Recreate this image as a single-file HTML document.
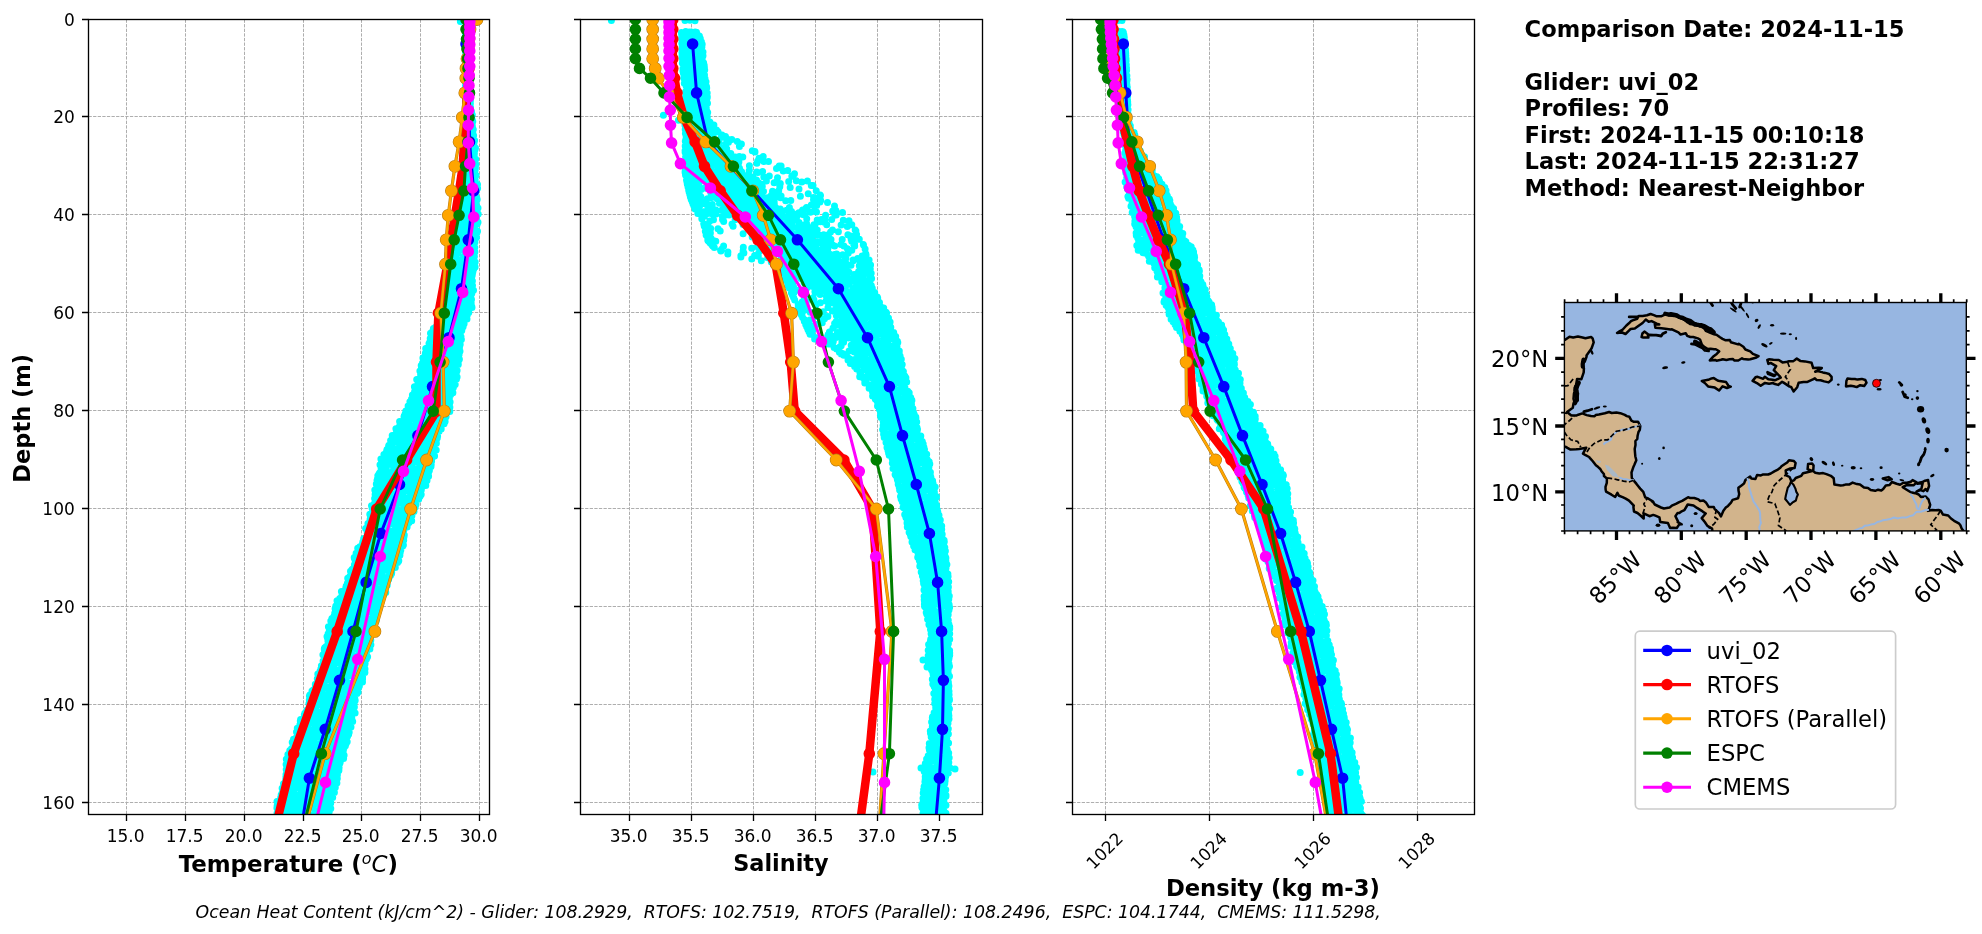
<!DOCTYPE html><html><head><meta charset="utf-8"><title>Glider vs model comparison</title><style>html,body{margin:0;padding:0;background:#fff}svg{display:block}</style></head><body><svg width="1982" height="934" viewBox="0 0 1982 934" font-family="'DejaVu Sans','Liberation Sans',sans-serif" style="will-change:transform">
<rect width="1982" height="934" fill="#fff"/>
<defs>
<clipPath id="cp0"><rect x="88.5" y="19.5" width="401" height="795"/></clipPath>
<clipPath id="cp1"><rect x="580.5" y="19.5" width="402" height="795"/></clipPath>
<clipPath id="cp2"><rect x="1072.5" y="19.5" width="402" height="795"/></clipPath>
<clipPath id="cpm"><rect x="1564.4" y="302.5" width="401.9" height="228.4"/></clipPath>
</defs>
<path d="M126.5 19.5V814.5M185.5 19.5V814.5M244.5 19.5V814.5M303.5 19.5V814.5M361.5 19.5V814.5M420.5 19.5V814.5M479.5 19.5V814.5M88.5 19.5H489.5M88.5 116.5H489.5M88.5 214.5H489.5M88.5 312.5H489.5M88.5 410.5H489.5M88.5 508.5H489.5M88.5 606.5H489.5M88.5 704.5H489.5M88.5 802.5H489.5" stroke="#aeaeae" stroke-width="1" stroke-dasharray="3.3 1.3" fill="none"/>
<g clip-path="url(#cp0)">
<path d="M460.4 21.5h0M467.3 31.7h0M469.6 32.1h0M465.6 32.7h0M470 33.1h0M466 33.2h0M467.9 33.2h0M467.1 33.5h0M468.3 33.5h0M465.5 33.8h0M470 35.2h0M468.2 35.2h0M469.9 36.3h0M466.7 36.4h0M465.5 37.4h0M469.8 38.1h0M465.5 38.3h0M465.5 39.3h0M467.7 39.5h0M468.5 39.5h0M469.6 39.7h0M468.1 39.7h0M466.8 41h0M469.6 41.1h0M465.5 41.2h0M470 41.7h0M466.6 41.8h0M465.5 42.8h0M469.7 43h0M466.3 43.4h0M467.1 43.4h0M470 43.7h0M470 45.1h0M469.4 45.5h0M470 46h0M466 46.1h0M469.9 46.8h0M469.2 47.1h0M465.5 48.6h0M469.1 50.1h0M467.4 50.2h0M469.3 50.3h0M470 50.8h0M466 52.2h0M465.5 52.4h0M470 52.7h0M468.9 53h0M466.3 53.9h0M470 55h0M469.1 55.2h0M469.4 55.2h0M465.5 57h0M466.3 57.2h0M467.5 57.6h0M466.9 58h0M470 58.2h0M466.8 58.9h0M465.5 59.6h0M469.3 60.2h0M465.7 60.3h0M467.7 61.1h0M468.3 61.2h0M469.8 61.4h0M465.5 61.7h0M468.5 61.8h0M469 62.4h0M465.5 63h0M465.5 63.4h0M470 64h0M468.4 65.8h0M470 66.3h0M467.6 66.3h0M465.5 66.7h0M469.5 66.8h0M466.7 66.9h0M468.2 67.3h0M468.9 67.4h0M470 67.6h0M465.5 68.7h0M465.7 68.8h0M467.3 70h0M468.5 71h0M465.5 71.1h0M470 71.3h0M469.7 72.1h0M465.8 72.5h0M467.1 72.8h0M469.8 73.6h0M465.5 74.8h0M470.1 75.9h0M468.2 76h0M470.1 78.6h0M465.5 79.1h0M467.4 79.1h0M466.6 79.2h0M466.7 80.7h0M465.5 81.9h0M469.9 82.7h0M469.3 83.5h0M470 83.8h0M468.2 84.5h0M465.5 85.7h0M469 86.4h0M469.3 87h0M470.3 88.4h0M469.6 88.5h0M465.5 89.1h0M468.3 89.5h0M469.3 89.5h0M465.5 89.7h0M470.3 90.2h0M466.4 91h0M470.2 91.3h0M469.1 92.1h0M468.6 92.9h0M465.5 93.6h0M470.3 94.6h0M470 95.4h0M470.3 96h0M465.5 96h0M466.2 96.7h0M469.6 97h0M465.5 98.6h0M468.8 98.6h0M467.2 98.7h0M470.4 99.1h0M469.8 99.2h0M466.2 100.7h0M470.4 100.9h0M469.6 101.6h0M466.6 101.7h0M465.5 102.6h0M469.4 102.8h0M470.4 103.5h0M466.7 104.6h0M466.2 104.9h0M465.5 105.1h0M470.5 107.2h0M470.5 108.2h0M466 108.3h0M465.7 109h0M468.5 109.5h0M469.7 110.7h0M470.1 111.3h0M471.4 111.4h0M469.1 111.8h0M465.5 111.9h0M465.9 111.9h0M466.8 112.3h0M471.7 112.9h0M469.1 113.5h0M472.3 115h0M465.7 115.6h0M468.7 116.3h0M471.4 116.4h0M466.1 116.4h0M465.5 117.8h0M466.8 119.4h0M470.6 119.4h0M472.2 120h0M466.4 120.2h0M466.5 121.5h0M472.8 121.6h0M472.3 121.8h0M470.5 122.9h0M471.1 123h0M467.5 123.4h0M471.1 125.5h0M472.3 125.6h0M472 125.6h0M466.2 125.7h0M472.4 126.5h0M469.7 126.5h0M469.1 127.2h0M466.7 127.3h0M467.6 127.7h0M467.1 127.7h0M471.6 128.4h0M469.2 128.7h0M473.3 129.6h0M467.2 129.9h0M467.4 130.2h0M470.9 130.7h0M471.8 131h0M468.9 131.9h0M466.9 132.3h0M472.7 133.2h0M472.9 133.5h0M468.7 133.7h0M471.8 134.1h0M467.6 134.4h0M471.3 135.1h0M468.2 135.6h0M473.6 135.6h0M469.2 136.4h0M472.6 136.4h0M469.7 136.5h0M467 136.5h0M467.4 138.2h0M472 138.4h0M468.1 139h0M472.9 139.2h0M473.5 139.4h0M472.2 139.7h0M474.6 140.4h0M472.4 140.5h0M470.2 140.8h0M466.5 141.2h0M474.2 142h0M472.6 143.1h0M468.7 143.2h0M466.5 144.2h0M470.9 144.4h0M470.5 144.7h0M473.6 144.9h0M467 145h0M474 145.7h0M469.6 145.8h0M468.1 147.2h0M475.5 148h0M473.7 148.2h0M468.2 148.8h0M475.1 149.5h0M468.1 150.2h0M472.4 150.5h0M467.5 150.8h0M473.5 151h0M471.1 152.4h0M474.4 153.2h0M468.4 154.4h0M474.3 154.5h0M469.3 155.2h0M466.5 155.4h0M466.2 155.5h0M469.9 157h0M470.3 157.7h0M473.5 157.8h0M473.8 158.3h0M472.8 159.1h0M475.7 159.2h0M467.2 159.6h0M473.9 159.7h0M466.6 160.5h0M470.6 161.4h0M466.7 162.4h0M473.9 162.5h0M474 163.9h0M475.9 164.5h0M470.2 164.8h0M469.2 165.1h0M467.5 165.6h0M467.8 165.9h0M472.8 166h0M474.4 167.1h0M475.4 168.1h0M465.8 168.6h0M468 168.7h0M464.6 169.7h0M465.6 169.8h0M475.2 170.1h0M472.3 172h0M468.7 172.1h0M473.6 172.1h0M471.1 173h0M465.6 173.2h0M467 174.3h0M467.5 174.7h0M468.1 175h0M476.1 175.2h0M466.8 176.3h0M474.7 178h0M464.8 178h0M472.3 178.6h0M468 179.7h0M469 180h0M475.2 180h0M473.3 180.5h0M465.2 180.9h0M472.1 181.8h0M465.8 183h0M465 183.1h0M477.5 184.6h0M469.4 184.8h0M472.4 185.2h0M464.9 185.3h0M473.2 187h0M466.5 188.3h0M477.6 188.3h0M470.1 188.5h0M468.7 188.6h0M464.7 188.6h0M463.2 188.9h0M475.5 189.5h0M465.1 190h0M474.4 190.1h0M465.7 190.7h0M463.4 190.8h0M470.5 191h0M471 191.6h0M476 192.4h0M469 193.4h0M466.3 193.6h0M475.3 194.6h0M464.4 195h0M466.7 195.1h0M465.9 195.7h0M468.9 196.9h0M472.7 197h0M467.9 197h0M464.6 197.7h0M476.8 198h0M472.5 198.1h0M470.5 198.2h0M467.5 198.5h0M475.5 199.1h0M477.2 199.5h0M462.2 200h0M472 201.9h0M470 202.2h0M475.6 202.3h0M476.3 202.8h0M462.7 203.3h0M474.4 203.5h0M474.2 203.8h0M465.7 204.1h0M461.8 204.2h0M466.8 204.3h0M466.3 204.7h0M475.2 204.7h0M473.9 204.8h0M463.5 204.9h0M464 205.9h0M475.4 206.5h0M466.1 207.7h0M468 207.7h0M463.5 208.1h0M478 208.1h0M464.9 208.9h0M460.3 209h0M475.2 209.3h0M459.8 209.9h0M474.6 210h0M467 211.1h0M471 211.4h0M462.8 212.3h0M475.7 212.4h0M477.1 212.5h0M461.8 212.6h0M460.1 213.7h0M478.2 214.1h0M473.3 214.5h0M465.7 215h0M471.8 215.7h0M476.4 217.1h0M459.9 217.1h0M459.9 217.3h0M468.5 217.4h0M459.9 218.7h0M467 218.9h0M475.8 219h0M460.9 219.7h0M459 220h0M473.9 220.3h0M472.2 221h0M469.2 221.1h0M458.1 222.2h0M478 222.3h0M470 223.1h0M460.1 223.3h0M461.2 223.3h0M457.8 223.4h0M473.5 224.1h0M465 224.2h0M477.2 224.3h0M474.5 224.3h0M474.7 226.7h0M459.4 227h0M458.2 227.8h0M459.5 228.5h0M461.9 228.7h0M468.3 228.7h0M472.6 229.1h0M459.1 229.6h0M457 229.7h0M470.9 229.8h0M471.9 230.5h0M468.4 231.1h0M477.5 231.2h0M459.8 231.6h0M470.4 232.1h0M458.6 232.1h0M464.5 232.3h0M473.9 232.6h0M476.9 232.7h0M457.6 233h0M457 233.3h0M456.4 233.4h0M458.5 234.1h0M458.3 234.6h0M469.7 234.8h0M457.8 234.8h0M473.9 236h0M475.6 237.1h0M473.6 237.3h0M476.5 237.4h0M458.7 237.5h0M460.3 237.9h0M465.7 238.4h0M457.2 238.5h0M456.3 239.2h0M469 239.8h0M457.7 240h0M474.9 242.2h0M472.9 242.7h0M455.9 242.7h0M456 243.4h0M462.1 243.6h0M471.6 244.3h0M471.8 244.8h0M470.7 245.1h0M468.1 245.2h0M462.7 245.4h0M462.1 246.2h0M474.2 247h0M474.8 247.4h0M459.3 247.5h0M458.3 247.6h0M456.2 248.1h0M471 248.4h0M467.1 249.2h0M456.5 249.3h0M460 249.6h0M473.4 250.6h0M467.6 252h0M474.9 252h0M472 252h0M456.7 252.2h0M465.4 252.5h0M456.2 252.6h0M458.4 253h0M455.5 253.4h0M465.6 255.1h0M472.4 255.6h0M456.5 255.6h0M474.4 256.6h0M454.2 256.8h0M463.5 257h0M455 257.9h0M454.4 258.1h0M472 258.7h0M469.2 259.2h0M457.5 259.4h0M452.8 259.4h0M465 259.8h0M472.1 260h0M470.9 260.2h0M461 260.7h0M472.7 261.2h0M459.6 262.1h0M475.2 262.1h0M453.3 262.6h0M456.2 264h0M469 264.3h0M471.4 265h0M462.3 265.1h0M452.3 265.2h0M475.1 266.9h0M453.6 267.1h0M473.7 267.1h0M457.1 267.5h0M461.8 267.6h0M453.8 268h0M467.7 268.7h0M473.8 269h0M460.3 269.6h0M454 270.3h0M470.9 270.3h0M469.6 270.7h0M455.9 271.3h0M471.9 271.7h0M472.9 271.8h0M459.4 271.9h0M451.5 272.4h0M464.6 273.5h0M471.3 273.7h0M472.4 274.3h0M469.7 274.4h0M472.2 275.6h0M470.8 276.3h0M453.2 276.5h0M462.2 276.7h0M450.6 277h0M471.7 277.2h0M457 277.2h0M452.4 277.6h0M458.9 278h0M456.8 278.1h0M471.2 278.5h0M466.3 278.6h0M468.4 279.4h0M456.1 279.6h0M472.4 280.9h0M461.6 281.5h0M453.1 281.8h0M458.6 282h0M471.6 282.3h0M451 282.8h0M453.4 283.2h0M465.7 283.5h0M471.6 283.8h0M451.5 284.2h0M449 284.4h0M469.6 284.8h0M472.5 285.4h0M462.6 285.8h0M462.2 285.9h0M470.6 286.3h0M449.5 286.5h0M458.9 286.7h0M456.9 287.2h0M452.5 287.5h0M453.6 287.8h0M467.3 288.1h0M472.1 289.4h0M467.1 289.4h0M473.5 290.2h0M459.2 290.7h0M470.8 290.9h0M449.4 291.1h0M462.9 291.5h0M465 292h0M452.1 292.5h0M467.4 292.9h0M449.4 293.4h0M471.8 293.4h0M470.6 294h0M454.9 294.3h0M450.5 294.4h0M470.9 294.5h0M460.4 294.5h0M469.9 295.6h0M462.5 295.7h0M446.2 297.3h0M461.6 297.5h0M467 297.6h0M469.4 298.1h0M471.1 298.6h0M450.9 298.7h0M456.5 299.1h0M446.2 299.2h0M471.5 299.6h0M452.2 299.6h0M471.1 299.9h0M460.6 300.7h0M445.4 300.9h0M464.6 301h0M449.9 301.2h0M470.4 301.6h0M459.8 302.5h0M449.2 302.5h0M453.3 302.6h0M471.2 303.1h0M466.2 303.6h0M445.7 303.9h0M461.2 304.3h0M468 304.3h0M454.4 304.4h0M462.2 304.5h0M466.8 305.1h0M469.8 305.2h0M454.8 305.5h0M447.3 306.1h0M471.8 306.6h0M456.1 306.9h0M459.1 307h0M464.9 307.4h0M472 307.6h0M452.1 307.7h0M466.5 307.8h0M457 308.5h0M446.7 308.8h0M462.6 309.1h0M467.8 309.9h0M446.4 310.4h0M446.6 311.6h0M454.3 312.2h0M462.5 312.3h0M468.8 312.4h0M451.3 313h0M444 313.6h0M449.8 313.8h0M445 314.7h0M467.4 314.8h0M457.3 315h0M448.6 315.1h0M463.2 315.2h0M449.3 315.3h0M456.9 316.1h0M443.1 316.1h0M446.8 316.9h0M441.9 317h0M466.4 317h0M457 317.5h0M463.2 317.7h0M453.3 318.5h0M445 318.9h0M441.9 319.1h0M462.3 319.1h0M467 319.1h0M455.6 319.8h0M443.8 319.8h0M464.7 319.9h0M442.1 320h0M448.9 321.1h0M437.7 321.7h0M446.3 321.8h0M442.7 321.8h0M462.2 321.9h0M441.4 321.9h0M463.8 322.7h0M450.8 323.5h0M464.1 323.8h0M461.1 324.1h0M441 324.3h0M446.3 324.7h0M447.5 325.1h0M437.9 325.1h0M457.5 325.2h0M447.6 325.8h0M453.1 325.9h0M463.1 326.7h0M444.1 327h0M435.1 327.5h0M444.6 328.1h0M433.4 328.6h0M437.6 328.7h0M459.7 329.4h0M460.2 329.8h0M438.4 330.3h0M461.8 330.6h0M453.6 330.6h0M444 330.8h0M457.7 332h0M432.1 332.1h0M449.9 332.2h0M449.6 332.3h0M443.8 332.6h0M453.1 332.8h0M441 333.2h0M430.5 333.3h0M451.6 334.3h0M440 334.4h0M460.3 334.6h0M450 334.7h0M457 335h0M437.7 335.2h0M448.3 335.3h0M459.3 335.3h0M455.4 336.2h0M461 336.8h0M451 337.3h0M435.7 337.3h0M431.1 337.3h0M447.1 337.6h0M451.6 338.1h0M459.6 338.3h0M430.2 338.5h0M434.3 338.9h0M449.2 339h0M442.5 339.3h0M459.9 339.5h0M438.4 339.5h0M461.4 339.5h0M441.6 340.2h0M433.3 341h0M445.7 341.1h0M438.4 341.4h0M446.1 341.5h0M443.1 341.6h0M439.6 341.6h0M457.5 341.8h0M451.3 341.9h0M432.6 341.9h0M448.7 342h0M447.9 342.1h0M429.7 342.2h0M436.7 342.5h0M429 343.6h0M430.1 343.8h0M455.9 344.4h0M460.2 344.5h0M459.8 345.3h0M448.6 346.3h0M443.4 346.5h0M454.2 346.6h0M433.8 347h0M437.7 347h0M450.8 347.5h0M431.4 347.7h0M459.5 347.7h0M429.8 347.9h0M431.3 347.9h0M457.2 348h0M425.7 348.6h0M449.7 348.7h0M456.6 349h0M455.5 349.1h0M458.1 349.1h0M429.7 349.3h0M440.4 349.4h0M437 349.4h0M457.5 349.9h0M444.4 349.9h0M433.6 350.8h0M460 351.2h0M445 351.7h0M443.9 351.7h0M433.9 351.8h0M429.1 351.8h0M438.8 352.2h0M449.8 352.3h0M431.4 352.4h0M447.3 352.6h0M447.2 352.7h0M427 352.8h0M447.3 353.2h0M425.3 353.3h0M426 353.5h0M451.4 353.8h0M429.1 354h0M456.7 354h0M459.1 354.4h0M436.3 354.7h0M429.3 355.4h0M443.1 356.5h0M443.8 356.5h0M449.3 356.7h0M426.9 356.8h0M426.1 356.9h0M438.2 357h0M423.9 357.3h0M440.4 357.7h0M452.5 357.8h0M433.7 357.8h0M458 357.9h0M422.9 358h0M443.4 358.4h0M451.8 358.5h0M451.5 358.6h0M457.5 358.7h0M459.4 359.3h0M431.3 360.3h0M435.8 360.5h0M457.4 360.7h0M424.7 360.9h0M441.1 361.3h0M446.3 361.5h0M437.2 362.2h0M431 362.2h0M427.1 362.5h0M458.2 362.9h0M422.5 362.9h0M452.8 363.7h0M422.5 364.3h0M458.3 364.5h0M458.2 364.6h0M428.9 364.9h0M430.9 364.9h0M444.3 365h0M445.2 365.5h0M421.2 365.6h0M442.7 365.8h0M426.7 366.1h0M435.9 366.2h0M449.9 366.6h0M421.9 366.7h0M421.4 366.8h0M453.6 366.9h0M442.8 367.1h0M452.2 367.2h0M426.3 367.3h0M451.9 367.4h0M432.1 367.5h0M437.3 367.6h0M456.1 368h0M428.1 369.2h0M431.2 369.8h0M453.2 369.9h0M444.4 370.4h0M457.1 370.4h0M431.4 370.8h0M419.9 370.9h0M436.8 370.9h0M440.3 371h0M438.2 372h0M451.1 372h0M454.6 372.3h0M422.2 372.3h0M445.9 372.4h0M437.3 372.7h0M456.3 373.3h0M422.8 373.7h0M455.1 374.1h0M421.6 374.6h0M452.4 374.7h0M449.3 374.7h0M420.6 374.8h0M427.7 375.4h0M444.5 375.6h0M453.5 375.6h0M436.2 375.8h0M432 376h0M438.3 376h0M437.2 376.8h0M438.1 376.8h0M457.1 377.1h0M421.2 377.2h0M427.5 377.5h0M422.4 377.5h0M456.1 378.1h0M451.4 378.1h0M449.8 378.4h0M423.9 378.7h0M456.5 378.9h0M416.7 379.4h0M429.9 379.6h0M452.7 379.7h0M433.2 380h0M423.7 380.1h0M444.5 380.3h0M440.8 380.5h0M436 381.7h0M419.4 381.9h0M421.4 382h0M418.1 382.2h0M423.4 382.2h0M450.4 382.9h0M455.2 384.4h0M428 384.5h0M435 384.6h0M450.9 384.6h0M439.3 385.2h0M432.4 385.4h0M417.9 385.5h0M445.2 385.5h0M436.2 385.6h0M435.3 386h0M434.8 386.2h0M414.4 386.7h0M420.7 386.8h0M415 387.2h0M426.7 387.5h0M453.4 387.5h0M452.5 387.9h0M438.4 388h0M427 388.2h0M422.1 388.8h0M425.1 389.2h0M432.2 389.2h0M451.5 389.4h0M415.8 389.5h0M447.8 389.6h0M441.5 389.8h0M439.2 390.1h0M446.2 390.2h0M426.1 390.3h0M435.5 390.7h0M429.3 390.9h0M431.5 390.9h0M418 391.4h0M414.6 391.4h0M446.5 391.7h0M414.8 391.7h0M416.8 391.9h0M445 392.2h0M452.9 392.7h0M424.3 393.4h0M450.9 394.5h0M440.7 394.7h0M434.7 395.1h0M412.4 395.1h0M431.8 395.5h0M445.9 395.8h0M439 395.9h0M428.9 396.1h0M449.4 396.3h0M415.3 396.3h0M419.4 396.5h0M443.1 396.6h0M415.1 396.7h0M438.4 397.1h0M449 397.3h0M442.7 397.3h0M447.3 397.4h0M449.4 397.9h0M416.5 398.7h0M424.7 398.8h0M412.6 398.9h0M411.5 398.9h0M449.2 399.2h0M412.5 399.7h0M441.1 400h0M413.3 400.6h0M429.6 400.6h0M446.9 400.8h0M432.7 401.1h0M419.6 401.1h0M435.2 401.1h0M448.5 401.4h0M437 401.7h0M409.9 401.8h0M450.1 402.1h0M417.1 402.8h0M424.3 402.9h0M410.6 403.6h0M413.8 403.7h0M449.5 404.3h0M417.1 404.3h0M410.8 404.4h0M435.6 404.5h0M425.2 404.5h0M442.7 405h0M432.8 405.3h0M424.3 405.7h0M408.1 406.1h0M429.4 406.2h0M448 406.9h0M449.9 407.2h0M419.6 407.3h0M444.5 407.4h0M422.2 407.6h0M437.6 408h0M408.4 408.4h0M410.9 408.9h0M414.5 409.1h0M413.9 409.2h0M423.9 409.4h0M432.6 409.5h0M431.2 409.6h0M435.6 409.8h0M448.7 410h0M411.3 410.5h0M405.8 411.1h0M449.8 411.5h0M441 411.5h0M443.5 411.7h0M420 412.5h0M415.5 412.7h0M443.1 412.8h0M425.4 412.9h0M428.9 413h0M421 413.5h0M438.6 413.6h0M405.2 413.8h0M407.8 414h0M406.4 414.1h0M429.5 415.6h0M404.3 415.7h0M407.3 416h0M438.8 416.2h0M433.8 416.5h0M405.4 416.6h0M446.1 416.6h0M404 416.8h0M446.1 416.8h0M412.6 417h0M435.3 417h0M417.2 417.2h0M417.8 417.3h0M438.8 418.3h0M429.6 418.6h0M445 418.6h0M433.4 418.6h0M407.7 418.6h0M404.2 418.7h0M423.4 418.9h0M413.3 418.9h0M428 418.9h0M434.7 419h0M441 419.5h0M428.5 420.6h0M419.6 420.7h0M402.9 421.1h0M441.4 421.5h0M399.6 421.5h0M445.1 421.5h0M415.7 422h0M408.7 422.8h0M441.9 423h0M431.8 423.2h0M426.9 423.3h0M424 423.7h0M444.1 423.8h0M401.2 424h0M438.6 424h0M421.7 425h0M399.8 425.4h0M402.6 425.4h0M409.9 425.6h0M435 425.6h0M427 425.7h0M434.3 425.8h0M405.2 425.9h0M436.5 426h0M422.9 426h0M440 426.3h0M435.3 426.3h0M416.5 426.4h0M441 427.5h0M432.9 428.6h0M433.7 428.6h0M395.9 428.8h0M441.2 428.9h0M424.8 429h0M427.6 429.2h0M397.3 429.4h0M416.3 429.7h0M422.5 430.1h0M406.2 430.2h0M397.5 430.4h0M412.4 430.5h0M438 430.6h0M399.5 430.7h0M402.9 430.7h0M429.5 431.1h0M439.2 431.2h0M400.5 431.3h0M417.3 431.4h0M405.6 432h0M426 432.8h0M397 433.4h0M437.2 433.5h0M431.4 433.7h0M395.7 433.9h0M412.2 434.3h0M405.5 435h0M421.7 435.3h0M406.7 435.3h0M419.4 435.4h0M392.2 435.6h0M433.8 435.6h0M410.8 435.6h0M397.9 436.2h0M437.6 436.3h0M436.5 436.5h0M401.8 436.5h0M392.4 437.7h0M395.6 437.8h0M437.3 438.1h0M432.6 438.2h0M425.4 438.4h0M430.4 438.5h0M414.3 438.5h0M419.4 438.9h0M406.4 439h0M401.1 439.2h0M392 439.4h0M419.8 440.1h0M431.7 440.1h0M400.2 440.3h0M409.7 440.4h0M390.6 440.6h0M436.2 440.9h0M435.4 441.5h0M422.6 441.9h0M392.1 442.3h0M398 442.5h0M403.4 443.1h0M436.4 443.2h0M426.8 443.3h0M415.6 443.4h0M421.5 443.5h0M429.7 443.5h0M401.1 443.5h0M408.2 443.6h0M391 444.2h0M418.2 444.9h0M392.3 445h0M410.5 445h0M408.9 445.1h0M388.9 445.3h0M389.5 445.4h0M404.7 445.5h0M414 445.6h0M426.7 445.8h0M388.6 446h0M434 446.9h0M389.7 447.3h0M430.8 447.9h0M405 448.2h0M413.4 448.5h0M407.4 448.6h0M398.3 448.6h0M388.3 448.8h0M423.7 448.8h0M418.1 449h0M398 449.3h0M387 449.4h0M431.7 449.5h0M407.5 449.8h0M436.2 450h0M393.3 450h0M416.6 450.2h0M432.5 450.4h0M419.1 450.5h0M431.8 450.8h0M426.1 451h0M386.6 451h0M409.6 451.8h0M398.9 451.9h0M427.5 451.9h0M432 452.4h0M393.1 452.5h0M415.7 452.8h0M406.2 453.3h0M386.4 453.3h0M402.5 453.6h0M401 454.1h0M392.3 454.2h0M393.2 454.4h0M383.9 454.5h0M384.4 454.7h0M411.9 454.7h0M387 455h0M421.9 455.3h0M419.6 455.7h0M426.7 455.7h0M434.6 456h0M423.5 456.1h0M432.8 457h0M409.9 457.8h0M415.5 457.9h0M401.5 457.9h0M423.1 458h0M384.2 458.1h0M395.4 458.2h0M386.1 458.4h0M404.6 458.4h0M383.2 458.5h0M398.2 458.5h0M380.9 459.1h0M389.2 460h0M382.2 460.2h0M408.6 460.2h0M428.8 460.3h0M416.2 460.6h0M430.8 460.8h0M385.5 460.8h0M411.4 460.9h0M415 461h0M422 461.1h0M431.6 461.2h0M407.4 461.2h0M430.2 461.6h0M396.9 461.9h0M389 462h0M425.5 462.1h0M417.1 462.4h0M408.7 462.9h0M382.8 463h0M396.7 463.1h0M393.1 463.7h0M381.9 463.8h0M398.9 463.9h0M383.6 463.9h0M390.3 464.3h0M412 464.4h0M403.8 464.4h0M401.3 464.5h0M380 464.8h0M386.1 464.8h0M431.2 464.8h0M422.9 464.9h0M382.1 465.5h0M382.7 465.8h0M428.3 465.9h0M426.1 466.4h0M431 466.4h0M408.6 467.3h0M381.6 467.5h0M406.2 467.8h0M393.7 468h0M418.9 468.1h0M422.7 468.6h0M405 468.7h0M381.1 468.9h0M381.9 469.1h0M386.4 469.2h0M399.1 469.3h0M382.4 469.3h0M401.1 469.4h0M393.5 469.4h0M415.8 469.5h0M410.3 469.5h0M427.4 469.9h0M429.4 470.4h0M412.2 470.7h0M418.5 470.8h0M428.4 470.9h0M382.6 471.1h0M423.9 471.4h0M394.9 471.7h0M408.7 472.2h0M392 472.3h0M407.1 472.3h0M428.6 472.5h0M379.7 472.7h0M380.6 473.5h0M379 473.7h0M399.2 473.9h0M379.3 474h0M391.7 474.1h0M387.5 474.3h0M387 474.5h0M425 474.6h0M417.7 474.7h0M400.4 475.1h0M402.3 475.2h0M410.3 475.4h0M382.1 475.5h0M412.7 475.5h0M424.9 475.6h0M377.8 475.7h0M425.5 475.9h0M411.6 475.9h0M404.8 476.2h0M428.6 476.3h0M398.9 476.5h0M422.3 476.6h0M419.6 476.7h0M408.3 477.5h0M380.6 477.8h0M395.8 478.1h0M394.4 478.1h0M377.5 478.7h0M381.6 478.8h0M416.4 478.8h0M378.9 479h0M388.8 479h0M420.6 479.3h0M387.5 479.3h0M427 480.4h0M377 480.5h0M406 480.6h0M425.3 481.1h0M393.5 481.3h0M414.2 481.4h0M419.3 481.8h0M410.1 482h0M401.8 482.2h0M399.4 482.5h0M380.6 482.7h0M379.4 482.7h0M383.4 483.3h0M377 483.3h0M396.4 483.3h0M416.9 483.7h0M376.3 483.9h0M407.7 483.9h0M423.2 484.1h0M387.5 484.2h0M420.3 484.3h0M390.1 484.4h0M400.9 484.7h0M407.7 484.8h0M376.7 485h0M378.8 485.3h0M413.5 485.4h0M425.8 485.5h0M406 486h0M399.1 486.4h0M409.4 486.4h0M416.4 486.4h0M379.7 486.8h0M386 486.9h0M395.2 487.3h0M400.7 487.4h0M417.6 487.6h0M396.7 488.4h0M400.2 488.7h0M389 488.9h0M421.4 489h0M389.9 489.3h0M401.2 489.6h0M383 489.8h0M374.8 489.9h0M421.3 489.9h0M381.7 490h0M407.3 490.2h0M389.6 490.8h0M407.7 491.1h0M413.6 491.2h0M378.2 491.5h0M403 492.1h0M397 492.2h0M413.5 492.3h0M402.9 492.5h0M375.7 492.7h0M397.5 492.9h0M377.5 493.6h0M382 493.8h0M415.6 493.9h0M394.1 493.9h0M386.9 494h0M398.6 494.5h0M375.1 494.5h0M421.2 494.6h0M384.6 494.6h0M382.3 494.7h0M376.7 495h0M395.4 495.2h0M418.6 495.2h0M388.9 495.5h0M391.2 495.8h0M416.7 496.1h0M420.1 496.3h0M413.2 496.3h0M384.5 496.6h0M398.4 497.1h0M391.9 497.2h0M388.7 497.3h0M389.3 497.3h0M410 497.5h0M377.9 497.5h0M407.5 497.7h0M377 498.2h0M374.6 498.4h0M403.6 498.5h0M411.7 498.8h0M390.4 499.2h0M418.7 499.3h0M375.9 499.4h0M384.4 499.6h0M418 499.6h0M375.5 499.8h0M416.7 499.9h0M386.3 500.2h0M398.6 500.3h0M378.2 501h0M376.6 501.3h0M396.9 501.8h0M386.5 502h0M402 502.2h0M408 502.3h0M375.7 502.5h0M394.4 502.9h0M380 503h0M377.2 503.3h0M416 503.5h0M398.8 503.6h0M389.6 503.6h0M374.2 503.8h0M375.1 504.1h0M412.7 504.4h0M416 504.6h0M381.7 504.8h0M403.5 505h0M383.7 505.3h0M403.7 505.7h0M371.5 505.8h0M394.2 506.2h0M388.4 507.1h0M408.7 507.2h0M415.2 507.3h0M392.5 508h0M372.1 508.4h0M378.3 508.6h0M381.2 508.7h0M382.8 508.7h0M373.4 508.8h0M413.5 509h0M398.2 509.9h0M413.4 510.5h0M384.5 510.6h0M378.1 510.8h0M399.9 510.9h0M409.2 511h0M414 511.6h0M403.6 512h0M402.3 512.1h0M394.7 512.2h0M374.1 512.4h0M389 512.6h0M392 513.3h0M380.4 513.3h0M373.6 513.3h0M410.8 514.1h0M385.2 514.1h0M377.8 514.2h0M369.8 514.2h0M404.7 514.3h0M370.1 515h0M411.9 515.8h0M395.3 516.1h0M411.3 516.2h0M400.8 516.9h0M385.5 517.1h0M380.7 517.2h0M383 517.4h0M377.3 517.9h0M390 518.3h0M409.6 518.8h0M372 518.8h0M370.1 519.3h0M404.4 519.3h0M398.6 519.6h0M378.8 520h0M406.5 520h0M373.9 520.2h0M411.7 520.8h0M392.4 520.8h0M390.2 521h0M386.2 522.1h0M409.1 522.4h0M377.2 522.5h0M383.3 522.7h0M371.1 523.1h0M393.3 523.5h0M367.9 523.6h0M392.3 523.8h0M396.2 524.2h0M401.5 524.6h0M379.8 524.9h0M398.4 525.2h0M375.8 525.3h0M407.3 525.3h0M406.5 525.5h0M367.8 525.8h0M395.4 525.8h0M407.1 527.1h0M387.3 527.2h0M402.7 527.4h0M376.6 528.3h0M365.6 528.6h0M384.9 528.6h0M402.4 529h0M371.2 529.4h0M383.7 529.6h0M380.6 530.1h0M401.9 530.2h0M403.8 530.3h0M368.4 530.5h0M392.6 530.7h0M394.3 531.3h0M375.9 531.8h0M397.9 531.9h0M383.1 531.9h0M393.4 532.1h0M390.1 532.2h0M369.9 532.5h0M387.1 532.9h0M383.9 533.2h0M367.4 533.2h0M367.2 533.3h0M399.5 534.1h0M368.5 534.5h0M369.2 534.8h0M398.2 534.8h0M400 535h0M404.3 535.1h0M400.8 535.2h0M388.8 535.3h0M368.2 535.6h0M392.3 536.5h0M404 536.8h0M377.8 536.8h0M367.3 536.9h0M373.9 537h0M390.1 537.1h0M371.2 537.2h0M381 537.4h0M385.4 537.5h0M391 537.7h0M374.9 538.2h0M378.5 538.4h0M401.8 538.5h0M363.7 538.6h0M379 538.8h0M374.3 539.1h0M396.2 539.4h0M398.7 539.7h0M389.7 540h0M403.7 540.2h0M369.6 540.7h0M390.9 541.5h0M363.5 541.5h0M373.6 541.6h0M362.9 541.8h0M365.2 541.8h0M392.2 542h0M388.6 542.6h0M384.6 542.7h0M362.6 543.1h0M401.2 543.6h0M375.8 543.6h0M364.9 544.4h0M395.4 544.8h0M385.1 544.8h0M403.4 545h0M378.9 545h0M367.5 545.3h0M389.7 545.4h0M382 545.8h0M397.4 545.9h0M402.8 546.1h0M359.8 546.7h0M388 546.7h0M384.8 546.8h0M372.1 546.9h0M360.4 547.2h0M357.7 548.2h0M399.8 548.3h0M360.8 548.3h0M373 548.6h0M361.8 549h0M368.5 549.4h0M378.8 549.8h0M397.9 549.8h0M363.9 550h0M392.1 550h0M393.2 550.1h0M400.8 550.2h0M366.1 550.2h0M376.5 550.3h0M381.5 550.4h0M391.7 550.7h0M368.6 551.2h0M373 551.7h0M357.8 551.7h0M372.5 552.1h0M400.2 552.6h0M385.3 552.7h0M392.3 552.9h0M356.1 553.2h0M388.2 553.9h0M365.7 554h0M378.5 554h0M361.5 554.1h0M395.8 554.7h0M389.3 554.7h0M394.1 554.9h0M376.2 555.2h0M399.9 555.3h0M372.6 556.3h0M365.9 556.6h0M359.5 556.6h0M383.1 556.7h0M383.2 556.8h0M356.8 556.9h0M397.3 557.2h0M354.2 557.5h0M382.1 558.1h0M370 558.1h0M395.8 558.1h0M354.3 558.2h0M361.4 558.5h0M395.1 558.7h0M364.5 558.9h0M386.8 559.1h0M373.5 559.7h0M377.7 559.9h0M397.1 560h0M389.7 560.3h0M379.4 560.6h0M398.8 560.7h0M398.7 560.9h0M360.1 561.2h0M369.2 561.2h0M382.6 561.3h0M357.8 561.4h0M363.1 561.6h0M387.1 561.7h0M397.6 562.4h0M355.2 562.5h0M368.9 562.7h0M356.4 562.7h0M356.4 563.7h0M388.7 564.4h0M394.9 564.6h0M354.4 564.8h0M379.5 564.8h0M375.5 565h0M391.8 565.1h0M393.9 565.3h0M362.2 566h0M359 566.3h0M382 566.3h0M366.7 566.6h0M374.1 566.7h0M370.6 567.3h0M383.8 567.4h0M395.3 567.5h0M391.4 568.2h0M382.4 568.2h0M352.5 569h0M352 569.4h0M378.2 569.4h0M374.7 569.7h0M387.8 569.8h0M390.8 569.9h0M355.1 570h0M369.5 570.2h0M363 571.3h0M350.5 571.3h0M380 571.5h0M364.2 571.6h0M352.5 572h0M391.7 572.3h0M382.5 572.5h0M361.9 573.1h0M359.3 573.2h0M354.5 573.5h0M368.4 573.6h0M353.2 573.6h0M391.6 573.6h0M363.9 573.8h0M351.8 573.9h0M353.5 574.2h0M365.7 574.3h0M356.3 574.5h0M374.5 574.6h0M389.4 574.6h0M370.8 574.7h0M381.6 575h0M390.5 575.6h0M359.9 576h0M349.9 576.2h0M364.9 576.5h0M376.1 576.6h0M381.1 576.7h0M373.6 576.9h0M388.2 577.5h0M386.1 577.5h0M347.7 578.3h0M381.5 578.6h0M349 578.8h0M388.7 579.2h0M372.3 579.3h0M356.1 579.3h0M352.1 579.7h0M370.6 580.2h0M386.8 580.3h0M354.8 580.6h0M368.9 581h0M379 581.4h0M362.8 581.5h0M350.8 581.7h0M357.8 582.7h0M373.2 582.7h0M386.4 582.8h0M347.4 583.2h0M354.7 583.3h0M366.5 583.7h0M384 584h0M375.5 584.2h0M385.2 584.4h0M382.6 585.2h0M387.2 585.3h0M350.9 585.4h0M366.2 585.5h0M371 585.7h0M346.2 586h0M362.9 586.4h0M355.4 586.4h0M347.4 586.5h0M361.1 586.7h0M374.3 586.7h0M348.7 587.1h0M345.8 587.8h0M347.7 587.9h0M371.3 588h0M349.4 588.2h0M384.7 588.5h0M377.9 588.8h0M356.6 588.8h0M384.9 589.3h0M348.9 589.8h0M381.4 590.3h0M379.1 590.4h0M364 590.6h0M349 590.7h0M365.1 590.7h0M354.2 591.1h0M376.2 591.3h0M366.4 591.4h0M350.7 591.6h0M341.4 591.6h0M384.3 591.9h0M344.1 592.3h0M385.8 592.4h0M345.9 592.7h0M343.6 592.7h0M358.1 592.8h0M355.6 592.9h0M371.6 593.1h0M357.4 593.5h0M366.6 594.6h0M383.7 594.7h0M381.9 594.8h0M379.5 595h0M360.7 595h0M341.9 595.7h0M364.3 596.4h0M343.2 596.6h0M373.5 597h0M382.3 597.1h0M344.8 597.4h0M351.7 597.4h0M353 597.8h0M359.1 598.1h0M348.2 598.2h0M368.2 598.2h0M339.7 598.6h0M371.9 599.3h0M343.2 599.3h0M374.5 599.5h0M378.7 599.8h0M380.7 600h0M379.9 600.1h0M340.5 600.1h0M363.4 600.2h0M337 600.7h0M348.3 601.8h0M379.9 602h0M357.3 602.1h0M344.4 602.5h0M379 602.6h0M354.9 602.6h0M374.7 602.9h0M366.2 603h0M377.6 603.3h0M361.8 603.5h0M374.6 603.9h0M372.9 604.1h0M377.5 604.6h0M343.2 604.6h0M371 604.6h0M378.7 604.7h0M344.4 604.9h0M346 605.4h0M351.8 605.5h0M335.8 606h0M339.4 606.2h0M354.6 606.2h0M362.7 606.2h0M378.7 606.6h0M337.4 606.7h0M371.4 607.2h0M358.8 607.4h0M369.1 607.6h0M353.7 607.7h0M351.3 608h0M372.7 608.1h0M358.5 608.6h0M335.1 608.7h0M374.5 608.9h0M374.9 609h0M349.4 609.1h0M339.7 609.2h0M378.8 609.5h0M372 609.6h0M359.6 609.9h0M341.8 610h0M355 610.6h0M365.9 610.7h0M335.5 610.8h0M367.4 610.9h0M376.9 611.1h0M349.5 612.2h0M346.9 612.3h0M346 613.1h0M334.7 613.3h0M341 613.4h0M361.1 613.5h0M359.1 613.9h0M374.1 614h0M365.9 614.1h0M376.5 614.3h0M372.8 614.4h0M351.6 614.7h0M341 615.5h0M351 615.5h0M365.2 615.7h0M334.1 616h0M375 616.3h0M355 616.4h0M337.8 616.8h0M373.9 616.9h0M349 616.9h0M355.5 617.2h0M333.3 617.9h0M348.6 617.9h0M373.4 618.4h0M331.9 618.6h0M366.3 619.1h0M359.2 619.1h0M370.4 619.1h0M376.5 619.4h0M369.6 619.5h0M344.9 619.9h0M347.9 620.1h0M364.4 620.5h0M353.3 620.6h0M365.2 620.7h0M358 620.8h0M364.9 620.8h0M376.1 620.9h0M330.8 620.9h0M340.5 621.8h0M336.4 622h0M331.5 622.5h0M368.2 622.7h0M372.5 623h0M364.9 623.2h0M338.5 623.2h0M347.6 623.5h0M362 624.1h0M366.6 624.2h0M342.7 624.3h0M374.4 624.4h0M371.2 624.6h0M336.8 624.6h0M362.1 624.9h0M355.8 625h0M340.6 625.1h0M351.1 625.2h0M349.7 625.2h0M332.7 625.7h0M373.6 625.9h0M331.8 626.2h0M328.4 626.7h0M345.5 626.7h0M337.3 627.5h0M343 627.6h0M361.6 628.3h0M330.9 628.4h0M333.6 629h0M348.9 629h0M362.8 629.1h0M352.1 629.3h0M370.5 629.3h0M368.3 629.5h0M356.1 629.8h0M371.1 630.6h0M360 630.8h0M348.3 631.1h0M368.9 631.3h0M329.2 631.4h0M356.5 631.5h0M370.5 631.6h0M337.7 631.7h0M349.6 631.7h0M343.9 632h0M360 632h0M351.5 632.3h0M368.5 632.5h0M333.1 633.3h0M364.1 633.4h0M328.1 633.7h0M366.4 633.7h0M330.8 634h0M366.3 634.6h0M344.1 635.2h0M353.5 635.4h0M357.6 635.4h0M338.9 635.4h0M359 635.8h0M370 636.1h0M347 636.4h0M327 636.5h0M358.7 636.8h0M369.6 636.8h0M338.2 636.8h0M336.1 636.8h0M349.5 636.9h0M360 636.9h0M339.5 637.6h0M327.4 637.8h0M368.9 637.8h0M363.8 638.2h0M330.5 638.3h0M330.7 639.1h0M346.9 639.3h0M358.6 640h0M370.8 640.2h0M355.7 640.3h0M332.4 640.3h0M340.5 640.4h0M351.9 640.5h0M343.7 640.9h0M327.9 641.1h0M365.6 641.7h0M330.8 641.7h0M339.4 641.8h0M367.6 642.1h0M367.3 642.5h0M328.4 643h0M335.6 643.3h0M357.8 643.6h0M360.6 644.1h0M366.2 644.2h0M340.7 644.2h0M347.7 644.6h0M370.9 644.7h0M350.7 645h0M340.1 645h0M332.1 645.6h0M333.4 645.6h0M351.6 645.8h0M342.1 646h0M353 646.3h0M326.1 646.4h0M349.6 646.6h0M368.3 647h0M352.2 647.4h0M362.1 647.4h0M324.7 647.7h0M330.1 647.7h0M333.3 648h0M324.3 648.8h0M369.9 648.9h0M366.3 649h0M356.6 649.3h0M341.6 649.3h0M324.3 649.7h0M367.5 649.7h0M345.4 650.1h0M336.4 650.2h0M334.7 650.5h0M343.3 650.5h0M350 650.5h0M329.1 650.7h0M333.7 651.2h0M326.4 651.3h0M340.5 651.4h0M327.6 651.4h0M334.6 651.5h0M343.5 651.7h0M360.9 652h0M366.6 652.1h0M344.8 652.3h0M331.2 652.9h0M334.5 653.2h0M340.9 653.7h0M358.4 653.7h0M351.8 654.4h0M322.9 654.7h0M333.3 655.2h0M364.4 655.2h0M346.8 655.7h0M326.6 656h0M327 656.4h0M349.5 656.6h0M360.4 656.7h0M367.6 656.8h0M355.5 657.2h0M327.4 657.3h0M361 657.5h0M324.4 657.9h0M337.3 658.4h0M366 658.5h0M325.1 658.7h0M366.5 659.1h0M342.8 659.2h0M341.8 659.6h0M326.3 659.7h0M338.8 660h0M350.3 660h0M332.2 660h0M323.1 661h0M349.3 661.3h0M343.6 661.5h0M361.1 661.7h0M356.4 661.9h0M337.1 662.5h0M327.8 663.1h0M365.1 663.2h0M352.9 663.7h0M347 663.8h0M340.7 663.9h0M365 664.1h0M334.4 664.9h0M356.5 665.1h0M343.8 665.2h0M321.4 665.8h0M348.5 666.2h0M359.3 666.3h0M327 666.3h0M363.4 666.9h0M364.4 667h0M332.7 667.5h0M324 668h0M326.1 668h0M361.2 668.6h0M320.9 668.8h0M365 668.9h0M342.2 669.2h0M335 669.5h0M341 669.8h0M347.1 669.9h0M331 670.1h0M353.4 670.2h0M339.6 670.2h0M338.8 670.3h0M321.9 670.7h0M320.1 671h0M361.2 671.3h0M354.2 671.6h0M343.1 671.9h0M328.9 672.4h0M364.9 672.5h0M327.6 672.7h0M357.5 672.8h0M358.3 672.9h0M343.7 672.9h0M353.9 673.4h0M317.8 673.9h0M338.2 674h0M320.7 674.1h0M332.3 674.2h0M362.4 674.2h0M349 674.8h0M324.1 675.1h0M319.4 675.5h0M319.2 675.5h0M340.9 675.9h0M352.2 675.9h0M348.5 676.3h0M320.2 676.3h0M361.1 676.5h0M362.6 676.8h0M327.7 677.4h0M346.7 677.6h0M323.3 677.7h0M358.1 677.8h0M317.3 678.8h0M362.6 679h0M336.6 679.1h0M334.6 679.2h0M341.2 679.6h0M327.4 679.8h0M331.9 679.9h0M318.6 680.1h0M337.3 680.9h0M359.3 681.3h0M361.1 681.3h0M354.1 681.6h0M362.5 682h0M346 682.1h0M351.1 683.2h0M332.3 683.3h0M359.4 683.5h0M324.2 683.9h0M315.3 684.2h0M344.9 684.5h0M337.3 684.6h0M340.3 684.7h0M342.3 684.8h0M316.9 684.9h0M343.3 685.5h0M321.1 685.5h0M315.4 686h0M340.5 686.1h0M359.4 686.1h0M349.5 686.3h0M324.6 686.8h0M347.4 686.8h0M358.9 687h0M315.3 687h0M328.7 687h0M355.3 687.3h0M315.9 687.4h0M355.4 688h0M332 688.8h0M322.4 688.9h0M335.3 689.1h0M340.2 689.6h0M344.7 689.8h0M348.9 689.9h0M329.9 690.1h0M312.9 690.2h0M328.8 690.4h0M336.5 690.6h0M314 690.6h0M312 691.1h0M350.4 691.1h0M321.7 691.8h0M358.1 691.9h0M315.1 692h0M318.2 692.2h0M357.5 692.2h0M356.4 692.5h0M330.2 692.5h0M345.4 693h0M333.1 693.5h0M357 693.6h0M336.7 693.6h0M342.5 693.7h0M336.1 693.8h0M324.3 694.7h0M347.7 694.7h0M340.1 695h0M309.8 695h0M326 695.5h0M345.3 695.6h0M354.3 695.7h0M336.9 695.9h0M314.1 696h0M309.4 696h0M312.4 696.2h0M324.1 697h0M318.8 697.3h0M350 697.4h0M311.1 698.1h0M354.8 698.4h0M331.5 698.6h0M348.3 699.4h0M322.2 699.4h0M322.3 699.6h0M309.3 699.9h0M339.3 700.1h0M355.2 700.6h0M340.9 700.7h0M313.9 700.8h0M334.9 700.8h0M312.3 700.9h0M344.9 701h0M351.8 701.1h0M340.3 701.5h0M354 701.5h0M353.9 702h0M331 702h0M327.5 702h0M354.2 702.9h0M324.6 702.9h0M350.4 703.6h0M342.7 703.7h0M308.9 703.7h0M330.7 703.7h0M318.5 704.2h0M319.6 704.4h0M317.5 704.6h0M329.2 705.1h0M309.9 705.5h0M338.6 705.7h0M349.5 705.7h0M341.3 705.8h0M334.2 706h0M315.7 706.4h0M346.9 706.4h0M354.4 707.1h0M341.6 707.4h0M351.1 707.4h0M345 707.7h0M322.9 708h0M352.8 708h0M308.8 708.2h0M309.3 708.5h0M313.9 708.8h0M338.4 709h0M315.8 709.3h0M351 709.3h0M308.6 709.5h0M350.1 709.6h0M311.1 709.7h0M307 710h0M326.8 710.2h0M342.8 710.3h0M331.7 710.9h0M327.7 711h0M323.5 711.6h0M335.3 711.7h0M317.3 711.7h0M309.7 712h0M345.6 712.5h0M341.5 712.6h0M355.1 713h0M304.8 713.2h0M307 713.5h0M326.4 713.8h0M325.3 713.9h0M307.5 713.9h0M311.9 714.1h0M328.7 714.2h0M305.7 714.4h0M308.2 714.5h0M319 714.7h0M304.3 714.8h0M339.8 714.9h0M320.1 715.1h0M335.9 715.3h0M330.7 715.4h0M349.8 715.5h0M305.3 715.9h0M340.7 716.1h0M350.8 716.6h0M347.5 717.1h0M351.4 717.2h0M309.7 717.2h0M336.5 717.3h0M337.1 717.6h0M335 717.8h0M315.1 718h0M304 718.1h0M351.8 718.3h0M329.1 718.3h0M340.6 718.4h0M323.7 718.9h0M306.1 719.2h0M317.4 719.3h0M346.1 719.4h0M320.1 719.5h0M328.5 719.5h0M300.6 719.6h0M340.4 719.9h0M326.8 720.5h0M304.6 720.8h0M325 720.8h0M300.3 721h0M314.4 721.1h0M352.7 721.4h0M324.2 721.7h0M320 721.7h0M311.6 721.8h0M306.7 722.3h0M334.9 722.3h0M349.9 722.4h0M313.9 722.8h0M316.3 723h0M330.6 723.1h0M303.3 723.3h0M302.8 723.5h0M341.9 723.7h0M308.9 723.8h0M307.7 724h0M350.5 724h0M334.7 724h0M302.1 724.1h0M327.4 724.5h0M299.9 724.8h0M345.2 725h0M317.3 725.2h0M345 725.3h0M319.6 725.4h0M336.6 725.6h0M325.2 725.7h0M304.4 725.7h0M348.4 725.9h0M329.1 726.4h0M346 726.6h0M351 726.9h0M349.8 726.9h0M319.3 728.2h0M297.3 728.3h0M316.2 728.5h0M304.1 728.7h0M326.5 728.7h0M347.7 728.7h0M308.6 728.9h0M314.1 728.9h0M334.2 728.9h0M297.6 729.1h0M321.9 729.2h0M340.7 729.5h0M330.3 729.8h0M317.1 729.9h0M347.6 730.1h0M312.5 730.1h0M347.4 730.6h0M316.9 732h0M297.4 732.1h0M296.5 732.1h0M349.2 732.2h0M337.6 732.4h0M331.6 732.4h0M302.8 732.5h0M342.8 732.9h0M333.2 733.3h0M305.3 733.5h0M327.4 733.8h0M322.5 734.1h0M319.8 734.1h0M348.7 734.2h0M298.8 734.3h0M319.2 734.6h0M313.7 734.8h0M299.5 735h0M346.6 735h0M333.9 735.1h0M328.8 735.2h0M310 735.4h0M306.9 735.9h0M347.6 736.3h0M346.6 736.8h0M334 737.2h0M339.6 737.3h0M305.8 737.5h0M316.9 737.6h0M327.6 737.8h0M295.9 738h0M303.3 738.1h0M313.2 738.1h0M324.1 738.2h0M297.6 738.2h0M310.2 738.3h0M340.9 738.5h0M345.6 738.6h0M324.3 738.7h0M315.2 738.8h0M293.5 739.2h0M306.2 739.2h0M327.7 739.6h0M345.8 739.7h0M329.7 739.7h0M342.6 740h0M311.4 740h0M305.1 740.2h0M345.4 740.3h0M325.5 740.4h0M322 741.3h0M347.2 741.7h0M335.9 741.7h0M297.2 741.9h0M292.2 742.2h0M330.9 742.7h0M335 743h0M299.6 743h0M310.8 743.3h0M327.4 743.8h0M320.8 744h0M303.7 744h0M294.7 744.1h0M345.9 744.1h0M316.6 744.3h0M339.3 744.3h0M305.8 744.4h0M293.9 744.5h0M324.8 744.7h0M343.8 744.7h0M337.2 744.9h0M297.1 745h0M345.4 745.8h0M340.6 746.4h0M334.3 746.5h0M344.5 746.7h0M295.5 747.3h0M298.2 747.3h0M303.5 747.4h0M313.1 747.8h0M336.1 747.8h0M306.5 748h0M332.5 748.1h0M318.9 748.2h0M319.5 748.5h0M322.8 748.5h0M291.6 748.6h0M314.7 748.7h0M343.5 749.4h0M323 749.6h0M299.6 749.6h0M290.9 749.8h0M326.9 749.9h0M289.8 750.4h0M316.1 750.8h0M295.1 751.2h0M337.3 751.5h0M343.2 751.8h0M290.2 752h0M314 752.2h0M327.7 752.3h0M330.9 752.5h0M311.6 752.6h0M303.4 752.7h0M334.9 752.9h0M327 753.2h0M312.8 753.4h0M291 753.5h0M306.5 754.1h0M296.1 754.2h0M339.4 754.3h0M287.9 754.5h0M319.9 754.5h0M332 754.7h0M302.5 754.8h0M291.8 754.8h0M341.5 754.9h0M344.1 755.3h0M332.2 755.8h0M300.6 755.8h0M299.5 756.5h0M316.2 756.7h0M302.8 756.9h0M342.7 757.1h0M294 757.1h0M307.8 757.1h0M337 757.8h0M341.4 758.1h0M324.1 758.1h0M287.2 758.2h0M326.9 758.2h0M343.6 758.6h0M321 759.2h0M286.3 759.2h0M313.3 759.3h0M292.2 759.4h0M318.2 759.6h0M288.5 759.8h0M305.8 760h0M333.3 761h0M290.3 761.5h0M304.1 761.6h0M303.2 761.9h0M298.9 762.2h0M340.2 762.3h0M297.5 762.3h0M311 762.3h0M327.2 762.4h0M320.7 762.5h0M334.5 762.7h0M338.7 762.7h0M304.8 763.1h0M339.9 763.2h0M290.7 763.4h0M306.8 763.4h0M297.3 763.6h0M315.5 763.7h0M310.8 764.1h0M286.1 764.4h0M314 764.5h0M288.2 764.6h0M291.7 764.7h0M335.8 764.7h0M328 764.7h0M292.4 764.7h0M334.4 765.3h0M331.3 765.6h0M319.7 765.9h0M295.7 765.9h0M309.9 766.2h0M306.8 766.4h0M289.4 766.7h0M300.8 766.9h0M316.5 767.1h0M326 767.2h0M303.2 767.5h0M339.1 767.5h0M331.6 767.9h0M333.4 768h0M311.4 768.1h0M300 768.2h0M319.9 768.7h0M333.6 768.7h0M298.8 768.7h0M325.5 769h0M318.5 769.2h0M290.3 769.2h0M338.9 769.4h0M286.2 769.5h0M295.8 769.6h0M338 769.7h0M288.5 769.7h0M324.6 769.7h0M289 769.7h0M299.4 770.4h0M338.9 770.5h0M304.7 771.4h0M310.8 771.7h0M323 771.7h0M288.4 771.8h0M293.5 771.8h0M307.9 772.3h0M335.5 772.5h0M303.9 772.5h0M330.1 772.8h0M330.7 772.9h0M312.4 773.2h0M303.5 773.3h0M337.5 773.3h0M317.3 773.4h0M295.2 773.9h0M287.2 774.1h0M309.1 774.1h0M328.9 774.1h0M321.9 774.2h0M286 774.4h0M315.8 774.5h0M337.4 774.9h0M294.5 775.1h0M333.2 775.3h0M327.2 775.4h0M307.5 776h0M301.1 776.4h0M299.6 776.6h0M288.7 776.7h0M313.8 776.7h0M285.9 776.8h0M328.2 777h0M287.1 777.2h0M304.2 777.3h0M317.7 777.4h0M330.7 777.6h0M312.2 777.8h0M296.3 778.2h0M297.8 778.4h0M337.3 778.4h0M316.9 778.5h0M332.1 778.9h0M325 779h0M311.5 779h0M285.7 779.2h0M333.4 779.9h0M290.3 780.4h0M321.8 780.6h0M330.2 780.7h0M304 780.8h0M288.7 781.3h0M310.7 781.4h0M298.3 781.4h0M287.5 781.6h0M307.6 781.8h0M317.6 782.2h0M335.6 782.5h0M314.1 782.7h0M332.8 782.9h0M336.9 782.9h0M306.6 783.1h0M294.1 783.2h0M297.5 783.2h0M325.5 783.3h0M313 783.3h0M284.2 783.3h0M283.5 783.7h0M324.7 783.9h0M290 784.1h0M320.3 784.1h0M284.4 784.4h0M332.2 784.9h0M320.2 786.2h0M300.1 786.3h0M292.8 786.6h0M289.1 787h0M303.1 787.2h0M327 787.3h0M335.3 787.5h0M318 787.6h0M300.1 787.9h0M297.8 788h0M294.1 788h0M308 788.1h0M282.1 788.2h0M290.3 788.3h0M327.1 788.6h0M287.2 788.7h0M331.5 788.8h0M313.1 789.6h0M283.4 789.6h0M301.2 789.9h0M304.8 790h0M323.8 790.6h0M313.9 790.6h0M285.8 791h0M284.9 791.2h0M321.3 791.2h0M307.7 791.2h0M333.3 792.2h0M293.9 792.4h0M334.4 792.4h0M304.6 792.7h0M293 792.8h0M323 792.8h0M302.2 792.8h0M286.4 793h0M282.1 793h0M323.9 793.1h0M316.5 793.1h0M305.5 793.3h0M305.9 793.3h0M284.6 793.5h0M292.8 793.8h0M327.4 793.8h0M331.8 793.9h0M281.2 794.7h0M299.1 795.1h0M324.3 795.1h0M311.9 795.9h0M296.9 796h0M285.7 796.1h0M290.1 796.5h0M299.7 796.9h0M313.4 796.9h0M299.3 797.3h0M280.7 797.4h0M332.7 797.5h0M311.6 797.6h0M318.6 797.7h0M314.6 797.9h0M307 797.9h0M292.2 797.9h0M323.2 798h0M329.6 798.1h0M302.8 798.4h0M330.3 798.6h0M307.3 798.7h0M311.1 798.7h0M287.3 798.8h0M327.3 799.3h0M297.4 799.3h0M288.2 800.2h0M318.8 800.4h0M330.7 800.8h0M303.4 800.8h0M314.5 800.9h0M290.6 801.1h0M277 801.4h0M286.1 801.5h0M281.4 801.8h0M321.2 801.9h0M307.8 802h0M309.1 802.8h0M319.5 802.8h0M280.2 802.9h0M294.1 803h0M330.7 803.3h0M297.8 803.3h0M328.3 803.9h0M283.8 804.1h0M292.1 804.2h0M324.7 805.1h0M303.2 805.4h0M293.2 805.4h0M313.6 805.8h0M295.1 806h0M277.1 806.1h0M327.9 806.2h0M286.3 806.2h0M280.7 806.4h0M300.6 806.5h0M320.4 806.6h0M292.6 807.1h0M306 807.2h0M294.5 807.3h0M284.3 807.3h0M324.8 807.6h0M308.2 807.7h0M320.2 807.9h0M276.9 808.1h0M330.8 808.6h0M307.9 808.6h0M284 810.6h0M307.1 810.6h0M290.1 810.8h0M314.7 810.8h0M329.4 811h0M281.2 811h0M298.7 811.4h0M279.5 811.8h0M326.1 811.8h0M306.6 811.9h0M287.5 811.9h0M294.6 812.2h0M305.8 812.2h0M300.1 812.2h0M290.3 812.4h0M278.1 812.5h0M320.4 812.8h0M322.2 812.8h0M302.8 813h0M278.9 813.1h0M315.4 813.2h0M277 813.2h0M328.9 813.5h0M286.7 813.5h0M326.6 813.6h0M305.1 813.7h0M284.4 815.3h0M310.9 815.4h0M325.8 815.5h0M277 815.7h0M294.7 815.9h0M312.4 815.9h0M291.2 816.4h0M307.8 816.5h0M280 816.7h0M322.4 817.2h0M277.9 817.5h0M302 817.5h0M318.3 817.7h0M275.8 817.7h0M329.6 817.9h0M324.7 818h0M289.9 818h0M320.4 818.1h0M303.4 818.1h0M278.8 818.1h0M298.3 818.2h0M303.5 818.3h0M326.6 818.3h0M303.1 818.4h0M290 818.5h0M293.2 818.6h0M298.6 818.8h0M280.1 819.5h0M316 819.5h0M286.7 819.5h0M295.8 819.7h0M296.2 820h0M300.7 820.2h0M318 820.2h0M308.2 820.2h0M303.5 820.3h0M284.4 820.4h0M276.5 820.4h0M282.6 820.4h0" stroke="#00ffff" stroke-width="7" stroke-linecap="round" fill="none"/>
<polyline points="466,44 469,92.9 469.5,141.9 473.6,190.8 468.3,239.8 461.5,288.7 449,337.7 432.5,386.6 417.9,435.6 399.5,484.5 380.8,533.5 366.2,582.4 353,631.4 339.5,680.3 325.2,729.3 309.4,778.2 301.4,827.2" fill="none" stroke="#0000ff" stroke-width="3.0" stroke-linejoin="round"/>
<path d="M466 44h0M469 92.9h0M469.5 141.9h0M473.6 190.8h0M468.3 239.8h0M461.5 288.7h0M449 337.7h0M432.5 386.6h0M417.9 435.6h0M399.5 484.5h0M380.8 533.5h0M366.2 582.4h0M353 631.4h0M339.5 680.3h0M325.2 729.3h0M309.4 778.2h0M301.4 827.2h0" stroke="#0000ff" stroke-width="11.6" stroke-linecap="round" fill="none"/>
<polyline points="469,19.5 469,29.3 469,39.1 469,48.9 469,58.7 469,68.4 468.5,78.2 467,92.9 465.5,117.4 464,141.9 462.7,166.3 459,190.8 455,215.3 451,239.8 447.4,264.2 438.4,313.2 436.5,362.1 436.5,411.1 406.6,460 376.7,509 337.2,631.4 293.7,753.7 233.2,998.5" fill="none" stroke="#ff0000" stroke-width="8.5" stroke-linejoin="round"/>
<path d="M469 19.5h0M469 29.3h0M469 39.1h0M469 48.9h0M469 58.7h0M469 68.4h0M468.5 78.2h0M467 92.9h0M465.5 117.4h0M464 141.9h0M462.7 166.3h0M459 190.8h0M455 215.3h0M451 239.8h0M447.4 264.2h0M438.4 313.2h0M436.5 362.1h0M436.5 411.1h0M406.6 460h0M376.7 509h0M337.2 631.4h0M293.7 753.7h0M233.2 998.5h0" stroke="#ff0000" stroke-width="11.6" stroke-linecap="round" fill="none"/>
<polyline points="477,19.5 470,29.3 469,39.1 468,48.9 467,58.7 466,68.4 465.8,78.2 464.8,92.9 462.3,117.4 459.1,141.9 454.9,166.3 451.4,190.8 448.3,215.3 446.2,239.8 445.5,264.2 440.8,313.2 443.1,362.1 444.3,411.1 426.6,460 410.7,509 374.9,631.4 325.2,753.7 258.7,998.5" fill="none" stroke="#b87c12" stroke-width="3.2" stroke-linejoin="round"/>
<path d="M477 19.5h0M470 29.3h0M469 39.1h0M468 48.9h0M467 58.7h0M466 68.4h0M465.8 78.2h0M464.8 92.9h0M462.3 117.4h0M459.1 141.9h0M454.9 166.3h0M451.4 190.8h0M448.3 215.3h0M446.2 239.8h0M445.5 264.2h0M440.8 313.2h0M443.1 362.1h0M444.3 411.1h0M426.6 460h0M410.7 509h0M374.9 631.4h0M325.2 753.7h0M258.7 998.5h0" stroke="#b87c12" stroke-width="12.8" stroke-linecap="round" fill="none"/>
<polyline points="477,19.5 470,29.3 469,39.1 468,48.9 467,58.7 466,68.4 465.8,78.2 464.8,92.9 462.3,117.4 459.1,141.9 454.9,166.3 451.4,190.8 448.3,215.3 446.2,239.8 445.5,264.2 440.8,313.2 443.1,362.1 444.3,411.1 426.6,460 410.7,509 374.9,631.4 325.2,753.7 258.7,998.5" fill="none" stroke="#ffa500" stroke-width="2.2" stroke-linejoin="round"/>
<path d="M477 19.5h0M470 29.3h0M469 39.1h0M468 48.9h0M467 58.7h0M466 68.4h0M465.8 78.2h0M464.8 92.9h0M462.3 117.4h0M459.1 141.9h0M454.9 166.3h0M451.4 190.8h0M448.3 215.3h0M446.2 239.8h0M445.5 264.2h0M440.8 313.2h0M443.1 362.1h0M444.3 411.1h0M426.6 460h0M410.7 509h0M374.9 631.4h0M325.2 753.7h0M258.7 998.5h0" stroke="#ffa500" stroke-width="11.6" stroke-linecap="round" fill="none"/>
<polyline points="466,19.5 466,29.3 466.5,39.1 467,48.9 467.5,58.7 468,68.4 469,78.2 469.5,92.9 469,117.4 467.9,141.9 465.5,166.3 463.9,190.8 459.1,215.3 454.2,239.8 450.7,264.2 444.3,313.2 440.1,362.1 433.2,411.1 402.6,460 380.2,509 356,631.4 321.4,753.7 261.4,998.5" fill="none" stroke="#008000" stroke-width="3.0" stroke-linejoin="round"/>
<path d="M466 19.5h0M466 29.3h0M466.5 39.1h0M467 48.9h0M467.5 58.7h0M468 68.4h0M469 78.2h0M469.5 92.9h0M469 117.4h0M467.9 141.9h0M465.5 166.3h0M463.9 190.8h0M459.1 215.3h0M454.2 239.8h0M450.7 264.2h0M444.3 313.2h0M440.1 362.1h0M433.2 411.1h0M402.6 460h0M380.2 509h0M356 631.4h0M321.4 753.7h0M261.4 998.5h0" stroke="#008000" stroke-width="11.6" stroke-linecap="round" fill="none"/>
<polyline points="469.8,21.9 469.8,27 469.8,32.5 469.8,38.2 469.8,44.4 469.8,51 469.8,58.3 469.8,66.3 469.3,75.3 469,85.4 468.8,96.9 468.5,110.1 468.3,125.2 468.3,142.9 469.7,163.6 472.6,188 473.7,217 468.3,251.4 462.7,292.4 448.3,341.6 428.5,400.6 403.5,471.3 380.3,556.5 357.7,659.3 325.5,782.4 289.5,930.5" fill="none" stroke="#ff00ff" stroke-width="3.0" stroke-linejoin="round"/>
<path d="M469.8 21.9h0M469.8 27h0M469.8 32.5h0M469.8 38.2h0M469.8 44.4h0M469.8 51h0M469.8 58.3h0M469.8 66.3h0M469.3 75.3h0M469 85.4h0M468.8 96.9h0M468.5 110.1h0M468.3 125.2h0M468.3 142.9h0M469.7 163.6h0M472.6 188h0M473.7 217h0M468.3 251.4h0M462.7 292.4h0M448.3 341.6h0M428.5 400.6h0M403.5 471.3h0M380.3 556.5h0M357.7 659.3h0M325.5 782.4h0M289.5 930.5h0" stroke="#ff00ff" stroke-width="11.6" stroke-linecap="round" fill="none"/>
</g>
<rect x="88.5" y="19.5" width="401" height="795" fill="none" stroke="#000" stroke-width="1.33"/>
<path d="M126.5 814.5v6.5M185.5 814.5v6.5M244.5 814.5v6.5M303.5 814.5v6.5M361.5 814.5v6.5M420.5 814.5v6.5M479.5 814.5v6.5M88.5 19.5h-6.5M88.5 116.5h-6.5M88.5 214.5h-6.5M88.5 312.5h-6.5M88.5 410.5h-6.5M88.5 508.5h-6.5M88.5 606.5h-6.5M88.5 704.5h-6.5M88.5 802.5h-6.5" stroke="#000" stroke-width="1.33" fill="none"/>
<text x="125.6" y="842.2" font-size="17" text-anchor="middle">15.0</text>
<text x="184.6" y="842.2" font-size="17" text-anchor="middle">17.5</text>
<text x="243.6" y="842.2" font-size="17" text-anchor="middle">20.0</text>
<text x="302.6" y="842.2" font-size="17" text-anchor="middle">22.5</text>
<text x="360.6" y="842.2" font-size="17" text-anchor="middle">25.0</text>
<text x="419.6" y="842.2" font-size="17" text-anchor="middle">27.5</text>
<text x="478.6" y="842.2" font-size="17" text-anchor="middle">30.0</text>
<text x="74.8" y="25.8" font-size="17" text-anchor="end">0</text>
<text x="74.8" y="122.8" font-size="17" text-anchor="end">20</text>
<text x="74.8" y="220.8" font-size="17" text-anchor="end">40</text>
<text x="74.8" y="318.8" font-size="17" text-anchor="end">60</text>
<text x="74.8" y="416.8" font-size="17" text-anchor="end">80</text>
<text x="74.8" y="514.8" font-size="17" text-anchor="end">100</text>
<text x="74.8" y="612.8" font-size="17" text-anchor="end">120</text>
<text x="74.8" y="710.8" font-size="17" text-anchor="end">140</text>
<text x="74.8" y="808.8" font-size="17" text-anchor="end">160</text>
<path d="M629.5 19.5V814.5M691.5 19.5V814.5M753.5 19.5V814.5M815.5 19.5V814.5M877.5 19.5V814.5M939.5 19.5V814.5M580.5 19.5H982.5M580.5 116.5H982.5M580.5 214.5H982.5M580.5 312.5H982.5M580.5 410.5H982.5M580.5 508.5H982.5M580.5 606.5H982.5M580.5 704.5H982.5M580.5 802.5H982.5" stroke="#aeaeae" stroke-width="1" stroke-dasharray="3.3 1.3" fill="none"/>
<g clip-path="url(#cp1)">
<path d="M690 20.3h0M611.4 20.6h0M685 20.6h0M695 20.8h0M685.7 31.6h0M695.2 31.9h0M689.2 32h0M691.1 32.1h0M696.5 32.3h0M687.5 32.3h0M681.5 32.6h0M694.4 33.1h0M696 33.1h0M684.8 33.4h0M681.5 33.8h0M697 34.1h0M693.5 34.1h0M694.8 34.2h0M689.5 34.7h0M695.7 35.2h0M682.1 35.3h0M696.7 35.4h0M683.7 35.7h0M699.4 36h0M697.9 36.4h0M685.7 36.9h0M681.7 37h0M697.6 37.1h0M693.3 37.3h0M694.5 38.3h0M700.3 38.6h0M683.4 38.7h0M687.3 39.1h0M690.2 39.4h0M683.3 39.7h0M687 39.8h0M698.3 39.8h0M681.8 39.9h0M683.2 40.1h0M698 40.5h0M699.6 41.1h0M701.4 41.7h0M684.7 42h0M683.7 42.1h0M682.5 42.5h0M681.8 43.4h0M702.2 44.3h0M683 44.4h0M693 44.5h0M700.1 45.8h0M694.3 45.8h0M682.2 46.2h0M689.6 46.5h0M684.7 46.7h0M701.9 47h0M692.1 47.4h0M687.4 48h0M694.9 49h0M700.7 49h0M695.8 49.2h0M682.1 49.7h0M690.7 50.3h0M688.2 50.6h0M699.5 51.5h0M682.1 51.7h0M700.2 51.9h0M703 52h0M702 52.2h0M681.9 52.6h0M699.2 53.9h0M685.2 54.3h0M696.2 54.5h0M684.6 54.8h0M682 54.9h0M687.5 55h0M699.2 55.5h0M703 55.7h0M692.6 56.1h0M702.6 56.2h0M682 56.9h0M700.3 57h0M683 57.4h0M693.4 57.7h0M702.2 58.3h0M684.4 58.5h0M682.4 59h0M683.3 59.3h0M686.9 59.4h0M696.4 60.4h0M690.5 61.2h0M683.3 61.6h0M698.8 61.9h0M702.9 61.9h0M702.3 62.3h0M694.7 62.7h0M703.6 62.8h0M682.3 63h0M699 63.3h0M683.7 63.6h0M686.7 64.8h0M704.2 65.3h0M687.2 65.9h0M699.9 66.6h0M690.1 66.7h0M701.7 66.8h0M704.4 67.3h0M697 67.8h0M693.5 68.2h0M683 68.5h0M702.1 68.9h0M690.1 69.1h0M704.7 69.9h0M699.7 70.5h0M682.9 71.1h0M699.4 71.8h0M703.4 71.9h0M691.6 72.1h0M688.1 72.2h0M691.9 72.5h0M693.7 73.1h0M683.4 73.3h0M703.5 73.3h0M687.3 74.5h0M702.8 74.6h0M704.5 74.9h0M701.5 75.8h0M688.4 76.6h0M686.3 77h0M696.4 77.2h0M683.7 78.1h0M705 78.4h0M684.6 78.6h0M688.6 78.6h0M701.2 79.3h0M693.9 79.3h0M696.8 79.5h0M701.4 79.8h0M694.6 80.5h0M686.6 80.8h0M685.1 81.3h0M687 81.6h0M706 81.8h0M686.7 82.9h0M699 83.1h0M684.3 83.3h0M704.1 83.3h0M692.2 83.4h0M703.5 83.7h0M704.8 84.1h0M693.6 84.2h0M688.8 85.6h0M686.2 86.2h0M706.5 86.5h0M704 86.6h0M699.8 86.8h0M687.6 86.8h0M702.3 87h0M688.5 87.4h0M706.7 87.9h0M695.6 88.1h0M687 88.6h0M705.8 88.9h0M703.1 89.4h0M691.4 91.1h0M689.1 91.4h0M698.2 91.5h0M705.7 91.5h0M685.6 91.7h0M691 92.8h0M707.2 92.9h0M688.1 93.7h0M688.5 93.9h0M695.1 94.3h0M697.5 95.6h0M700.8 96.3h0M685.6 96.7h0M707.3 96.7h0M690.5 97.1h0M707.3 97.4h0M685.6 97.7h0M695.2 98.3h0M690.2 98.6h0M701 99h0M706.8 99.3h0M699.7 99.4h0M690 100.3h0M692.5 100.3h0M687.1 100.8h0M690.3 101.1h0M704.9 101.2h0M691.6 101.7h0M706.2 102.6h0M698.3 102.9h0M685.1 103h0M707.5 103.3h0M706.4 103.9h0M703.3 104.1h0M692.2 104.3h0M701.6 104.7h0M687.6 105.2h0M685.5 105.4h0M697.8 105.8h0M689.7 105.9h0M704.2 106.4h0M702.3 106.9h0M684.8 107h0M706.3 107.9h0M696.3 108.4h0M685.7 108.8h0M704.8 109h0M692.1 109.4h0M700.7 109.8h0M688.6 110.5h0M706.9 111.3h0M684.9 111.4h0M706.4 111.4h0M707.7 112.4h0M695.7 112.6h0M706.4 113.9h0M692.6 114h0M693 114.4h0M684.6 115.2h0M663.4 115.3h0M705 115.4h0M688.4 115.6h0M700.2 115.9h0M703.5 116.6h0M707.3 116.9h0M693.5 117h0M684.6 117.7h0M699.1 118h0M689 118.2h0M704.8 119.2h0M703.7 119.2h0M678.4 120.3h0M684.7 120.6h0M686.4 120.8h0M700.6 120.8h0M699.1 120.8h0M696.7 121.1h0M708.3 121.5h0M691.9 122h0M709.9 122.1h0M701.8 122.3h0M684.9 123.9h0M705.4 124.1h0M713.9 125.1h0M689.2 125.1h0M685 125.3h0M694.5 125.4h0M698.8 125.6h0M691.9 126.3h0M704.8 126.3h0M711.7 126.4h0M699.5 126.7h0M711.1 126.8h0M705.3 127.3h0M703.6 127.4h0M695.2 128.9h0M703.3 129.5h0M685.2 129.6h0M690.6 129.8h0M716.5 130h0M699 130.2h0M713 130.7h0M718 131.7h0M696.6 131.9h0M708.2 132.2h0M707.7 132.2h0M714.6 132.5h0M710.3 132.5h0M685.4 133.4h0M694.5 133.6h0M690.2 134h0M696.6 134.2h0M707.2 134.3h0M701.4 134.7h0M687 134.7h0M722 134.9h0M696.4 135h0M691.3 135.4h0M711.9 136h0M692.4 136.1h0M696.6 136.1h0M687.4 136.2h0M725.5 136.5h0M724.5 136.5h0M686.1 136.7h0M708.9 136.8h0M713 137h0M721.1 137.4h0M706.6 137.5h0M712.2 138.1h0M712.8 138.4h0M727.3 138.9h0M691.7 139h0M731.8 139.4h0M685.7 140h0M702.6 140.2h0M699.9 140.7h0M716.6 140.9h0M686.5 141h0M726.8 141.1h0M685.9 141.2h0M685.3 141.2h0M737.3 141.4h0M711.3 141.5h0M700.1 141.7h0M695.8 141.9h0M728.5 142.2h0M691.5 142.3h0M714.6 142.6h0M697.5 143.3h0M719.5 143.4h0M689.3 143.6h0M726.3 143.6h0M706.3 144h0M741.4 144.1h0M707.6 144.1h0M690.6 144.1h0M705.7 145.1h0M687.2 145.3h0M695.6 145.7h0M685.2 146h0M739.4 146.2h0M685.8 146.3h0M711.6 146.4h0M712.7 146.4h0M739.5 146.4h0M719.5 146.4h0M716.1 146.6h0M713.6 146.9h0M717.2 147.2h0M700.6 147.3h0M686.5 147.5h0M723.8 148.2h0M713.4 148.6h0M726.7 148.8h0M693.3 148.8h0M714.6 148.9h0M698.9 149.8h0M693.9 149.8h0M709.2 149.9h0M705.5 150.1h0M688.9 150.2h0M685.1 150.6h0M752.3 150.8h0M704 150.8h0M685.1 150.9h0M698.1 151.5h0M722.2 151.5h0M754.9 151.5h0M686.4 151.7h0M710.9 151.8h0M701.4 151.9h0M755 151.9h0M696.4 152.1h0M685.1 152.2h0M726.4 152.3h0M723.4 152.5h0M708.5 152.7h0M720.3 152.9h0M689 153.3h0M730.8 153.5h0M717.8 153.9h0M709 153.9h0M714.4 154.3h0M705.3 154.6h0M688.6 155.6h0M739.3 156.4h0M763.2 156.6h0M697.2 156.6h0M694.1 156.6h0M702.1 156.7h0M685.6 156.8h0M735.2 156.9h0M742.8 157h0M725.4 157.4h0M731.4 157.8h0M706.8 158h0M759 158.2h0M702.8 158.8h0M697.6 159.1h0M695.8 159.6h0M712.6 159.7h0M718.2 159.8h0M705.2 159.8h0M721.3 160h0M690.6 160.4h0M733 160.7h0M702.3 160.7h0M685.7 160.8h0M700.7 160.9h0M757.7 161.1h0M690.2 161.2h0M687 161.4h0M692 161.4h0M698.7 161.5h0M763.9 161.5h0M768.5 161.5h0M727.4 161.6h0M726.6 161.9h0M738.9 162.1h0M690.3 162.5h0M737 162.7h0M731.3 163.3h0M756.9 163.3h0M698.7 163.4h0M719.2 163.8h0M710.2 164.1h0M711 164.2h0M704.3 165.1h0M733.8 165.1h0M715.2 165.2h0M685.1 165.2h0M738.3 165.2h0M725 165.3h0M689.2 165.4h0M685.1 165.6h0M749.4 165.7h0M738 165.8h0M717.2 166h0M697.2 166.1h0M700.3 166.1h0M779.2 166.1h0M781.1 166.1h0M690.8 166.6h0M731.7 166.8h0M725.3 167h0M737.1 167.7h0M707.8 167.8h0M685.1 167.8h0M777.6 168h0M693.6 168.2h0M739.5 168.3h0M700.7 168.4h0M710.5 168.4h0M776.5 168.6h0M697.8 169.3h0M720 169.3h0M705.1 169.4h0M707.3 170h0M725.3 170.1h0M687.6 170.2h0M749.4 170.3h0M787.7 170.5h0M691.5 170.5h0M698.4 170.6h0M734.8 170.7h0M730.9 170.7h0M749.1 171.1h0M783.2 171.1h0M698.8 171.3h0M685.1 171.4h0M762.6 171.6h0M691.4 171.6h0M741.6 171.7h0M715.9 171.9h0M756.7 172h0M685.1 172.4h0M757.9 172.4h0M709.9 173h0M709.7 173.2h0M716.8 173.3h0M714.3 173.5h0M702.4 173.6h0M735.2 173.8h0M794.5 173.8h0M698.7 174h0M726.7 174.5h0M686.2 174.5h0M717.9 174.5h0M727.5 174.5h0M703.2 174.6h0M709.9 174.6h0M736.5 174.7h0M685.5 175h0M689.9 175.2h0M694.4 175.2h0M711.4 175.3h0M730.9 175.3h0M723.3 175.4h0M744.4 175.4h0M792.9 175.7h0M699.5 175.7h0M726.8 175.9h0M691.3 176.1h0M706.9 176.1h0M769.3 176.1h0M791.8 176.3h0M749.1 176.3h0M746.6 176.6h0M745.1 176.8h0M763.8 176.9h0M687.2 176.9h0M752.9 177.1h0M777.5 177.8h0M697.9 177.9h0M711.2 177.9h0M740.4 178.1h0M720.7 178.2h0M732.3 178.3h0M751.8 179.1h0M717.1 179.3h0M726.3 179.4h0M736.2 179.6h0M696.7 179.8h0M686.5 180h0M756.5 180.1h0M695.3 180.1h0M692.8 180.1h0M750 180.3h0M703.6 180.3h0M706.8 180.4h0M731.5 180.5h0M727.4 180.8h0M796.3 180.8h0M807.4 180.9h0M747.5 180.9h0M766.4 181.1h0M696.4 181.1h0M714.4 181.2h0M742 181.4h0M730.3 181.4h0M788.7 181.4h0M755.1 181.6h0M686.9 181.7h0M740.8 181.8h0M734.7 181.8h0M746.8 181.9h0M801.8 182h0M774.1 182.7h0M758.7 182.8h0M731.8 182.9h0M756 183.2h0M716 183.2h0M721.1 183.5h0M780.3 183.6h0M750.4 183.9h0M734.2 184.1h0M698.9 184.1h0M687.3 184.2h0M761.5 184.3h0M736.7 184.6h0M688.4 184.6h0M708.6 184.7h0M710.4 184.7h0M707.4 184.9h0M694.3 184.9h0M755.8 185h0M743.1 185h0M725.7 185.3h0M811.3 185.4h0M759.3 185.5h0M813 185.5h0M730.7 185.6h0M732.4 185.7h0M714 185.9h0M762.3 186.4h0M692.2 186.6h0M779.8 186.7h0M751.4 186.8h0M688 187h0M790.2 187.4h0M740.2 187.4h0M705 187.8h0M755.7 187.9h0M733.5 188h0M737.4 188.3h0M705.7 188.3h0M727.3 188.5h0M747.2 188.6h0M753.4 188.7h0M799 189h0M718.1 189h0M711.6 189h0M696 189.3h0M700.3 189.4h0M701.1 189.4h0M729 189.5h0M749.3 189.8h0M721.7 189.9h0M739.4 190.1h0M688.7 190.2h0M690.5 190.6h0M816.2 190.7h0M778.7 190.7h0M745.4 191h0M728.9 191h0M736.3 191.2h0M763.5 191.2h0M772.5 191.2h0M761.2 191.5h0M723.1 191.5h0M753.2 191.8h0M689.1 191.9h0M755.6 192.2h0M728.6 192.4h0M713.5 192.5h0M710.7 192.5h0M743.9 192.9h0M713.7 192.9h0M761.4 193h0M730.2 193.1h0M808.2 193.7h0M694.8 194.4h0M689.8 194.6h0M752.2 194.7h0M719.7 194.8h0M747 194.9h0M820.2 195h0M771.4 195.2h0M699.6 195.3h0M733.1 195.4h0M738.5 195.5h0M820.5 195.6h0M777 195.9h0M781.1 196h0M800.4 196.3h0M762.6 196.5h0M778.6 196.8h0M700.9 196.8h0M819.3 196.9h0M726.4 196.9h0M757.1 197h0M690.4 197.1h0M723.1 197.3h0M813.6 197.4h0M768.2 197.5h0M711.7 197.5h0M780.6 197.7h0M759.4 198.3h0M733.7 198.6h0M707.5 198.7h0M717.2 198.8h0M752.3 198.9h0M741.6 198.9h0M741.3 199.4h0M693 199.4h0M691.2 199.5h0M762.9 199.8h0M813.5 199.8h0M768.1 199.9h0M772.2 200.1h0M740.5 200.1h0M755.6 200.3h0M698.3 200.4h0M820.7 200.4h0M731 200.6h0M790.8 200.6h0M785.7 200.7h0M720.8 200.7h0M745.2 200.7h0M748.3 201h0M816.1 201.4h0M692.2 201.8h0M820 202h0M774.2 202h0M723.3 202.1h0M736.5 202.1h0M703.4 202.3h0M759.5 202.4h0M827.5 202.4h0M770.6 202.5h0M749.7 202.6h0M729.2 203.1h0M719.4 203.3h0M731.1 203.5h0M753.2 203.9h0M693 203.9h0M774.3 203.9h0M705.7 204.1h0M744.8 204.1h0M706.8 204.3h0M712.3 204.4h0M766.3 204.5h0M746.7 204.5h0M765.9 204.9h0M700.2 204.9h0M733.7 204.9h0M731.1 205h0M811.3 205.1h0M770.5 205.1h0M746.5 205.2h0M723.6 205.2h0M765.9 205.3h0M693.7 205.5h0M744 205.6h0M816.7 205.6h0M771.9 206h0M834.5 206.1h0M729.1 206.4h0M768.4 206.7h0M739.6 206.8h0M737.5 207.4h0M789.4 207.4h0M755.5 207.5h0M806.5 207.5h0M737.8 207.6h0M775.6 207.6h0M749 207.7h0M760.1 207.7h0M755.5 208.4h0M726.8 208.5h0M694.9 208.6h0M763.1 208.8h0M760.8 208.8h0M780.3 208.9h0M695.1 208.9h0M710.8 209h0M707.7 209.1h0M773 209.5h0M734.5 209.6h0M755.9 209.7h0M750.7 209.8h0M715.8 209.9h0M699.3 210.1h0M802.6 210.1h0M786.6 210.2h0M743.4 210.2h0M721.7 210.2h0M803.7 210.5h0M835.9 210.5h0M788.9 210.5h0M814.9 210.6h0M832.7 210.9h0M777.7 210.9h0M743.2 211.1h0M702.1 211.4h0M791.5 211.4h0M748.7 211.5h0M772.3 211.7h0M781.3 211.7h0M780.2 211.9h0M746.9 212.1h0M816.5 212.1h0M727.4 212.2h0M810.4 212.2h0M842.5 212.5h0M754.9 212.6h0M798.8 212.7h0M766.7 212.7h0M733 212.8h0M707.8 213.6h0M763.8 213.6h0M697.8 213.6h0M769.2 213.7h0M757.2 213.9h0M796.7 213.9h0M749.6 213.9h0M716 214.1h0M712.5 214.1h0M738.1 214.2h0M782.1 214.3h0M770 214.5h0M740.4 214.6h0M701.2 214.8h0M803.4 214.8h0M729.1 214.9h0M836.2 215h0M804.5 215.1h0M834.8 215.2h0M758.6 215.2h0M725.3 215.2h0M825.6 215.2h0M789.1 215.5h0M777 215.6h0M772 215.9h0M797.1 216h0M704.5 216.2h0M790.1 216.5h0M722.4 216.6h0M735.7 216.6h0M753.2 216.9h0M786 217.2h0M745.2 217.5h0M791.1 217.8h0M742.6 218.3h0M772.6 218.3h0M748.1 218.5h0M701.8 218.7h0M806.7 218.8h0M787.9 218.8h0M760.4 218.8h0M763.2 218.9h0M761.5 219h0M758.8 219h0M765.6 219.2h0M722.5 219.4h0M831.7 219.5h0M821.4 219.6h0M754 219.7h0M735.1 219.7h0M713.5 219.8h0M824.8 219.9h0M753.5 220h0M817.2 220h0M796.5 220.1h0M752 220.3h0M843.3 220.3h0M751.3 220.4h0M780.3 220.6h0M849 220.8h0M777.1 220.9h0M709.8 220.9h0M768.5 221.4h0M723.7 221.4h0M820.4 221.7h0M768.2 221.9h0M779.6 222.3h0M787.2 222.3h0M824.8 222.4h0M792.2 222.5h0M799.1 222.6h0M771.7 223h0M749.1 223h0M806.5 223.2h0M777.8 223.4h0M757.8 223.5h0M784.6 223.7h0M703.7 223.7h0M764.2 223.8h0M732 224.1h0M744 224.6h0M743 224.6h0M815.1 224.6h0M707.9 224.6h0M826.7 224.7h0M813.9 224.8h0M851.8 224.8h0M801.1 225h0M841.1 225.1h0M775.7 225.6h0M768.6 225.6h0M788.2 225.7h0M704.2 226h0M789.4 226.1h0M802.6 226.1h0M733.1 226.3h0M847.3 226.4h0M807.4 226.4h0M753.8 226.5h0M799.2 227h0M757 227h0M814 227.1h0M763.3 227.1h0M778.1 227.3h0M796 227.4h0M761.6 227.6h0M772.1 228.2h0M710.7 228.4h0M750.8 228.6h0M782.3 228.7h0M752.7 228.7h0M718 228.8h0M804.6 228.9h0M775.3 229.4h0M814.8 229.7h0M811.8 229.8h0M758.2 229.8h0M710.2 229.8h0M855.2 229.9h0M832.5 230h0M817.2 230h0M758.8 230.1h0M788.3 230.5h0M782.6 230.6h0M790.9 230.6h0M800.2 230.8h0M720.2 230.9h0M855.9 231h0M705.3 231.2h0M789 231.5h0M838.4 231.8h0M830.6 231.9h0M806.6 232h0M790.3 232h0M766 232.2h0M768.8 232.2h0M775 232.6h0M756.2 232.7h0M770.8 233h0M710.4 233h0M799.7 233.2h0M798.9 233.3h0M800.1 233.5h0M813.6 233.7h0M743.1 233.8h0M760.4 233.8h0M759.5 233.8h0M790.1 233.9h0M783 233.9h0M794.1 234.2h0M780.5 234.3h0M855.9 234.3h0M791.7 234.3h0M856.6 234.6h0M828.7 234.6h0M823.7 234.7h0M847.9 234.7h0M817.2 234.8h0M706.1 235.1h0M766.8 235.2h0M776.2 235.2h0M802.5 235.3h0M820.1 235.3h0M810 235.5h0M849.8 235.7h0M753.8 236h0M854.3 236.1h0M769.2 236.5h0M854.9 236.5h0M804.3 236.7h0M772.9 236.7h0M752.2 236.9h0M806.6 237.2h0M786.1 237.5h0M762.7 237.7h0M707.7 238.1h0M800.6 238.2h0M768.6 238.3h0M711 238.3h0M810.3 238.5h0M765.5 238.6h0M811.6 238.8h0M792.3 239.2h0M795.6 239.2h0M859.3 239.3h0M851.2 239.5h0M842.2 239.6h0M831 239.6h0M856.8 239.6h0M773.2 239.6h0M827.7 239.7h0M778.6 239.8h0M822 239.9h0M780.3 240.2h0M788.4 240.3h0M707.8 240.3h0M807.7 240.3h0M788.9 240.4h0M853.9 240.4h0M777.7 240.8h0M785.1 240.9h0M714.7 240.9h0M708.6 241.2h0M715.8 241.2h0M802.5 241.2h0M851.7 241.3h0M816.8 241.7h0M815 241.8h0M759.8 242.1h0M769.1 242.8h0M799.1 242.8h0M710.2 243h0M777.9 243.3h0M808.6 243.6h0M854.6 243.8h0M822.2 243.8h0M763.4 243.9h0M853.7 244.2h0M822.6 244.2h0M786.3 244.2h0M840.9 244.4h0M791.8 244.4h0M816.1 244.5h0M863.3 244.5h0M813.2 244.7h0M711.8 244.8h0M773.7 244.8h0M832.7 244.9h0M807.2 245h0M793.8 245.1h0M863.5 245.1h0M783.4 245.1h0M790.1 245.7h0M804.4 245.7h0M828.2 245.8h0M843.9 245.9h0M712.8 246h0M854.7 246h0M723.6 246h0M834.6 246.1h0M790.4 246.2h0M802.7 246.3h0M774.9 246.3h0M800.1 246.5h0M809.7 246.6h0M757.4 246.7h0M743.3 247.3h0M782.4 247.4h0M799.2 247.4h0M786.4 247.5h0M714.3 247.6h0M798.3 247.6h0M806.1 248.1h0M751.7 248.2h0M798.8 248.3h0M769.2 248.4h0M807.2 248.5h0M823.9 248.7h0M769.8 248.8h0M847.4 248.8h0M827.8 248.9h0M865.1 249.1h0M721.6 249.3h0M817.2 249.4h0M826.6 249.6h0M781.7 249.8h0M820.6 249.9h0M851.8 250.2h0M720.6 250.6h0M809.8 250.7h0M786.9 250.8h0M793.5 250.9h0M802.8 250.9h0M807.8 250.9h0M743.1 251h0M802.5 251h0M786.1 251h0M824.4 251h0M799.9 251.1h0M720.9 251.1h0M812.8 251.3h0M825.7 251.6h0M759 251.7h0M775.6 251.8h0M780.5 252h0M727.9 252.1h0M810.5 252.6h0M743.9 253h0M803.2 253.2h0M848.2 253.3h0M828.4 253.4h0M865.8 253.8h0M836.7 253.9h0M790.9 253.9h0M727.8 254h0M771 254.1h0M829.5 254.1h0M780.3 254.2h0M834.6 254.4h0M813.4 254.4h0M794.3 254.7h0M842.7 254.8h0M866.1 254.9h0M817.8 254.9h0M815.2 255h0M837.9 255.3h0M836.8 255.3h0M780.9 255.5h0M754.6 255.6h0M829.2 255.7h0M740.9 255.7h0M801.8 255.8h0M800.2 255.9h0M862.2 256.1h0M821.3 256.1h0M817.6 256.1h0M758.3 256.2h0M808.9 256.2h0M810.8 256.4h0M772.9 256.8h0M740.9 257h0M770.4 257h0M784 257.2h0M807.3 257.5h0M809.5 257.6h0M787.2 257.7h0M767.7 257.7h0M845.9 258.2h0M821 258.3h0M825.1 258.5h0M857.6 258.6h0M813.2 258.8h0M800.7 259h0M751.8 259h0M813.3 259.5h0M788.8 259.7h0M831.3 259.9h0M869.1 259.9h0M787.3 260h0M845.4 260h0M861.9 260h0M853 260.1h0M838 260.1h0M793.1 260.2h0M830.7 260.5h0M796.4 260.6h0M761.3 260.7h0M853.2 260.7h0M810.1 260.8h0M866.9 260.8h0M772.2 260.9h0M819.6 261h0M821.7 261h0M783.5 261.1h0M787.8 261.4h0M775.1 261.4h0M834.5 261.4h0M841.4 261.8h0M834.4 261.9h0M771.3 262.1h0M803 262.2h0M811.8 262.7h0M783.9 262.8h0M860 263.1h0M837.5 263.1h0M797.5 263.2h0M827.1 263.4h0M832.1 263.6h0M862.4 263.8h0M833.1 263.9h0M842.6 264h0M846.5 264.1h0M806.9 264.2h0M780.6 264.2h0M817.6 264.5h0M839.9 264.6h0M789.5 264.7h0M870.6 264.9h0M813.1 265.1h0M851 265.2h0M794 265.3h0M780.6 265.3h0M816.6 265.7h0M859.3 265.7h0M864.9 265.9h0M836.6 265.9h0M799.3 266h0M824.4 266.3h0M843.6 266.3h0M804.5 266.4h0M842.2 266.7h0M779.1 266.7h0M797.1 267h0M785.7 267.3h0M779.2 267.3h0M827.7 267.7h0M869.1 267.8h0M813.7 268h0M820.1 268.4h0M811.4 268.4h0M832.1 268.7h0M867.4 268.7h0M870.3 268.9h0M813.6 269.2h0M829.7 269.2h0M782.1 269.3h0M791.9 269.4h0M822.1 269.4h0M837.2 269.7h0M843.3 269.8h0M860.7 270h0M809.2 270.2h0M817.3 270.3h0M846.4 270.3h0M788.2 270.5h0M806.9 270.8h0M781 271.1h0M799 271.1h0M845.3 271.2h0M831.3 271.4h0M858.6 271.4h0M783.5 271.5h0M849 272.3h0M787 272.3h0M802.7 272.5h0M796.8 272.5h0M824.5 272.6h0M781.8 272.7h0M818.4 273.1h0M871.2 273.3h0M807 273.3h0M839.5 273.4h0M864.2 273.5h0M868.7 273.7h0M791.5 274.3h0M842.9 274.3h0M847.5 274.3h0M813.1 274.5h0M854.2 274.5h0M816.1 274.6h0M829.9 274.9h0M856.7 274.9h0M863.1 274.9h0M783.2 275.6h0M795.9 275.9h0M812.5 275.9h0M835.4 276.1h0M820.9 276.1h0M855.1 276.4h0M838.5 276.6h0M809 276.7h0M815.9 276.9h0M802.3 277.3h0M784.1 277.4h0M794.2 277.4h0M800.4 277.5h0M829.8 277.8h0M871.2 277.9h0M844.9 278.2h0M824.9 278.3h0M800.8 278.4h0M869.5 278.5h0M834.5 278.5h0M871.6 278.5h0M803.3 278.8h0M787.2 278.8h0M846.5 279h0M832.7 279.1h0M851.7 279.3h0M854 279.3h0M860.4 279.5h0M825.4 279.6h0M790.8 280.1h0M818.1 280.1h0M860.8 280.2h0M819 280.2h0M850.9 280.3h0M785.6 280.6h0M864.5 280.7h0M811.2 280.7h0M870 280.9h0M813 281h0M852.3 281.3h0M811.7 281.3h0M820.4 281.4h0M840.5 281.5h0M805.6 281.6h0M843.4 281.7h0M817.8 281.9h0M810 282h0M787.9 282.1h0M804.3 282.3h0M804.1 282.6h0M828.4 282.9h0M792.4 283h0M847.8 283h0M824.1 283.1h0M838.9 283.3h0M831.4 283.3h0M866.1 283.3h0M789 283.6h0M838 283.7h0M856.5 284.1h0M849.2 284.1h0M821.2 284.4h0M839.5 284.5h0M827.8 284.5h0M792.7 284.6h0M866 284.9h0M846.4 285h0M787.9 285.2h0M862.7 285.2h0M843.8 285.3h0M816.9 285.4h0M871.3 285.5h0M825.1 285.5h0M833.2 285.9h0M861.9 285.9h0M857 286.1h0M819 286.4h0M812.7 286.5h0M822.9 286.6h0M838 286.9h0M823.1 287.1h0M793.6 287.1h0M817.9 287.2h0M835 287.5h0M807 287.7h0M864.6 288h0M789.3 288.1h0M872.3 288.2h0M790.6 288.3h0M868.7 288.4h0M820.4 288.5h0M860.8 288.7h0M852.7 288.8h0M831 289.1h0M799.5 289.7h0M793.1 290h0M867.5 290.1h0M826.7 290.2h0M845.8 290.2h0M825.7 290.6h0M823 291.1h0M832.1 291.4h0M840.7 291.6h0M857.7 291.8h0M814.9 291.8h0M835.9 292.1h0M794.2 292.2h0M849.3 292.4h0M817.7 292.5h0M874.7 292.5h0M801.1 292.6h0M869.3 292.8h0M791.4 292.8h0M874.3 293.2h0M860.2 293.3h0M845.1 293.4h0M851 293.4h0M827.3 293.5h0M867.5 293.5h0M836.6 294.1h0M864.6 294.4h0M820.1 294.6h0M792.4 294.9h0M847.3 295.1h0M868.2 295.1h0M858.7 295.1h0M832 295.2h0M856.5 295.2h0M861.8 295.3h0M870.7 295.4h0M844.1 295.4h0M830.9 295.8h0M828.3 295.8h0M832.6 295.9h0M827.3 296.6h0M837.5 296.7h0M826.5 296.9h0M877.3 297.1h0M847.8 297.2h0M793.4 297.2h0M804.4 297.5h0M831.4 297.6h0M813.1 297.7h0M869.2 297.7h0M853.2 297.9h0M877.7 298h0M793.8 298h0M875.9 298.2h0M872.8 298.6h0M842.6 298.8h0M837.4 298.9h0M865.4 298.9h0M859.9 299.1h0M839.1 299.1h0M874.2 299.7h0M813.9 299.7h0M832.3 299.8h0M854.1 299.9h0M851.8 300h0M794.7 300h0M868.3 300h0M831.7 300.4h0M855 300.4h0M838.1 300.6h0M864.8 300.9h0M826.1 301h0M852 301.3h0M843 301.7h0M827.3 301.7h0M806.4 301.7h0M831 301.8h0M805.9 302.1h0M802 302.1h0M850.4 302.2h0M879.5 302.4h0M820.4 302.8h0M879.3 302.8h0M833.7 302.9h0M835 303.4h0M847.5 303.5h0M868 303.5h0M860.7 303.5h0M879.1 303.9h0M871 303.9h0M856.5 304.3h0M798.2 304.8h0M839 304.8h0M864.3 304.8h0M846.3 304.9h0M815.9 305h0M862.2 305.1h0M849.2 305.2h0M876.1 305.3h0M836 306.1h0M806.8 306.7h0M798.3 306.8h0M857.7 306.9h0M877.6 307.2h0M802.1 307.4h0M828 307.6h0M881.5 307.6h0M883.7 308.1h0M852.7 308.2h0M851.5 308.3h0M842.2 308.3h0M869.7 308.6h0M880.2 308.9h0M872.8 309h0M836.5 309.3h0M882.3 309.3h0M799.3 309.6h0M806 309.7h0M876.5 310h0M849 310h0M865.7 310.4h0M834.9 310.6h0M854.9 310.6h0M832.5 310.9h0M861 311.1h0M839.7 311.1h0M851.8 311.2h0M842.5 311.4h0M834.3 311.4h0M802.7 311.6h0M823.3 311.7h0M851.5 312.1h0M810.2 312.2h0M886.1 312.3h0M800.5 312.4h0M858.2 312.5h0M814.9 312.6h0M853.1 312.9h0M886.6 313.1h0M874.4 313.2h0M842.2 313.7h0M845.7 313.8h0M866.8 313.9h0M867.3 314.2h0M868.3 314.4h0M841.3 314.5h0M801.9 314.7h0M801.3 314.7h0M880.4 314.9h0M836.3 315.5h0M844.5 315.6h0M883.8 315.9h0M863 315.9h0M827.9 316.5h0M815.4 316.5h0M859.5 316.9h0M849.1 317.1h0M819.6 317.2h0M882.2 317.3h0M802.6 317.6h0M871.4 317.7h0M865.9 317.8h0M855.7 318h0M888.5 318.1h0M865.8 318.3h0M853.4 318.6h0M876.2 318.6h0M887.5 318.7h0M824.5 318.8h0M872.4 319h0M804.2 319.5h0M841.8 319.7h0M885.5 319.9h0M809.7 320h0M888.2 320.2h0M846.9 320.7h0M872.4 320.9h0M842.6 321h0M853.1 321.2h0M804.3 321.3h0M836.2 321.6h0M809.1 321.8h0M864.1 321.8h0M877.7 321.8h0M845.6 321.9h0M853.7 322.1h0M890.1 322.1h0M862.4 322.5h0M860.8 322.5h0M822.3 322.7h0M860.1 322.9h0M883.8 323h0M882.3 323h0M834.6 323.5h0M870.7 323.6h0M862.5 324.3h0M842.3 324.3h0M805.7 324.4h0M864.9 324.4h0M816.1 324.6h0M850.7 324.8h0M885.9 325.4h0M876.7 325.5h0M835.8 325.6h0M857.7 325.7h0M880.2 325.9h0M812.4 326h0M806.7 326.8h0M862.8 326.8h0M851.1 326.9h0M878.1 327.1h0M841.7 327.2h0M871.4 327.2h0M890.8 327.2h0M881.4 327.7h0M848.2 327.8h0M866.3 327.8h0M859.4 327.8h0M833 327.9h0M857.6 328h0M884.1 328.1h0M850 328.4h0M865.4 329.2h0M877.5 329.2h0M807.9 329.4h0M813.2 329.4h0M881.7 329.6h0M873.5 329.6h0M883 329.7h0M850.8 329.7h0M848.4 330.1h0M861.5 330.3h0M866 330.5h0M856.1 330.5h0M889.7 330.5h0M848 330.7h0M842.5 330.7h0M882.3 330.9h0M811.5 331.1h0M809 331.8h0M890.1 331.8h0M829.4 331.9h0M882 332.4h0M837.5 332.5h0M893.7 332.5h0M879.8 332.5h0M885.1 332.8h0M860.3 332.9h0M858.7 333.3h0M887.2 333.4h0M811.9 334h0M853.8 334.1h0M870.3 334.1h0M889.8 334.2h0M810.1 334.3h0M863.3 334.5h0M856.7 334.6h0M828.2 334.6h0M886 334.8h0M877.1 335h0M847.3 335.2h0M855 335.3h0M876 335.4h0M867.9 335.5h0M863.4 335.5h0M845 335.8h0M832.4 336h0M827.6 336.3h0M852.7 336.4h0M892.1 336.4h0M895.7 336.5h0M872.9 336.6h0M841.5 337.1h0M883.6 337.4h0M851 337.4h0M815.3 337.5h0M836.1 337.6h0M853.4 337.7h0M892.8 337.8h0M866.4 337.9h0M848.5 338.1h0M885.7 338.1h0M857.1 338.8h0M873.7 338.8h0M814.6 338.9h0M817.3 339h0M890.4 339h0M828.4 339.2h0M875 339.3h0M872.5 339.5h0M887.2 339.5h0M876.9 339.6h0M862.6 340h0M853.6 340.2h0M828.1 340.7h0M863.4 340.7h0M897.4 341.3h0M895.5 341.5h0M833.3 341.6h0M882.8 341.9h0M841.9 342h0M843.6 342.2h0M877.9 342.3h0M859.2 342.4h0M883.3 342.4h0M860 342.5h0M897.8 342.5h0M830.7 342.7h0M864.3 342.8h0M871.7 342.9h0M856.9 343h0M824.6 343.8h0M896.2 343.8h0M871.5 343.8h0M828.1 343.9h0M857 343.9h0M830.2 344.1h0M888.5 344.6h0M869.7 344.7h0M884.8 344.8h0M854.7 345h0M858 345.1h0M888.3 345.1h0M851.2 345.2h0M882.2 345.7h0M841.2 345.8h0M893.6 346.1h0M897 346.2h0M840 346.7h0M895.6 346.8h0M867.6 347h0M884 347.1h0M834.1 347.4h0M895.9 347.8h0M876.1 347.9h0M872.6 348.2h0M863 348.4h0M875.1 348.5h0M838.4 348.9h0M866.1 349h0M836.6 349h0M868.8 349.2h0M858.7 349.3h0M894.8 349.4h0M892.7 350h0M853.8 350.1h0M866.8 350.2h0M859.5 350.4h0M870.2 350.4h0M862.3 350.6h0M855.1 350.8h0M887.8 350.8h0M849 350.9h0M899.3 351.1h0M859 351.5h0M885.6 351.6h0M880.9 351.7h0M854.2 352h0M839.4 352.2h0M899.2 352.4h0M888 352.5h0M879.3 352.7h0M842.6 353.5h0M866.8 353.7h0M880.5 354h0M841.2 354h0M895.4 354.2h0M874.8 354.4h0M846.8 354.4h0M864.4 354.5h0M862.9 354.5h0M861.5 355h0M862.2 355.1h0M843.8 355.3h0M873.1 355.4h0M872.3 355.6h0M857.6 355.6h0M892.6 355.7h0M900.1 355.9h0M880.3 356.3h0M859.8 356.5h0M885.9 356.6h0M861.2 356.8h0M883.8 357.1h0M891.2 357.4h0M865.1 357.4h0M894.9 357.6h0M849.2 358.6h0M849.3 358.7h0M901.3 359.2h0M874.9 359.2h0M872.9 359.2h0M854.3 359.5h0M848 360h0M876 360h0M866.7 360.1h0M891.9 360.1h0M868.4 360.2h0M886.5 360.4h0M856 360.7h0M896.6 360.9h0M894.8 361.1h0M855.1 361.3h0M880.5 361.4h0M861.7 361.8h0M865.6 362.4h0M882 362.6h0M873.5 362.9h0M866.8 363.3h0M885.1 363.4h0M850.3 363.5h0M872 363.5h0M881 363.8h0M902.2 364.4h0M860.7 364.5h0M898.8 364.9h0M869.3 364.9h0M865.2 365.2h0M890.2 365.5h0M896.8 365.5h0M855.5 365.6h0M867.3 366.4h0M857.1 366.5h0M854.6 366.5h0M885.1 366.5h0M874.9 367.2h0M891.9 367.5h0M899.5 367.5h0M877 367.6h0M882.9 367.9h0M856.6 368.4h0M886.9 368.5h0M885.3 368.7h0M893.9 368.7h0M856.7 369.1h0M870 369.4h0M878.3 369.7h0M864 369.8h0M902.1 370h0M894.8 370h0M899.3 371.2h0M903.4 371.4h0M875.7 371.4h0M884.5 371.5h0M861.3 371.6h0M873.6 371.9h0M892.9 371.9h0M886.9 372.1h0M895 372.7h0M860 373h0M896.2 373.8h0M899.4 373.9h0M876.3 374.1h0M886.4 374.2h0M895 374.6h0M879.6 374.6h0M868.2 374.6h0M877.6 374.7h0M903.7 375.1h0M861 375.1h0M904.8 376h0M867.2 376.3h0M893.1 376.5h0M883.9 376.6h0M868.4 376.7h0M859.7 376.8h0M887.8 376.9h0M863.1 377.8h0M871.7 377.8h0M905.9 377.8h0M892.1 378.3h0M904.9 379.1h0M880.1 379.2h0M886.6 379.5h0M874.5 379.6h0M898.5 379.7h0M893.7 379.8h0M865.3 380.2h0M902.4 380.9h0M874.2 381.2h0M866 381.2h0M879.8 381.5h0M888.3 381.5h0M895.1 381.7h0M864.8 382h0M906.7 382h0M900.5 382.1h0M897.7 383h0M877.6 383h0M864.8 383.1h0M885.1 383.7h0M900.6 383.7h0M891.1 384.4h0M872.2 384.5h0M869.1 384.8h0M893.8 385h0M904.4 385.1h0M881.1 386.4h0M903.8 386.8h0M887.2 387h0M879.7 387.2h0M904.9 387.5h0M901.5 387.5h0M887.5 387.7h0M878.1 388h0M869.1 388.2h0M877.2 388.2h0M888.8 388.9h0M900.5 389.2h0M895.7 389.7h0M905.2 389.7h0M884 389.9h0M872.9 390h0M874.4 390.6h0M907.8 391.2h0M894.1 391.6h0M902.2 391.8h0M872.5 391.9h0M886.3 392h0M898.7 392.1h0M906.7 392.6h0M909.2 392.7h0M888.9 392.7h0M880.4 393.2h0M904.3 393.6h0M892.8 394.1h0M874.1 394.4h0M880.4 394.4h0M882.6 395.2h0M872.6 396h0M892.7 396.3h0M907.9 396.7h0M885.7 397.2h0M898.1 397.3h0M910.7 397.6h0M910.8 398.7h0M901.7 398.9h0M887.6 399h0M876.1 399h0M875.3 399.1h0M893.7 399.3h0M906.4 399.7h0M881.2 399.8h0M911.8 400h0M911.9 400.6h0M884.2 400.6h0M899.9 400.7h0M877 401.1h0M888.9 402h0M896.4 402.3h0M910.7 402.9h0M888.6 403.1h0M893.1 403.4h0M881.9 403.4h0M883.8 403.5h0M891.7 403.5h0M885.6 403.6h0M877.9 404h0M896.4 404.1h0M904.3 404.5h0M911.5 404.6h0M884.8 404.7h0M911.3 405.3h0M877.5 406h0M906 406.5h0M911.3 406.9h0M895.5 407.1h0M888.5 407.1h0M899.6 407.2h0M883.1 407.4h0M911.1 407.6h0M889.8 407.7h0M907.8 408.1h0M881.7 408.2h0M909.1 408.4h0M912.9 408.6h0M880.1 408.7h0M898 409h0M895.9 409.1h0M879.4 409.2h0M902.8 410.3h0M885.6 410.5h0M883.4 410.5h0M905.4 411.1h0M893.4 411.9h0M880.5 411.9h0M903.5 411.9h0M913.5 412.4h0M890.4 412.7h0M883.7 412.8h0M910.4 413h0M903.2 413.1h0M900.5 413.5h0M881.6 414h0M884.3 414.2h0M914.3 414.5h0M902.3 415.1h0M880.4 415.4h0M911.2 415.7h0M907.5 415.9h0M898 416.2h0M903.2 416.5h0M915.8 416.9h0M884.7 417.4h0M881 417.4h0M891.9 417.5h0M900.9 418h0M915.9 418.1h0M899.7 418.3h0M887.8 418.4h0M902.3 418.6h0M910 418.7h0M896.5 418.7h0M888 419.3h0M911.8 419.5h0M915.5 420.6h0M909.3 420.7h0M886.7 421h0M883.2 421.5h0M907.6 421.5h0M908.8 421.6h0M909.9 421.7h0M892.3 421.8h0M915.3 422h0M916.7 422.1h0M910.1 422.1h0M895 422.4h0M909.6 423.5h0M896 423.7h0M900 423.7h0M902.9 423.9h0M890.6 424.3h0M886.8 424.9h0M883.1 425.5h0M915.1 425.8h0M883.5 426.2h0M894.9 426.4h0M901.4 426.5h0M909.9 426.6h0M890.1 427h0M892.2 427.1h0M917 427.4h0M885.1 427.5h0M908.8 427.8h0M883.3 428.4h0M909.9 428.5h0M906 429.1h0M917.5 429.3h0M900.9 429.4h0M882.6 429.5h0M907 429.9h0M917.4 429.9h0M915.4 431.7h0M897.1 432.2h0M914.6 432.7h0M895 433h0M891.1 433.2h0M901 433.3h0M884.4 433.4h0M887.7 433.5h0M908.2 433.7h0M902.8 433.7h0M917.1 434.2h0M883.6 434.2h0M895 435.4h0M886.2 435.7h0M911.3 436h0M920.8 436.1h0M908.1 436.1h0M902.7 436.5h0M889.3 437h0M917.8 437.3h0M884.2 437.6h0M900.5 438h0M885.7 438.8h0M919.5 439.4h0M912.7 439.4h0M894.9 439.5h0M888.3 440.6h0M908.1 441h0M921.5 441h0M919.9 441h0M898.6 441.1h0M922.3 441.5h0M888.9 441.5h0M904.1 441.7h0M918.5 442h0M920.7 442.2h0M887.7 442.3h0M919.3 442.3h0M886 442.5h0M918.9 442.6h0M911.2 442.9h0M902.6 443h0M891.8 443.4h0M923.2 443.9h0M909.4 444.3h0M896.5 445.6h0M913.4 446.1h0M922.2 446.1h0M893.9 446.8h0M904.4 447.1h0M923.9 447.2h0M921.6 447.3h0M922.5 447.5h0M887 447.5h0M915.3 448h0M903.7 448.1h0M914.2 448.4h0M909.7 448.5h0M899.5 448.5h0M888.1 448.7h0M902.2 448.9h0M924.5 449.6h0M888 450.5h0M907.9 450.6h0M910.2 451h0M920.5 451.4h0M898.3 451.4h0M897.4 451.7h0M922.9 452.1h0M895.9 452.7h0M889.8 452.7h0M922.7 452.7h0M893.1 453.2h0M888.6 453.2h0M907.8 453.3h0M908.7 453.6h0M914.5 453.7h0M902.5 453.7h0M926.7 454.2h0M926.7 454.3h0M889.2 455.3h0M915.7 455.5h0M918.3 456.1h0M902.3 456.3h0M899.3 456.8h0M896.4 457.5h0M919 457.6h0M906.7 458.1h0M892.5 458.2h0M892.1 458.4h0M911.2 458.4h0M913.1 458.9h0M924.8 459h0M927.2 459.4h0M914.4 459.9h0M897.4 460h0M900.7 460.7h0M906.6 461.3h0M927.4 461.4h0M925.8 461.5h0M899.6 461.6h0M911.5 461.7h0M929.2 461.8h0M928.5 461.9h0M910.9 462h0M924.1 462.2h0M916.1 462.4h0M919.8 462.8h0M893.1 462.8h0M892.3 462.9h0M894.9 463.2h0M927.8 464h0M929.8 464h0M894.6 464.8h0M893.9 465h0M914.2 465h0M905.6 465.2h0M911.7 465.4h0M927 466h0M899.9 466.3h0M893.7 466.5h0M925.1 466.5h0M916.6 467.2h0M928.9 467.3h0M899.9 467.4h0M925.5 468h0M913.3 468.4h0M893 468.4h0M906.7 468.5h0M901.4 468.7h0M928.5 469.2h0M915.4 469.7h0M920.1 469.7h0M895.9 470.2h0M903.2 470.3h0M928.8 470.4h0M902.7 470.7h0M929.2 472.1h0M930.4 472.3h0M904.7 472.4h0M927.9 472.5h0M921.5 472.5h0M910.4 472.7h0M916.7 473.3h0M900.6 474.5h0M895.1 474.5h0M921.7 474.6h0M897.3 474.8h0M921.5 475h0M895.8 475.4h0M930.3 475.5h0M930.5 475.9h0M909.5 476.7h0M902.8 477.3h0M930.9 477.3h0M926.9 477.7h0M907.2 477.9h0M898.1 478h0M920 478.1h0M911.1 478.1h0M927 478.3h0M911.5 478.7h0M914.3 478.7h0M897.3 479.3h0M928.6 479.4h0M900.8 479.8h0M924.9 479.9h0M930.4 480.2h0M897.6 480.3h0M927.9 480.5h0M932.6 480.7h0M915.8 481.5h0M905.3 482.4h0M898.3 482.7h0M933 483.2h0M917.4 483.3h0M918.6 483.3h0M905.2 483.9h0M908.4 484.1h0M898.2 484.2h0M923.1 484.4h0M916.4 484.4h0M905.7 484.8h0M911.5 485h0M927.4 485.3h0M932.1 485.5h0M916.3 486.1h0M910 486.3h0M899.2 486.7h0M934.6 486.9h0M935.2 486.9h0M926.2 487h0M899.2 487.3h0M931.3 487.3h0M916.6 487.5h0M925.9 487.8h0M917.3 488h0M915.4 488h0M920.6 488.2h0M902.7 488.7h0M926.3 489.4h0M899.6 489.9h0M907.4 490.2h0M912 491.3h0M901.5 491.4h0M934.4 491.9h0M931.7 492h0M906.5 492h0M931.1 492.3h0M903.1 492.9h0M923.1 493.5h0M901.2 493.8h0M915.7 493.9h0M917.9 494.1h0M906.8 494.7h0M933.1 495.4h0M930.8 495.6h0M912.2 495.9h0M929.5 496.2h0M934.9 496.4h0M900.5 496.5h0M936.3 496.6h0M928.1 496.6h0M936.5 496.9h0M922.3 497.4h0M919.3 497.7h0M907.3 498.3h0M901.1 498.9h0M928.1 499.1h0M902.4 499.2h0M927.2 499.5h0M933.1 499.9h0M916.3 500.7h0M911 501.1h0M905 501.3h0M932.7 501.4h0M902.3 501.8h0M935.2 501.9h0M931.8 502.5h0M931.1 502.8h0M933.8 503.5h0M920.8 503.6h0M919 503.8h0M911.3 504.2h0M926.4 504.3h0M924.1 504.3h0M936.5 505.2h0M914.8 505.4h0M934.9 505.5h0M936.6 505.8h0M931.6 505.9h0M906.1 506h0M910.2 506.1h0M921.1 506.9h0M934.6 506.9h0M936.2 507.2h0M903.1 507.2h0M904.7 507.6h0M903.3 507.6h0M912.8 508.7h0M928.3 508.8h0M923 508.8h0M937.3 510.1h0M917 510.3h0M913.7 510.4h0M935.1 510.8h0M910.4 511h0M937.2 511.3h0M933 511.4h0M906 512h0M937.8 512.1h0M922.1 512.7h0M927.6 513.3h0M905.8 513.5h0M909.6 513.8h0M922.2 514.3h0M904.7 514.6h0M925.8 514.7h0M916 515.1h0M937.6 515.3h0M915.3 515.3h0M939 515.3h0M916.8 515.6h0M907.8 516.1h0M937.7 516.3h0M938.3 516.7h0M929.2 516.8h0M908.8 517.4h0M905.9 517.5h0M934.3 517.5h0M926.3 517.9h0M909.6 518.5h0M918.4 518.6h0M923.2 518.7h0M932.1 518.9h0M940.3 519.9h0M938.6 520h0M915.6 520.4h0M935 520.6h0M907.8 520.9h0M940 521.3h0M938.1 521.3h0M911.6 521.4h0M907.2 522.1h0M926.7 522.3h0M930.6 522.5h0M922.7 522.7h0M907 523.1h0M917.4 523.1h0M908.4 523.1h0M908.9 523.2h0M924.6 523.3h0M924.8 523.7h0M915.2 524.4h0M928.4 524.5h0M911.9 525.6h0M937.6 525.7h0M935 525.9h0M941.7 526.1h0M939.2 526.4h0M932.2 527h0M907.3 527.1h0M940.8 527.2h0M922.9 527.7h0M910.3 527.9h0M910 528.4h0M934.9 528.6h0M910.4 529.1h0M919.9 529.2h0M915.3 529.5h0M941.7 529.5h0M938.1 529.6h0M940.8 529.7h0M928.7 530.1h0M920.5 530.3h0M939.1 530.6h0M911.8 530.8h0M916.2 530.8h0M910.1 531.3h0M931.4 531.8h0M928.8 532h0M941.2 532.1h0M941.4 532.2h0M909.1 532.2h0M938.2 532.9h0M940.4 533.2h0M925.4 533.3h0M930.7 533.3h0M924.3 533.4h0M935.9 533.5h0M942.2 534.2h0M910.3 534.4h0M921.3 535.5h0M942 535.6h0M914.8 536.1h0M910.8 536.4h0M912.7 537.1h0M934.1 537.2h0M937.6 537.2h0M916.6 537.4h0M928.9 538.1h0M933.7 538.4h0M925.1 538.4h0M942.2 538.9h0M916.1 539.2h0M919.2 539.7h0M936.1 540.1h0M944.1 540.2h0M915.1 540.6h0M913.1 541h0M940.8 541.1h0M922 541.5h0M944.3 541.7h0M928.3 541.8h0M914.3 541.9h0M912 542h0M913.1 542.3h0M917.1 542.4h0M939.9 542.9h0M915.6 543.3h0M921.2 543.8h0M928.6 543.8h0M913.7 544.4h0M930.9 544.7h0M922.1 545h0M917 545.2h0M942.9 545.3h0M942.2 545.4h0M917.5 545.7h0M943.9 545.7h0M913.6 546.1h0M934 546.5h0M942.9 546.6h0M937.3 546.6h0M937.8 546.9h0M915.9 547.1h0M944.8 547.6h0M924 548.1h0M915.3 548.4h0M921.2 548.8h0M929 549.2h0M916.9 549.3h0M942.7 549.6h0M915 549.8h0M943.6 549.9h0M929.6 550.9h0M945.4 550.9h0M917.3 551.2h0M942.1 551.9h0M935.8 552.1h0M920.6 552.1h0M937.4 552.2h0M929.9 553.3h0M926.2 553.3h0M929.1 553.6h0M921.8 553.8h0M944.6 554.2h0M919.2 554.2h0M918.2 554.3h0M939.6 556h0M927.9 556.2h0M941.6 556.3h0M941.2 556.7h0M945.4 556.8h0M917.7 557.2h0M934.1 557.5h0M945.9 558h0M931.5 558.4h0M945 558.5h0M924.2 558.8h0M920.8 560.1h0M919.3 560.5h0M940.9 560.6h0M919.7 561.1h0M945.9 561.2h0M925.5 561.4h0M938.5 561.5h0M930.2 563.1h0M945.1 563.3h0M934.3 564.1h0M944.5 564.3h0M946.9 564.4h0M920.1 564.9h0M932.2 565.1h0M922.9 565.4h0M943.7 565.8h0M940.8 566.1h0M919.8 566.3h0M935.6 567.2h0M946 567.9h0M928 568h0M922.4 569.2h0M926.2 569.6h0M923.2 570.1h0M932.5 570.2h0M943.6 570.6h0M927.3 570.8h0M941.5 571.1h0M940.3 571.1h0M944 571.4h0M941.8 571.4h0M925.7 571.5h0M941.2 571.8h0M921.2 572h0M946.4 572.8h0M932 573.1h0M936.1 573.7h0M947.9 574.1h0M928.2 574.3h0M946.2 574.3h0M923.7 574.9h0M932.8 574.9h0M947.5 575.9h0M922.4 576.1h0M938 576.2h0M948.1 576.6h0M944.5 576.7h0M943.5 576.7h0M923.5 577h0M929.9 577.3h0M947.1 577.9h0M932.1 578.1h0M927.7 578.8h0M943.4 578.9h0M930 579.1h0M946.1 579.5h0M931.3 579.9h0M937.1 580h0M926 580.5h0M945.2 580.5h0M941.8 580.7h0M923.2 580.8h0M945.3 581.3h0M948.7 581.7h0M946.3 581.8h0M946 581.9h0M938.2 581.9h0M940.2 582h0M923.6 583.4h0M946.6 583.6h0M933.8 584.5h0M927.8 584.6h0M925.7 585.1h0M945.9 585.8h0M938.1 586.1h0M928.6 586.5h0M945.2 586.5h0M924.7 586.7h0M948.4 587.1h0M947.8 588.1h0M927.2 588.5h0M930.2 589.1h0M938 589.3h0M935.1 589.6h0M942.4 589.6h0M924 589.9h0M933.4 590h0M926 590.3h0M944.5 590.8h0M944.9 590.8h0M947.5 591.1h0M948.2 591.2h0M936.2 591.4h0M926.4 591.8h0M948.2 592.8h0M938.7 593.3h0M935.6 594.5h0M947.9 594.5h0M925.6 594.6h0M940.7 594.7h0M932.6 594.8h0M945.4 594.9h0M928.3 595.2h0M949.3 596h0M937.2 596.2h0M924.1 596.3h0M946.1 596.5h0M924.8 597.7h0M927.5 598.7h0M948.8 598.9h0M944.3 599.4h0M945 599.4h0M930.5 599.5h0M924.3 599.5h0M924.2 599.7h0M931.8 600h0M942.1 600.5h0M945.5 600.7h0M945.2 601.1h0M924.4 601.3h0M937.5 601.6h0M943.9 602.2h0M948.4 602.7h0M925.8 602.8h0M942.1 603.5h0M934.9 603.9h0M933.9 603.9h0M946.5 604h0M924.4 604.2h0M936.1 604.3h0M949.1 604.6h0M932 604.7h0M928.9 605.1h0M949.3 606h0M932.2 606.2h0M924.5 606.3h0M925.2 606.9h0M947.7 607.4h0M949.6 607.6h0M941 608.3h0M927 609.2h0M932 609.7h0M949 609.7h0M930.5 609.8h0M949 610h0M934.3 610.7h0M937.6 611.7h0M926.2 612.6h0M941.2 612.7h0M944.7 613.2h0M943.1 613.4h0M926.7 614h0M927.7 614.1h0M935.7 614.5h0M946.5 614.7h0M948.2 614.8h0M930.1 614.8h0M929 616.1h0M934 617.4h0M938.6 617.8h0M936.9 619h0M927.6 619.2h0M943.9 619.9h0M945.3 620h0M948.3 620.2h0M930.3 621.1h0M934.7 622.6h0M941.5 622.7h0M944.2 623.8h0M930.1 624h0M948.9 624.3h0M928.9 624.4h0M934.5 624.6h0M929 624.8h0M947.2 625.3h0M931.3 626.3h0M932.6 626.6h0M949.7 626.8h0M941.2 627h0M938 627.1h0M949.7 628.4h0M939.2 628.5h0M948.8 629h0M949.7 629.1h0M944.5 629.2h0M930.5 629.5h0M948.4 629.9h0M946.6 630.4h0M932.9 630.5h0M942.1 631.7h0M938.5 632.4h0M937.2 633h0M949.7 633.7h0M935.8 633.7h0M931.1 633.8h0M948.3 634h0M948.8 635.4h0M934.7 635.7h0M936.5 636.5h0M947.6 636.6h0M942.1 636.9h0M934.3 637h0M943.1 637.6h0M933.2 638.6h0M947.9 638.6h0M932.5 638.7h0M949.4 639.1h0M930.7 639.3h0M949.7 639.3h0M949 639.6h0M941.3 640.1h0M931.3 640.3h0M946 640.5h0M930.5 640.6h0M935.5 642.1h0M942.1 642.4h0M937.6 643h0M943 643.5h0M932.3 643.6h0M948.4 643.6h0M928.6 644.6h0M944.4 645.2h0M940.3 646h0M938 646.1h0M942.2 647.8h0M938 647.8h0M947.8 648.2h0M942.2 648.4h0M929.6 648.5h0M933.6 648.9h0M945.9 649.8h0M932.2 649.8h0M928.2 650.3h0M944.6 650.6h0M949.6 650.6h0M934.3 650.7h0M938.9 651h0M936.9 651.9h0M932.7 652.5h0M949.7 652.9h0M946.3 653.3h0M947.8 653.7h0M936.4 654h0M936.1 655h0M930.7 655.2h0M944 655.2h0M949.7 655.3h0M928.2 655.5h0M940.8 656h0M943.1 657.3h0M949.1 657.8h0M943.7 658h0M946 658.9h0M948.9 658.9h0M933.2 659.1h0M928 659.9h0M923 660h0M939.9 660.7h0M934.8 661h0M941.7 662.1h0M928 662.1h0M930.3 662.1h0M948.2 662.4h0M937.5 662.9h0M929.5 663.5h0M948.9 663.5h0M947.4 663.6h0M932 664.9h0M948.5 665.1h0M944 665.2h0M941.1 666h0M949.5 666.3h0M930.1 667h0M927 667h0M936.1 667.1h0M937.5 667.5h0M948.4 668.3h0M944.3 669.5h0M931.5 669.8h0M948.1 670.4h0M936.5 671h0M941.1 671.4h0M947.5 671.6h0M932.9 671.9h0M932.7 672h0M943.2 672.1h0M940 672.9h0M946.8 672.9h0M944.6 673.3h0M948.3 673.8h0M936.1 674.1h0M933.1 674.3h0M934.4 674.7h0M934.1 676.2h0M949.5 676.2h0M944.2 676.6h0M935.5 676.7h0M940.7 677.1h0M946.7 678.2h0M932.3 679.3h0M947.9 679.4h0M938.7 680.7h0M942.2 680.8h0M945.4 681h0M948.4 682.2h0M939.7 682.3h0M938 682.8h0M933.9 682.9h0M947.6 683.9h0M932.8 683.9h0M948.5 684.1h0M948.9 685.9h0M935.9 685.9h0M943 686h0M934.1 686.5h0M937.6 686.8h0M938.8 687h0M948.7 687.2h0M935.3 688.7h0M943.4 689.4h0M935.9 690.1h0M941.9 690.1h0M949 691.2h0M942.7 691.3h0M947.8 692.9h0M940 693.3h0M948.9 693.4h0M933.8 693.6h0M946 694.2h0M949.1 694.7h0M937.1 694.8h0M947.4 695.4h0M938.3 695.8h0M944.3 697.2h0M939.3 697.8h0M935.6 698.7h0M949.4 698.9h0M946 699.3h0M934.7 699.3h0M949.5 700h0M937.4 700.2h0M941.6 700.8h0M947.7 701.5h0M936 702.9h0M934.7 703.5h0M938.2 703.8h0M938.5 704.1h0M947.8 704.1h0M941.4 704.2h0M943.4 704.3h0M948.3 704.4h0M946.1 705.4h0M947.3 705.4h0M936.7 707.5h0M935.7 707.7h0M944.7 708.8h0M949.4 708.8h0M949 709h0M936.2 709.6h0M939.3 710h0M944.2 710.6h0M943.3 710.7h0M937.9 710.8h0M935.7 711h0M947.4 711.4h0M939.8 711.6h0M934.1 712.7h0M947.3 712.8h0M944.6 713.1h0M934.6 713.5h0M948.6 713.6h0M942.4 713.9h0M935.3 714.8h0M948.5 715.3h0M948.9 715.8h0M941.6 715.9h0M938.8 716.8h0M932.5 716.8h0M932.3 717.7h0M947.7 718.5h0M949 719.1h0M939.8 719.5h0M937.9 719.6h0M948.2 720.3h0M946.9 721h0M942.1 721.1h0M931.6 721.9h0M937.2 722h0M937.9 723.2h0M948 723.3h0M946.8 723.4h0M932.4 723.4h0M944.8 724.6h0M935.2 724.7h0M944.9 725.2h0M942.9 725.9h0M947 726.1h0M932.3 726.4h0M938.4 726.4h0M935.2 727.3h0M932.9 728.2h0M946.9 728.3h0M933.1 728.3h0M948.3 728.7h0M946.4 730.4h0M945.4 730.4h0M940 730.5h0M930.3 730.9h0M941.8 731.8h0M930.5 733.3h0M945.9 733.4h0M948.4 733.9h0M934.9 733.9h0M935.3 734.1h0M943.5 734.4h0M942.4 734.5h0M942.9 735.2h0M933 735.8h0M946.5 736.3h0M935.2 736.8h0M931.2 737.1h0M938.2 738.3h0M946.8 738.4h0M946.5 739.7h0M940.4 740.3h0M943.1 740.5h0M934 740.7h0M934.1 741.3h0M935.6 741.8h0M934.8 742.9h0M948.6 743.1h0M929.3 743.4h0M939.6 745.8h0M936.4 745.8h0M930.1 746.4h0M945.2 746.8h0M931.7 746.9h0M946.8 747.7h0M929 747.8h0M937.8 748.3h0M931.9 748.4h0M935.6 748.9h0M946.3 749.5h0M947.3 749.8h0M929.4 750h0M930.2 751h0M942.7 751.1h0M937.3 751.8h0M933.6 752.6h0M945.8 752.9h0M938.9 753h0M948.7 753h0M935.7 753.6h0M933.9 753.8h0M947.4 754.9h0M928.2 755.7h0M933.8 756.2h0M932.2 756.3h0M932.4 756.8h0M929.7 757h0M947.2 757.6h0M949.2 757.7h0M947.4 757.8h0M942.6 758.1h0M936.4 758.1h0M938.7 758.4h0M948.1 758.5h0M926.6 759h0M927.8 759.7h0M941.3 759.9h0M943.3 760.1h0M939.5 760.1h0M946.7 760.9h0M927 761h0M927.5 761.5h0M935.8 761.7h0M939.1 761.9h0M948.8 762.5h0M929.8 762.6h0M925.3 763.5h0M943.3 764.5h0M939.2 764.9h0M943.1 765.2h0M924.8 766.6h0M942.9 766.8h0M946.9 767h0M930.3 767.3h0M925.7 767.4h0M949.9 767.7h0M934.8 767.7h0M921 768h0M936.4 768.5h0M955 769h0M926.6 769.8h0M939.6 770.2h0M931.7 771.3h0M943.9 771.6h0M924.2 771.6h0M946.9 771.7h0M929.4 771.9h0M873 772h0M940.1 772.4h0M925.5 772.6h0M948.3 773h0M925.9 773.2h0M938 773.7h0M933.7 774.4h0M928 774.4h0M941 774.6h0M935.1 774.7h0M932.1 775.8h0M945.7 776.4h0M925.2 776.7h0M925.9 776.9h0M927.6 777.1h0M945.1 779.4h0M925.2 779.5h0M938.9 779.7h0M937.1 779.8h0M945.1 781h0M927.6 781.1h0M932.6 781.1h0M924.9 781.7h0M944.7 782.6h0M929.9 782.6h0M929.9 782.8h0M936.4 782.9h0M926.8 783.2h0M938.1 783.3h0M944.8 783.4h0M938.9 783.7h0M925.1 784.4h0M932.4 785.9h0M927.2 786h0M942.2 786.2h0M924.1 786.4h0M927.7 786.9h0M925 787.3h0M936 787.3h0M943.9 787.7h0M928.4 789.2h0M923.6 789.7h0M945.8 789.7h0M942.5 790.1h0M932.5 790.4h0M937 790.5h0M924.1 790.5h0M927.2 791.9h0M925.4 792.2h0M927.8 792.8h0M930.7 793h0M923.2 793.1h0M940.9 793.4h0M944.8 793.5h0M938.5 793.5h0M937.2 793.6h0M925.1 795.1h0M939.2 795.2h0M932.1 795.3h0M946 795.3h0M928 795.6h0M946 796.3h0M945.6 796.5h0M940.5 797.2h0M923.7 797.3h0M925.1 797.7h0M932.8 798.2h0M923 798.2h0M932.7 798.3h0M936 799h0M923.4 799.9h0M943.9 801.3h0M926.6 801.3h0M943.4 801.4h0M941.6 802.2h0M923 802.3h0M932.6 803h0M943.3 804h0M940 804.5h0M942.4 804.7h0M921.7 805.1h0M946 805.3h0M944.6 805.6h0M935.3 806h0M942 806h0M944.4 806.1h0M924.6 806.2h0M929.4 806.7h0M921.9 807h0M921.9 807.6h0M943.9 807.8h0M937.5 808h0M942.6 808.2h0M929.6 808.5h0M934.4 808.9h0M941.8 809.9h0M925.4 810.4h0M923.5 810.4h0M924.3 810.8h0M941.7 810.8h0M931.4 811.8h0M943.9 811.9h0M925 813.1h0M937 813.2h0M924 813.2h0M946 813.3h0M923 813.4h0M943.4 813.7h0M932.2 814.1h0M935.6 814.4h0M929.8 814.5h0M934.1 815.8h0M946 815.9h0M922.7 816.4h0M925 816.7h0M925.7 816.8h0M941.4 818.1h0M945.7 818.2h0M939 818.4h0M942.9 818.8h0M925 819.3h0M928 819.3h0M932 819.4h0M930.6 819.6h0M935.6 819.6h0M936.3 819.7h0M940.8 819.8h0M922.5 820.1h0M944.3 820.2h0M938.2 820.3h0M928.3 820.3h0M932.9 820.4h0M943.2 820.5h0M936 820.5h0M929.6 820.5h0" stroke="#00ffff" stroke-width="7" stroke-linecap="round" fill="none"/>
<polyline points="692.6,44 696.6,92.9 708,141.9 752.8,190.8 797.4,239.8 838.4,288.7 867.5,337.7 889.4,386.6 902.5,435.6 916.3,484.5 929.4,533.5 937.6,582.4 941.6,631.4 943.4,680.3 942.5,729.3 939.4,778.2 935.2,827.2" fill="none" stroke="#0000ff" stroke-width="3.0" stroke-linejoin="round"/>
<path d="M692.6 44h0M696.6 92.9h0M708 141.9h0M752.8 190.8h0M797.4 239.8h0M838.4 288.7h0M867.5 337.7h0M889.4 386.6h0M902.5 435.6h0M916.3 484.5h0M929.4 533.5h0M937.6 582.4h0M941.6 631.4h0M943.4 680.3h0M942.5 729.3h0M939.4 778.2h0M935.2 827.2h0" stroke="#0000ff" stroke-width="11.6" stroke-linecap="round" fill="none"/>
<polyline points="672.8,19.5 672.8,29.3 672.8,39.1 672.8,48.9 672.8,58.7 672.8,68.4 674.5,78.2 677,92.9 684,117.4 695.1,141.9 704.5,166.3 720.2,190.8 737.5,215.3 758,239.8 775.6,264.2 783.8,313.2 790.7,362.1 794.7,411.1 843.9,460 872.5,509 880.3,631.4 869.3,753.7 836.6,998.5" fill="none" stroke="#ff0000" stroke-width="8.5" stroke-linejoin="round"/>
<path d="M672.8 19.5h0M672.8 29.3h0M672.8 39.1h0M672.8 48.9h0M672.8 58.7h0M672.8 68.4h0M674.5 78.2h0M677 92.9h0M684 117.4h0M695.1 141.9h0M704.5 166.3h0M720.2 190.8h0M737.5 215.3h0M758 239.8h0M775.6 264.2h0M783.8 313.2h0M790.7 362.1h0M794.7 411.1h0M843.9 460h0M872.5 509h0M880.3 631.4h0M869.3 753.7h0M836.6 998.5h0" stroke="#ff0000" stroke-width="11.6" stroke-linecap="round" fill="none"/>
<polyline points="652.7,19.5 652.7,29.3 652.7,39.1 652.7,48.9 652.7,58.7 655.2,68.4 658.3,78.2 668,92.9 683.3,117.4 705.8,141.9 731,166.3 752.8,190.8 763.2,215.3 770.7,239.8 776.5,264.2 791.6,313.2 793.4,362.1 789.6,411.1 836.2,460 876.3,509 892,631.4 883.9,753.7 868,998.5" fill="none" stroke="#b87c12" stroke-width="3.2" stroke-linejoin="round"/>
<path d="M652.7 19.5h0M652.7 29.3h0M652.7 39.1h0M652.7 48.9h0M652.7 58.7h0M655.2 68.4h0M658.3 78.2h0M668 92.9h0M683.3 117.4h0M705.8 141.9h0M731 166.3h0M752.8 190.8h0M763.2 215.3h0M770.7 239.8h0M776.5 264.2h0M791.6 313.2h0M793.4 362.1h0M789.6 411.1h0M836.2 460h0M876.3 509h0M892 631.4h0M883.9 753.7h0M868 998.5h0" stroke="#b87c12" stroke-width="12.8" stroke-linecap="round" fill="none"/>
<polyline points="652.7,19.5 652.7,29.3 652.7,39.1 652.7,48.9 652.7,58.7 655.2,68.4 658.3,78.2 668,92.9 683.3,117.4 705.8,141.9 731,166.3 752.8,190.8 763.2,215.3 770.7,239.8 776.5,264.2 791.6,313.2 793.4,362.1 789.6,411.1 836.2,460 876.3,509 892,631.4 883.9,753.7 868,998.5" fill="none" stroke="#ffa500" stroke-width="2.2" stroke-linejoin="round"/>
<path d="M652.7 19.5h0M652.7 29.3h0M652.7 39.1h0M652.7 48.9h0M652.7 58.7h0M655.2 68.4h0M658.3 78.2h0M668 92.9h0M683.3 117.4h0M705.8 141.9h0M731 166.3h0M752.8 190.8h0M763.2 215.3h0M770.7 239.8h0M776.5 264.2h0M791.6 313.2h0M793.4 362.1h0M789.6 411.1h0M836.2 460h0M876.3 509h0M892 631.4h0M883.9 753.7h0M868 998.5h0" stroke="#ffa500" stroke-width="11.6" stroke-linecap="round" fill="none"/>
<polyline points="635.4,19.5 635.4,29.3 635.4,39.1 635.4,48.9 635.4,58.7 639.5,68.4 650.5,78.2 664,92.9 687.1,117.4 714.6,141.9 733.4,166.3 751.9,190.8 768.5,215.3 780.5,239.8 793.8,264.2 816.9,313.2 828.4,362.1 844.4,411.1 876.3,460 888.5,509 893.6,631.4 889.4,753.7 856.3,998.5" fill="none" stroke="#008000" stroke-width="3.0" stroke-linejoin="round"/>
<path d="M635.4 19.5h0M635.4 29.3h0M635.4 39.1h0M635.4 48.9h0M635.4 58.7h0M639.5 68.4h0M650.5 78.2h0M664 92.9h0M687.1 117.4h0M714.6 141.9h0M733.4 166.3h0M751.9 190.8h0M768.5 215.3h0M780.5 239.8h0M793.8 264.2h0M816.9 313.2h0M828.4 362.1h0M844.4 411.1h0M876.3 460h0M888.5 509h0M893.6 631.4h0M889.4 753.7h0M856.3 998.5h0" stroke="#008000" stroke-width="11.6" stroke-linecap="round" fill="none"/>
<polyline points="669,21.9 669,27 669,32.5 669,38.2 669,44.4 669,51 669,58.3 669,66.3 669.4,75.3 669.6,85.4 669.4,96.9 670.3,110.1 670.5,125.2 671.6,142.9 680.4,163.6 710.4,188 745.3,217 777.4,251.4 803.4,292.4 821.5,341.6 841.1,400.6 859.3,471.3 875.7,556.5 884.5,659.3 884.5,782.4 881.7,930.5" fill="none" stroke="#ff00ff" stroke-width="3.0" stroke-linejoin="round"/>
<path d="M669 21.9h0M669 27h0M669 32.5h0M669 38.2h0M669 44.4h0M669 51h0M669 58.3h0M669 66.3h0M669.4 75.3h0M669.6 85.4h0M669.4 96.9h0M670.3 110.1h0M670.5 125.2h0M671.6 142.9h0M680.4 163.6h0M710.4 188h0M745.3 217h0M777.4 251.4h0M803.4 292.4h0M821.5 341.6h0M841.1 400.6h0M859.3 471.3h0M875.7 556.5h0M884.5 659.3h0M884.5 782.4h0M881.7 930.5h0" stroke="#ff00ff" stroke-width="11.6" stroke-linecap="round" fill="none"/>
</g>
<rect x="580.5" y="19.5" width="402" height="795" fill="none" stroke="#000" stroke-width="1.33"/>
<path d="M629.5 814.5v6.5M691.5 814.5v6.5M753.5 814.5v6.5M815.5 814.5v6.5M877.5 814.5v6.5M939.5 814.5v6.5M580.5 19.5h-6.5M580.5 116.5h-6.5M580.5 214.5h-6.5M580.5 312.5h-6.5M580.5 410.5h-6.5M580.5 508.5h-6.5M580.5 606.5h-6.5M580.5 704.5h-6.5M580.5 802.5h-6.5" stroke="#000" stroke-width="1.33" fill="none"/>
<text x="628.6" y="842.2" font-size="17" text-anchor="middle">35.0</text>
<text x="690.6" y="842.2" font-size="17" text-anchor="middle">35.5</text>
<text x="752.6" y="842.2" font-size="17" text-anchor="middle">36.0</text>
<text x="814.6" y="842.2" font-size="17" text-anchor="middle">36.5</text>
<text x="876.6" y="842.2" font-size="17" text-anchor="middle">37.0</text>
<text x="938.6" y="842.2" font-size="17" text-anchor="middle">37.5</text>
<path d="M1105.5 19.5V814.5M1209.5 19.5V814.5M1313.5 19.5V814.5M1417.5 19.5V814.5M1072.5 19.5H1474.5M1072.5 116.5H1474.5M1072.5 214.5H1474.5M1072.5 312.5H1474.5M1072.5 410.5H1474.5M1072.5 508.5H1474.5M1072.5 606.5H1474.5M1072.5 704.5H1474.5M1072.5 802.5H1474.5" stroke="#aeaeae" stroke-width="1" stroke-dasharray="3.3 1.3" fill="none"/>
<g clip-path="url(#cp2)">
<path d="M1118 20.5h0M1122 20.5h0M1119.5 31.5h0M1122.1 31.6h0M1119.9 31.7h0M1123 31.8h0M1123.4 32.4h0M1119.5 32.5h0M1122.4 33.1h0M1122.1 33.9h0M1119.8 34.4h0M1123.9 34.7h0M1124 35.6h0M1122.4 36.3h0M1119.9 36.4h0M1124.2 37h0M1124.3 37.5h0M1120 37.6h0M1120 37.9h0M1121.1 38.8h0M1122 38.8h0M1120.1 38.9h0M1122.2 40.4h0M1121.1 40.7h0M1124.8 40.9h0M1124.9 42h0M1120.6 42.2h0M1124.2 43.7h0M1124.2 45h0M1120.6 45.2h0M1125.3 45.3h0M1122.6 46.5h0M1121 47.1h0M1121.7 47.5h0M1120.6 48.5h0M1121 49h0M1125.5 49.5h0M1121.4 49.8h0M1120.9 50.4h0M1125 50.5h0M1125.6 52h0M1125.6 52.5h0M1120.8 52.7h0M1123.2 52.9h0M1125.7 53.3h0M1121.6 53.5h0M1125.5 54.3h0M1125.1 55.2h0M1125.8 55.7h0M1120.9 55.9h0M1123.2 56.2h0M1121.3 56.6h0M1120.9 58.3h0M1126 58.8h0M1121 59.6h0M1121 59.8h0M1126 59.8h0M1122.5 60.7h0M1126.1 61.1h0M1121.9 61.7h0M1124.2 62.7h0M1121.1 62.7h0M1124.3 63.2h0M1125.4 63.3h0M1122.7 64.3h0M1123.8 64.7h0M1126.3 64.8h0M1122.1 65.1h0M1121.1 65.3h0M1125.4 65.4h0M1123 65.8h0M1121.2 67.3h0M1126.5 68.1h0M1121.8 68.4h0M1121.7 69.2h0M1121.2 69.3h0M1121.7 70.2h0M1126.6 70.4h0M1125.2 70.7h0M1124.8 72.1h0M1121.4 72.4h0M1121.8 72.5h0M1126 72.9h0M1125.9 73.5h0M1123.3 73.9h0M1124.1 74h0M1121.6 74.4h0M1121.6 74.9h0M1126.9 75.7h0M1126.3 75.9h0M1126.4 77.1h0M1123.1 77.7h0M1122.5 78h0M1123.3 78h0M1121.5 78.8h0M1125.4 79.2h0M1122.3 79.5h0M1127.1 79.6h0M1121.5 80.1h0M1126.9 81h0M1121.5 81.2h0M1121.7 82h0M1125.7 82.5h0M1124.7 82.7h0M1126.2 83.2h0M1125.7 83.4h0M1124 83.5h0M1125.6 83.9h0M1126.9 84.8h0M1121.5 85.1h0M1121.6 87.1h0M1127.3 87.2h0M1122.4 87.7h0M1121.9 88.6h0M1125.2 89.8h0M1121.7 90h0M1127.1 90.4h0M1126.1 91h0M1127.5 91.6h0M1123 92h0M1123.6 92h0M1122.5 93h0M1126.9 93.3h0M1123.7 94.3h0M1124.4 94.6h0M1126.5 95.5h0M1127.6 95.9h0M1122.8 96.1h0M1123.6 96.2h0M1126.1 96.8h0M1121.5 97h0M1127 97.1h0M1122.6 98h0M1123.2 99.6h0M1122.3 99.7h0M1127.5 100.1h0M1122 101h0M1125.6 101.2h0M1126.4 101.7h0M1127.7 102h0M1121.6 102.9h0M1127.9 104.8h0M1123.4 105.1h0M1123.1 105.3h0M1127.3 106.4h0M1122.1 107.3h0M1127.4 107.9h0M1121.5 107.9h0M1126.5 108.9h0M1122.7 109h0M1128.1 109.7h0M1125.5 110.3h0M1123.2 110.3h0M1122.2 110.7h0M1126.4 111h0M1123.7 111.3h0M1127.4 111.4h0M1126.2 112.3h0M1126.9 112.5h0M1125.5 113.3h0M1123.2 113.7h0M1121.7 113.8h0M1122.5 113.9h0M1128.1 114.2h0M1123.6 115.3h0M1126.4 115.4h0M1122.4 115.8h0M1124.8 116.1h0M1127.9 116.5h0M1123.7 118.1h0M1128.9 118.6h0M1127.3 119.2h0M1127.7 119.8h0M1125.1 120.3h0M1123.2 120.5h0M1128.5 120.6h0M1128.2 121.8h0M1129.1 122.7h0M1126.5 123.3h0M1123.6 123.4h0M1127.8 123.6h0M1122.7 123.6h0M1126.8 125h0M1129.5 125.3h0M1126.4 125.4h0M1130.3 125.8h0M1128.8 126h0M1129.8 126.2h0M1121.9 126.3h0M1129.5 127.9h0M1123.5 127.9h0M1130.4 127.9h0M1123.9 128.3h0M1127.9 129.5h0M1129.7 129.9h0M1128.5 130.7h0M1127.6 131h0M1131.5 131.4h0M1126.2 131.5h0M1123.1 131.9h0M1123.7 132.1h0M1130.4 132.2h0M1128.5 132.4h0M1134.1 132.6h0M1124.2 133.4h0M1127.8 134.5h0M1123.9 134.6h0M1129.7 134.7h0M1134.8 135h0M1129.3 135.7h0M1125.3 136.2h0M1125.2 136.8h0M1134.7 137h0M1124.9 137.8h0M1126.7 138.6h0M1131.9 138.6h0M1134.8 138.7h0M1134.4 140.4h0M1126.5 141.2h0M1136.1 141.2h0M1125.1 141.5h0M1130.1 141.9h0M1134.4 142.2h0M1132.4 142.3h0M1124.3 142.6h0M1128 143.3h0M1125.3 143.3h0M1125 143.7h0M1126 144.6h0M1128.2 145.3h0M1137.5 146h0M1125.5 146.3h0M1137.3 147h0M1126.2 147.3h0M1136.8 147.6h0M1126 148.6h0M1133 149.1h0M1135.4 149.2h0M1127.9 149.9h0M1138.5 149.9h0M1135.3 150.1h0M1125.6 150.5h0M1140.2 150.8h0M1132.7 150.9h0M1127 151.2h0M1127.7 151.6h0M1138.1 151.6h0M1130.5 151.8h0M1136.8 152.7h0M1124.8 153h0M1136.4 153.8h0M1136.1 154h0M1133.4 154.5h0M1129 154.7h0M1141.6 154.7h0M1142 155.6h0M1125.7 155.7h0M1127.5 156.6h0M1144.5 156.8h0M1141 157.2h0M1125.7 157.6h0M1136.3 157.8h0M1126 158.1h0M1128.5 158.3h0M1139.2 158.7h0M1140.1 159.2h0M1133.2 159.3h0M1135.2 159.4h0M1142.8 160.3h0M1124.2 160.5h0M1126.3 161.1h0M1140.8 161.5h0M1136.6 162.5h0M1146.2 162.8h0M1125.2 163.3h0M1146.6 163.4h0M1128 163.5h0M1133.2 164.2h0M1147.5 164.2h0M1138.6 164.3h0M1132.9 164.8h0M1132.8 165.3h0M1139.6 166.1h0M1149.3 166.5h0M1148.3 167.3h0M1131.6 167.3h0M1135.4 168.1h0M1125.8 168.2h0M1126.4 168.2h0M1142.9 169h0M1142 169.8h0M1150.1 169.9h0M1143.1 170.1h0M1132.7 170.6h0M1152.2 170.6h0M1148.5 171h0M1128.2 171.1h0M1141 171.8h0M1133.8 172.1h0M1151.8 172.7h0M1125.8 172.7h0M1139.2 173h0M1151.3 173.8h0M1127.4 173.9h0M1147.7 174.2h0M1149.5 174.6h0M1130.7 174.7h0M1139.7 175h0M1153.9 175.5h0M1133.5 175.7h0M1154.3 176.1h0M1148.3 176.2h0M1131.2 176.3h0M1157 176.7h0M1152 177.1h0M1126.7 177.8h0M1144.2 178h0M1145.2 178.2h0M1145.3 178.5h0M1137.8 178.8h0M1158.7 178.8h0M1150.9 179h0M1129.6 179.1h0M1136.2 179.2h0M1133.8 179.3h0M1131.9 180.5h0M1159.5 181h0M1136.3 181h0M1152.3 181.3h0M1133.8 181.3h0M1127.7 181.4h0M1125.1 182.1h0M1155.3 182.3h0M1147.6 183.3h0M1130.9 183.4h0M1141.3 183.8h0M1161.5 183.9h0M1162 184.2h0M1143.9 184.3h0M1158.6 184.3h0M1134.2 185h0M1151.7 186.2h0M1126.7 186.7h0M1143.2 186.8h0M1131 187.3h0M1162.2 187.5h0M1164.8 187.6h0M1153.6 187.7h0M1162 188.1h0M1151 188.1h0M1146.8 188.3h0M1138.2 188.7h0M1127.5 189h0M1157.6 189.1h0M1164.3 189.1h0M1135.2 189.6h0M1166 190.6h0M1165.6 190.8h0M1136.7 191h0M1142.7 191.6h0M1151.4 191.8h0M1129.3 191.9h0M1132.6 192h0M1165.6 192.3h0M1146.5 192.8h0M1166.2 193.3h0M1147.3 193.3h0M1155.7 194h0M1163.1 194.3h0M1137.9 194.4h0M1135.8 194.8h0M1160.2 195.1h0M1167.3 195.8h0M1141.2 196.1h0M1127.9 196.5h0M1158.1 196.6h0M1164.3 196.7h0M1151.9 197h0M1130.5 197.2h0M1159.5 197.4h0M1147.2 197.8h0M1144.5 198h0M1136.6 198h0M1128.6 198.2h0M1169.3 198.9h0M1137.8 199h0M1165.4 200h0M1157.2 200.2h0M1169.8 200.5h0M1153.1 200.9h0M1143.5 201.4h0M1145.7 201.7h0M1169.4 201.8h0M1136.5 201.9h0M1135.1 201.9h0M1160.7 202.4h0M1167.7 202.6h0M1154.2 203h0M1132.9 203.2h0M1147.6 203.2h0M1132 203.4h0M1170.3 203.9h0M1158.3 205.2h0M1171.3 205.9h0M1131 206.3h0M1165.6 206.4h0M1141.2 206.6h0M1143.8 206.7h0M1169.8 206.9h0M1153.3 207h0M1171.3 207.1h0M1133.9 207.2h0M1140.3 207.2h0M1149.8 207.4h0M1170.1 207.4h0M1152.4 207.4h0M1156.6 207.5h0M1155.5 207.9h0M1134.7 208h0M1168.6 208.2h0M1173.6 208.6h0M1172.4 208.6h0M1135.1 209.3h0M1141.2 209.3h0M1164.4 210h0M1162.4 210.1h0M1169 210.6h0M1153.1 210.8h0M1159.4 210.9h0M1157.7 211.7h0M1147.6 211.8h0M1132.2 212.4h0M1152.3 212.6h0M1150.2 212.7h0M1133.4 212.7h0M1139.3 213h0M1161.4 213h0M1175.8 213.2h0M1168.5 213.6h0M1173.2 213.9h0M1144.4 213.9h0M1150.1 214.3h0M1147.9 214.8h0M1168.2 215.2h0M1161 215.7h0M1158.7 215.9h0M1156.1 216h0M1169.7 216.2h0M1134.6 216.4h0M1162.9 216.5h0M1174.6 216.8h0M1144.1 216.8h0M1153.9 217.2h0M1176.6 217.3h0M1157.5 217.8h0M1137.6 217.9h0M1174 218.4h0M1149.5 219.3h0M1144.9 219.4h0M1137.7 220.1h0M1158.1 220.2h0M1139.6 220.3h0M1177 220.5h0M1168.1 220.7h0M1134.9 221.1h0M1147.6 221.2h0M1153.5 221.3h0M1156.9 221.7h0M1156.2 222.2h0M1138.2 222.3h0M1155.5 222.5h0M1164.3 222.6h0M1177 222.6h0M1136.6 222.8h0M1170.7 223h0M1161.7 223.6h0M1145.6 223.9h0M1134.7 224.1h0M1147.9 224.2h0M1170.4 224.4h0M1174.8 225.5h0M1171.5 225.5h0M1154.7 225.9h0M1142.1 225.9h0M1136.5 225.9h0M1179.7 226.6h0M1136 226.8h0M1168.8 227h0M1160.2 227.2h0M1174.5 227.7h0M1157.5 227.7h0M1147.3 227.9h0M1165.3 228.5h0M1150.9 228.5h0M1141 228.6h0M1146.5 229.4h0M1148.2 229.5h0M1139.3 229.6h0M1157.4 229.8h0M1179.3 230.3h0M1174.5 230.8h0M1137.8 231.5h0M1174.4 231.7h0M1179.3 231.7h0M1160.3 231.7h0M1179.8 232h0M1146 232h0M1166.7 232.1h0M1170.7 232.2h0M1141.3 232.8h0M1136.1 233.1h0M1182.8 233.5h0M1152.4 233.7h0M1156.9 234.1h0M1150.8 234.8h0M1167.9 235.3h0M1173.2 235.3h0M1180.7 235.3h0M1136.3 235.4h0M1175.7 235.4h0M1160.9 235.7h0M1146 235.7h0M1165.8 236.1h0M1137.7 236.5h0M1168.8 236.7h0M1178 236.8h0M1163.2 236.9h0M1182.3 237h0M1179.6 237h0M1179.9 237.1h0M1175.8 237.2h0M1159.4 237.3h0M1137.7 238.1h0M1146.5 238.1h0M1153 238.2h0M1182.3 238.3h0M1176.9 238.6h0M1166.2 238.6h0M1164.4 239.8h0M1141.5 240h0M1151 240.5h0M1178.9 240.6h0M1184.9 240.9h0M1180.7 241.2h0M1183.8 241.6h0M1138.7 241.6h0M1174.1 241.6h0M1166.9 241.7h0M1185.9 241.8h0M1179.3 241.9h0M1180.9 242.2h0M1168.2 242.2h0M1149.7 242.9h0M1175.6 242.9h0M1156.3 243.2h0M1144.4 243.2h0M1160.5 243.3h0M1166.6 244.3h0M1188.2 245.2h0M1143 245.2h0M1163.1 245.3h0M1136.8 245.4h0M1189 245.5h0M1161.1 245.9h0M1169.8 245.9h0M1184.7 246.1h0M1147.4 246.5h0M1151.2 246.7h0M1179.2 246.7h0M1183.5 246.7h0M1191.2 246.8h0M1162.4 247.3h0M1155.3 247.5h0M1154.2 247.9h0M1141.7 248h0M1176 248.1h0M1148.6 248.2h0M1160.4 248.2h0M1152.6 249.6h0M1182.6 249.8h0M1185.2 250h0M1173.2 250h0M1191.4 250h0M1192.9 250.1h0M1138.2 250.2h0M1144.1 250.9h0M1163.6 251h0M1170.7 251h0M1167.2 251h0M1187.4 251.4h0M1145.8 251.5h0M1170 251.6h0M1184.5 251.8h0M1190.9 251.9h0M1178.2 252h0M1193.6 252.1h0M1153.7 252.8h0M1143 252.8h0M1177.9 253.2h0M1159.1 253.2h0M1145.5 253.3h0M1165.1 253.8h0M1156.5 253.8h0M1170.3 254.2h0M1168.5 254.5h0M1192.7 255h0M1151.2 255.2h0M1193.6 255.3h0M1170.2 255.9h0M1148.5 256h0M1154.3 256h0M1194.4 256.1h0M1148.8 256.1h0M1175.4 256.3h0M1188.2 256.4h0M1181.3 256.5h0M1149.9 256.5h0M1192.8 256.8h0M1177.5 257.2h0M1194.6 257.2h0M1187.1 257.6h0M1160.3 258.1h0M1159.6 258.2h0M1150.9 259.1h0M1183.8 259.6h0M1154 259.6h0M1164.8 259.7h0M1191.3 259.8h0M1171.7 260.3h0M1181 260.4h0M1194.4 260.6h0M1182.6 261.1h0M1150.6 261.1h0M1149.3 261.2h0M1182 261.4h0M1192.3 261.5h0M1194.4 261.5h0M1175 261.5h0M1154 261.7h0M1168 261.8h0M1168 262.4h0M1156.5 262.8h0M1153.7 262.9h0M1161.4 263h0M1168.8 263.2h0M1163.3 263.4h0M1196.1 264.1h0M1170.8 264.1h0M1187.6 264.5h0M1195.7 265h0M1197.6 265h0M1180.8 265.3h0M1185.9 266.1h0M1187.2 266.2h0M1155.6 266.8h0M1170.3 266.9h0M1176.6 267h0M1195.8 267.2h0M1167.5 267.4h0M1191.2 267.5h0M1175.3 267.5h0M1157.4 267.6h0M1154.7 267.7h0M1164.2 267.7h0M1180.3 267.8h0M1164.2 268.5h0M1195.2 268.6h0M1184.5 268.9h0M1180.5 268.9h0M1172.1 269.3h0M1186.8 269.3h0M1199.1 269.8h0M1178.3 269.9h0M1158.7 269.9h0M1194.7 270.2h0M1185 270.8h0M1159 271h0M1156.9 271.1h0M1199.4 271.1h0M1187.2 271.2h0M1181.9 271.4h0M1175.4 272.1h0M1197.5 272.2h0M1193.3 272.4h0M1157.6 272.7h0M1198.2 273h0M1181.3 273.3h0M1170.6 273.7h0M1165.3 273.8h0M1161 273.9h0M1180.2 274h0M1172.2 274.9h0M1198 275.4h0M1158.8 275.6h0M1199.8 276.1h0M1182.6 276.2h0M1189.1 276.5h0M1169.7 276.6h0M1160.1 276.8h0M1198.3 276.8h0M1157.4 277h0M1197.8 277.3h0M1162.6 277.3h0M1176.9 277.4h0M1193.8 277.6h0M1172.9 277.7h0M1168.6 277.8h0M1186 278.3h0M1166.8 278.4h0M1188.7 279h0M1191.6 279.5h0M1176.4 280h0M1199.9 280.2h0M1178.4 280.3h0M1163 280.4h0M1195.9 280.7h0M1190.6 281.3h0M1180.8 281.4h0M1161.8 281.8h0M1201 281.8h0M1165.2 282.1h0M1197.4 282.4h0M1172.9 282.9h0M1186.1 283.1h0M1165.1 283.1h0M1171.6 284.2h0M1202.8 284.4h0M1200.1 284.7h0M1202.3 284.9h0M1180.3 285.1h0M1194.4 285.2h0M1190.1 285.4h0M1175.8 285.6h0M1169.4 285.6h0M1185.8 286.1h0M1203.1 286.3h0M1167.5 286.5h0M1201.5 286.6h0M1165.6 287.3h0M1172 287.8h0M1164.9 287.8h0M1187.3 288.1h0M1173.7 288.1h0M1175.4 288.3h0M1195.7 288.7h0M1200.9 289.6h0M1184.7 289.6h0M1205.3 289.7h0M1176.9 289.7h0M1189.5 289.8h0M1178 289.9h0M1190.5 289.9h0M1166 290h0M1203 290.1h0M1196 291.2h0M1201.1 291.7h0M1168.6 292.3h0M1185.3 292.7h0M1174.2 292.8h0M1163 293h0M1184.5 293.1h0M1186.4 293.2h0M1197 293.5h0M1198.6 293.8h0M1206 294.3h0M1178.7 294.5h0M1171.5 294.8h0M1203.3 294.9h0M1176.4 295h0M1191.8 295.4h0M1182.5 295.6h0M1165.6 295.8h0M1170.6 296h0M1174.2 296.1h0M1206.8 296.4h0M1170.4 297.3h0M1192.4 297.6h0M1177.8 297.9h0M1181.6 298.1h0M1187.6 298.6h0M1201.7 298.7h0M1206.3 299.4h0M1185.5 299.5h0M1199.9 299.6h0M1197.4 299.8h0M1189.7 300.1h0M1191.5 300.4h0M1164.4 300.4h0M1169.6 300.6h0M1208.2 300.7h0M1204.6 300.9h0M1206.5 301.1h0M1164 301.9h0M1187.1 302h0M1209.1 302h0M1175.6 302.2h0M1192 302.5h0M1184.4 302.7h0M1179.1 302.7h0M1172.8 303h0M1193.9 303.7h0M1173.3 303.7h0M1171.6 304h0M1207 304.2h0M1179.9 304.8h0M1211.6 304.8h0M1166.1 305.2h0M1197 305.3h0M1201.9 305.4h0M1184.3 305.5h0M1177.9 306.6h0M1167.6 306.8h0M1200.2 306.9h0M1194 307.2h0M1212.1 307.2h0M1187.1 307.2h0M1183.9 307.4h0M1179.8 307.4h0M1178.4 307.7h0M1205.7 307.8h0M1168.4 307.9h0M1210.1 308.2h0M1205.9 308.7h0M1210.8 308.8h0M1182 309.5h0M1212.3 309.6h0M1201.3 309.9h0M1192.3 310h0M1173.6 310.1h0M1191.6 310.5h0M1187.2 310.7h0M1183.2 311.3h0M1177.4 311.8h0M1195.4 311.9h0M1212.3 312h0M1169 312.1h0M1199.9 312.5h0M1169.8 312.8h0M1208.1 313.4h0M1209 313.7h0M1178.3 313.8h0M1190 313.9h0M1169.1 314.3h0M1195.6 314.4h0M1212.4 314.5h0M1175.2 314.8h0M1202.7 315.1h0M1216.4 315.3h0M1183.7 315.4h0M1188.7 315.8h0M1213.9 316.3h0M1172 316.3h0M1178.5 317.1h0M1191.5 317.1h0M1179.6 317.3h0M1181.3 317.3h0M1194.5 317.6h0M1209.5 318.2h0M1200.7 318.5h0M1184.8 318.7h0M1198.7 318.7h0M1210.3 318.7h0M1171.1 319.2h0M1208.9 319.4h0M1198.9 319.4h0M1178.9 320h0M1206.3 320.2h0M1216.9 320.4h0M1191.7 320.7h0M1189.8 321.2h0M1209.9 321.2h0M1175.3 321.2h0M1215.4 321.3h0M1177 321.6h0M1173.1 321.8h0M1218.5 322h0M1196.5 322.4h0M1218.3 322.5h0M1175.4 323.4h0M1183.5 323.4h0M1192.2 323.8h0M1219.1 324h0M1197.5 324.1h0M1205.6 324.1h0M1204.2 324.2h0M1213.8 324.2h0M1175 324.4h0M1186.3 324.8h0M1180.3 324.9h0M1221.6 325h0M1217.9 325h0M1188.3 325.7h0M1194.8 325.9h0M1207.6 326.1h0M1181.7 326.1h0M1201.8 326.6h0M1183.1 326.6h0M1187.2 326.8h0M1176.5 327.4h0M1210.8 327.6h0M1222.2 327.7h0M1216.1 327.8h0M1205.2 328.6h0M1205.8 328.8h0M1204.9 329.3h0M1180 329.6h0M1196.6 329.8h0M1193.7 329.8h0M1200.7 329.8h0M1223.6 329.9h0M1214.1 330.1h0M1223.2 330.2h0M1179.9 331.3h0M1220.3 331.4h0M1192.2 331.5h0M1189.2 331.8h0M1192.9 332h0M1186.1 332.1h0M1215.6 332.2h0M1181.5 332.2h0M1204.7 333h0M1221.8 333h0M1212 333.3h0M1185.1 333.5h0M1221.2 333.6h0M1210.3 333.7h0M1202.5 333.7h0M1182.2 334.2h0M1224.8 334.4h0M1187.9 334.7h0M1222.5 334.8h0M1203.8 334.8h0M1202.1 334.9h0M1223.8 334.9h0M1186.4 334.9h0M1213.4 335.7h0M1198.1 336.1h0M1223.8 336.1h0M1211.4 336.6h0M1193.6 337.1h0M1183.5 337.2h0M1223.2 337.6h0M1208.7 337.7h0M1220.7 337.7h0M1185.5 338.3h0M1220.2 338.5h0M1219.2 338.6h0M1213.1 338.9h0M1226.8 339.1h0M1226.8 339.3h0M1187.5 339.4h0M1193 339.6h0M1203.1 339.7h0M1210.1 339.8h0M1183.9 340.1h0M1186 340.6h0M1206.4 340.9h0M1194.5 341.1h0M1221.8 342.1h0M1200.8 342.1h0M1209.1 342.3h0M1223.5 342.5h0M1227.6 342.7h0M1218.8 342.7h0M1218.5 342.8h0M1198.8 343.5h0M1228.8 343.9h0M1187.2 344.6h0M1188.4 344.7h0M1212.6 345.1h0M1198.5 345.3h0M1204.7 345.6h0M1192.8 346h0M1227.3 346.3h0M1190.1 346.4h0M1216 346.7h0M1202.6 346.9h0M1221.6 346.9h0M1210.5 347.8h0M1195.1 348.2h0M1230.3 348.4h0M1206.6 348.5h0M1206.7 348.8h0M1218.7 348.9h0M1222.1 349h0M1188.9 349.7h0M1189.8 350.1h0M1230.1 350.5h0M1196.8 350.6h0M1192.8 350.7h0M1191.8 351.2h0M1202.8 351.9h0M1189.4 352.3h0M1227.1 352.4h0M1231.1 352.5h0M1215.2 352.7h0M1206.5 352.7h0M1220.1 353.4h0M1225.4 353.5h0M1232.8 353.6h0M1208.6 353.6h0M1211.3 353.8h0M1198.1 354h0M1213.6 354.1h0M1191.9 354.6h0M1189.2 354.8h0M1191.2 354.9h0M1207.7 355.4h0M1232.4 355.4h0M1232.2 355.6h0M1230.8 355.6h0M1193.7 355.8h0M1201.4 356.2h0M1193.3 357.2h0M1228.3 357.3h0M1212.3 357.8h0M1209.3 357.9h0M1223.3 357.9h0M1234.9 358.4h0M1212.7 358.4h0M1199.8 358.5h0M1217.2 358.9h0M1228 359.1h0M1210 359.2h0M1190.6 359.4h0M1191.9 359.8h0M1194.2 360.2h0M1219.6 360.3h0M1204.4 360.4h0M1203.4 361.2h0M1208.5 361.4h0M1216.3 361.9h0M1233.4 362.2h0M1228 362.3h0M1197.9 362.4h0M1234.3 363.5h0M1203.3 363.6h0M1225.9 363.7h0M1218.8 363.7h0M1195.5 364h0M1227.1 364.1h0M1221 364.1h0M1210.3 364.2h0M1234.4 364.5h0M1211.9 364.7h0M1205.1 365.2h0M1195.2 365.8h0M1206.7 366.3h0M1210.6 366.5h0M1215.3 366.9h0M1198.2 367.1h0M1229.2 367.1h0M1222.2 367.9h0M1215.7 368.1h0M1217.6 368.6h0M1195.4 368.7h0M1198.5 368.9h0M1220.3 369h0M1234.8 369.2h0M1218.2 369.8h0M1197.7 369.8h0M1235.3 370.1h0M1200.5 370.1h0M1233.4 370.3h0M1197.5 370.8h0M1227.4 371.2h0M1206.5 371.2h0M1211 371.5h0M1220.7 371.7h0M1198.3 372.1h0M1218.1 372.5h0M1224.4 372.5h0M1201.3 372.7h0M1222.3 372.7h0M1214.7 372.8h0M1238.5 373.3h0M1209.9 373.6h0M1229.3 373.8h0M1199.4 373.9h0M1208.1 374.1h0M1236.1 374.9h0M1199 375.1h0M1206.3 375.6h0M1234.1 376.4h0M1237.7 376.4h0M1200.5 376.5h0M1200.9 376.7h0M1220.9 376.8h0M1236.3 377.2h0M1229 377.4h0M1227.3 377.7h0M1213.6 378.4h0M1217.9 378.4h0M1221.9 379h0M1199 379.1h0M1227.2 379.3h0M1240.3 379.4h0M1203.4 379.9h0M1210 380.1h0M1232.7 380.5h0M1211.9 380.7h0M1225.2 380.9h0M1208.4 381.2h0M1210 381.2h0M1202.7 381.5h0M1214.8 381.8h0M1217.8 382.3h0M1214.9 382.5h0M1232.9 383h0M1232.7 383.1h0M1228.1 383.2h0M1239 383.2h0M1240 383.3h0M1220.5 383.4h0M1203.2 383.8h0M1201.4 384h0M1233.4 384.1h0M1207.8 384.1h0M1201.4 384.3h0M1227.8 384.5h0M1203.8 384.8h0M1219.8 385.2h0M1218.6 385.6h0M1205.7 385.9h0M1238.1 386.4h0M1225.2 386.4h0M1224.1 386.4h0M1239.5 386.6h0M1211.6 386.8h0M1221.7 387.9h0M1238.4 387.9h0M1241.3 388.2h0M1212.9 388.7h0M1204.3 388.7h0M1203 388.9h0M1226.9 389.1h0M1231.9 389.2h0M1231.2 389.7h0M1238.9 390h0M1205.8 390.2h0M1241.3 390.3h0M1233.4 390.6h0M1220.2 390.7h0M1212.7 390.7h0M1203 390.9h0M1214 391.2h0M1240.2 391.3h0M1213.7 392h0M1243.4 392.9h0M1222.6 393h0M1236.8 393.1h0M1234.1 393.7h0M1208 393.8h0M1212.2 393.9h0M1230.9 394.2h0M1228.2 394.3h0M1206.8 394.8h0M1243.1 395.2h0M1222.4 395.2h0M1214.5 395.7h0M1206.7 396.2h0M1217.1 396.3h0M1239.2 396.7h0M1243.7 396.8h0M1213.7 397.1h0M1231.7 397.2h0M1244.7 397.5h0M1218 397.7h0M1242.4 397.8h0M1218.1 398.9h0M1235.5 399.5h0M1241.6 399.7h0M1209 399.8h0M1208.1 399.8h0M1238.1 400h0M1245.7 400.2h0M1222.9 400.3h0M1214.9 400.5h0M1226.2 400.7h0M1220 401h0M1247.9 401.5h0M1233.1 401.9h0M1217.5 402.3h0M1241.8 402.5h0M1244.9 402.7h0M1237.5 402.8h0M1207.8 403h0M1229.2 403.4h0M1250.4 404.5h0M1245.1 404.5h0M1247.1 404.9h0M1222.7 404.9h0M1237.3 405h0M1236.9 405.2h0M1211.2 405.7h0M1228.8 406.1h0M1248 406.3h0M1226.6 406.7h0M1243 406.8h0M1234.9 407.1h0M1210.3 407.6h0M1220.5 407.6h0M1215.2 408.1h0M1233 408.6h0M1247.7 409.2h0M1227.9 409.7h0M1216.7 409.7h0M1244.9 409.7h0M1249.6 409.9h0M1241.3 409.9h0M1220.3 410.2h0M1214.5 410.5h0M1221.8 410.7h0M1240.5 410.8h0M1212.1 411h0M1212.3 411.2h0M1242 411.6h0M1247.2 412h0M1210.2 412.1h0M1253.5 412.2h0M1250.5 412.3h0M1237.6 412.6h0M1231 412.6h0M1220.6 412.9h0M1218.9 413.2h0M1242.2 413.6h0M1246 414h0M1212.6 414h0M1220.2 414.3h0M1253.5 414.4h0M1250.7 414.6h0M1237.4 414.7h0M1249.7 414.9h0M1215.2 415.5h0M1226.9 415.6h0M1213.2 415.7h0M1226 415.8h0M1244.4 416h0M1232.5 416.2h0M1255.2 416.2h0M1250.4 416.6h0M1254.4 416.7h0M1228.9 416.8h0M1223.9 416.9h0M1247.7 417.4h0M1227.6 418.9h0M1255.3 419h0M1242.6 419.2h0M1217 419.4h0M1223.5 419.8h0M1234.7 420.1h0M1239.6 420.2h0M1231.9 420.4h0M1217.9 420.5h0M1249.3 421.2h0M1254.9 421.3h0M1254.6 421.5h0M1249.7 421.7h0M1245 422.3h0M1224.6 422.4h0M1221.6 422.6h0M1220.2 423.7h0M1245 424h0M1246.8 424.1h0M1255.5 424.2h0M1236.1 425.1h0M1241.3 425.2h0M1238.7 425.4h0M1242.8 425.4h0M1228.3 425.4h0M1221.7 425.5h0M1260.1 425.6h0M1251.2 426.2h0M1258.2 426.4h0M1233.9 426.4h0M1258.9 426.5h0M1240.8 426.6h0M1250.6 426.7h0M1258.5 427.1h0M1224.6 427.8h0M1219.3 428.8h0M1252 428.8h0M1247.8 429h0M1224.3 429.1h0M1260.4 429.2h0M1228.6 429.4h0M1251.1 429.7h0M1249.3 430.2h0M1229.4 430.4h0M1248.1 430.4h0M1231.6 430.9h0M1240.5 431h0M1257.9 431.1h0M1260.4 431.1h0M1263.1 431.2h0M1238.8 431.2h0M1242.3 431.7h0M1250.7 431.9h0M1247.9 432h0M1229.4 432.1h0M1236.4 432.2h0M1227.7 432.4h0M1223.5 432.5h0M1239.5 433h0M1230 433.5h0M1260.1 433.9h0M1227.9 433.9h0M1224.7 433.9h0M1260.9 434h0M1253.3 434h0M1239.8 434h0M1243.6 434.2h0M1236.1 435.3h0M1251.3 435.6h0M1240.7 436.1h0M1260.2 436.2h0M1250.5 436.2h0M1251 436.3h0M1261.8 436.4h0M1265.5 436.6h0M1255.5 436.7h0M1238.2 436.9h0M1241.1 437.2h0M1229.6 437.7h0M1254.6 438.6h0M1235.5 438.7h0M1250.4 438.7h0M1239.2 438.8h0M1225.2 438.9h0M1262.6 439.2h0M1245.6 439.4h0M1226.1 440h0M1253.6 440.1h0M1255.5 440.3h0M1240.7 440.4h0M1263.9 440.7h0M1263.6 441.1h0M1256.5 441.3h0M1265.5 441.7h0M1241.4 441.9h0M1231.8 441.9h0M1241.2 441.9h0M1230.2 442h0M1258.5 442.6h0M1226.4 443h0M1234.3 443.6h0M1249.7 443.9h0M1267.7 444.1h0M1249.7 444.6h0M1230.9 444.7h0M1228.6 444.8h0M1242.3 444.9h0M1267.3 445.5h0M1254 445.5h0M1237.3 445.7h0M1247.4 445.8h0M1233 446.1h0M1268.2 446.4h0M1261.8 447h0M1255.8 447.4h0M1229.6 447.5h0M1235 447.7h0M1232.7 448.6h0M1244.7 448.9h0M1270.8 449.1h0M1251.8 449.1h0M1229.1 449.2h0M1238.7 449.6h0M1247.5 449.9h0M1253.5 450.1h0M1263.1 450.2h0M1246.2 450.2h0M1251.1 450.5h0M1245.1 450.6h0M1240.5 451.1h0M1244 452h0M1232.8 452.1h0M1268 452.2h0M1258 452.6h0M1260.2 452.9h0M1240.3 453.2h0M1229.7 453.7h0M1271.3 453.8h0M1274 454h0M1232.8 454.1h0M1239.4 454.2h0M1261.5 454.6h0M1254.4 454.7h0M1262.7 455.4h0M1243.1 455.8h0M1242.7 456h0M1272 456.2h0M1238.7 456.2h0M1275.1 456.3h0M1249.5 456.6h0M1231.5 457.1h0M1257.2 457.1h0M1268.9 457.3h0M1249.1 458h0M1238 458.7h0M1248.3 458.8h0M1262.5 458.9h0M1239.6 459h0M1231.8 459.1h0M1251.9 460.5h0M1244.6 460.7h0M1276 460.8h0M1265.7 460.8h0M1270.4 461h0M1237.9 461.1h0M1254.5 461.1h0M1275.2 461.2h0M1269.9 462.6h0M1235.8 463.1h0M1238.3 463.1h0M1253.6 463.4h0M1244.4 463.5h0M1258.8 463.7h0M1249.3 463.7h0M1241.7 463.9h0M1235.8 464.2h0M1274.2 464.5h0M1252.8 464.6h0M1275.9 465h0M1244 465.2h0M1266.1 465.4h0M1259.7 465.6h0M1261.7 465.8h0M1277.5 465.9h0M1252.2 466.1h0M1272.9 466.1h0M1253.2 466.3h0M1244.4 466.5h0M1237.9 466.8h0M1274.7 466.8h0M1270.2 467.6h0M1256.2 467.7h0M1237 467.8h0M1246 468.4h0M1245.1 468.7h0M1278.2 469h0M1265.6 469h0M1269.1 469.1h0M1255.2 469.6h0M1280.6 469.7h0M1276.7 469.7h0M1249.8 469.9h0M1273.4 469.9h0M1276.6 470h0M1261.9 470.4h0M1243.2 470.9h0M1259.2 471.1h0M1253.5 471.4h0M1238.6 472.4h0M1255.4 473.1h0M1276.8 473.4h0M1260.6 473.5h0M1270.6 473.7h0M1250 473.7h0M1245 473.8h0M1279.9 473.9h0M1268.4 474.1h0M1275.4 474.5h0M1281.9 474.5h0M1283 474.6h0M1282.2 475h0M1283.4 475.4h0M1250.4 475.9h0M1264.9 476h0M1242.9 476h0M1254.7 476.1h0M1247.1 476.3h0M1240.5 476.6h0M1242.7 477.1h0M1240 477.2h0M1246.3 478h0M1258.7 478.2h0M1280 478.6h0M1271 478.6h0M1246.9 478.7h0M1248.2 478.8h0M1272.2 478.8h0M1257.1 479.2h0M1277.1 479.5h0M1281.6 479.6h0M1254.9 479.8h0M1282.6 479.9h0M1263.4 480.3h0M1245.7 480.7h0M1258.8 480.9h0M1241.9 481.4h0M1261.7 481.4h0M1265.3 481.6h0M1242.8 482.1h0M1257.7 482.7h0M1267.4 483.1h0M1264.6 483.1h0M1243.2 483.4h0M1269 483.7h0M1282.3 484h0M1250.1 484h0M1245.3 484.2h0M1259.7 484.4h0M1278.7 484.4h0M1273.6 484.5h0M1285.6 484.6h0M1245.8 484.6h0M1286.2 484.7h0M1269.9 485.4h0M1253.4 485.5h0M1280.3 485.7h0M1283.8 485.7h0M1244.8 486.6h0M1279.3 486.7h0M1250.1 486.7h0M1244.1 487.2h0M1249.7 487.6h0M1255.9 487.9h0M1263.5 488h0M1244.8 488.2h0M1287.2 488.4h0M1277.7 488.4h0M1284.2 488.6h0M1279.9 489.3h0M1257.1 489.5h0M1286.7 489.6h0M1281.9 489.7h0M1251.4 490.2h0M1271.1 490.6h0M1270.5 490.6h0M1266 490.9h0M1248.1 491.2h0M1270.6 491.3h0M1247.6 491.4h0M1270 491.8h0M1256.9 491.9h0M1246.5 491.9h0M1247.2 492.1h0M1260 492.6h0M1282.8 492.8h0M1253.9 493.1h0M1283.8 493.3h0M1277.2 493.5h0M1287.8 493.7h0M1281.8 493.9h0M1264.8 494.3h0M1268.4 494.6h0M1278 494.9h0M1265.8 495h0M1263.1 495.1h0M1274 495.2h0M1286.4 495.4h0M1264.6 495.5h0M1248.1 495.6h0M1250.3 495.8h0M1274.5 496.5h0M1248.8 496.6h0M1251.8 496.7h0M1280.2 496.9h0M1260.2 496.9h0M1254.2 497.9h0M1248.7 498h0M1285.4 498h0M1287.6 498.4h0M1283.2 498.4h0M1268.8 498.5h0M1275.8 498.6h0M1272.7 498.8h0M1285.2 498.9h0M1266.7 500.1h0M1283.6 500.2h0M1258.2 500.4h0M1274.8 501.6h0M1279.1 501.9h0M1262 501.9h0M1258 502.6h0M1287.5 502.6h0M1251.6 502.9h0M1261.9 502.9h0M1260.1 502.9h0M1282.6 503h0M1271.5 503.6h0M1267.1 503.9h0M1278.4 504.6h0M1268.4 504.8h0M1250.3 505.8h0M1278.7 506.1h0M1285.3 506.6h0M1272.4 506.8h0M1258.1 507.4h0M1253.6 507.4h0M1263.1 507.4h0M1288.6 507.6h0M1277.4 508.5h0M1284.7 508.5h0M1265.1 508.6h0M1277.9 509.4h0M1288.5 509.6h0M1271.8 509.6h0M1268.4 509.9h0M1263 510h0M1252.3 510.9h0M1278.8 511.1h0M1263.9 511.5h0M1290.6 512h0M1255.8 512.5h0M1256.7 512.7h0M1273.7 512.7h0M1288.2 512.8h0M1284.4 513.8h0M1282.7 513.8h0M1287.2 513.9h0M1288 514.1h0M1270.4 514.6h0M1262.4 515h0M1276.3 515.3h0M1275.5 515.5h0M1272.1 515.7h0M1254.4 515.8h0M1265 516.9h0M1290.2 517.1h0M1258.3 517.3h0M1254.7 517.5h0M1290.4 517.9h0M1286.3 518.4h0M1290.9 518.9h0M1282.9 519h0M1273.4 519.1h0M1280.4 519.2h0M1268.5 519.9h0M1272.4 520h0M1283.2 520.1h0M1293.3 520.2h0M1261 520.2h0M1258 520.8h0M1274.9 520.9h0M1274 521.7h0M1265.1 521.7h0M1258.1 522h0M1280.8 522.2h0M1291.3 522.3h0M1277.6 522.6h0M1293.6 522.9h0M1282 523.2h0M1287.1 524h0M1279.1 524.3h0M1268.5 524.6h0M1276.2 524.7h0M1269.2 524.8h0M1263 525.1h0M1272.7 526.1h0M1288.7 526.2h0M1268.5 526.2h0M1264.9 526.7h0M1290.3 526.8h0M1260.4 526.9h0M1261.9 527.1h0M1293.9 527.7h0M1285 527.8h0M1294.5 528.2h0M1289.4 528.3h0M1294.8 529.1h0M1276.6 529.1h0M1282.6 529.3h0M1268.4 529.4h0M1272.8 529.6h0M1262 530.3h0M1294.4 530.5h0M1263 530.7h0M1261.1 531.3h0M1280.6 531.7h0M1260.6 531.9h0M1273.4 532.2h0M1274.5 532.5h0M1273.8 532.6h0M1295.1 532.8h0M1291.6 533.1h0M1287.1 533.2h0M1290.9 533.5h0M1284.6 533.7h0M1295.4 534.1h0M1268.4 534.2h0M1280.3 534.5h0M1264.5 535.3h0M1268.9 535.5h0M1273.4 536.2h0M1297.7 537.1h0M1264 537.1h0M1284.3 538.2h0M1297.4 538.4h0M1277.9 538.4h0M1288.5 538.6h0M1278.6 539.1h0M1295 539.2h0M1270.4 539.3h0M1297.2 539.8h0M1263.6 539.9h0M1286.3 540.1h0M1295.4 540.4h0M1267 540.4h0M1275.7 541.2h0M1264.1 541.4h0M1281 541.8h0M1265.4 542.1h0M1294.7 542.3h0M1298 542.4h0M1292.6 542.9h0M1288.2 543.5h0M1280.1 543.6h0M1276.8 544h0M1265.4 544.4h0M1266.6 544.6h0M1290.4 544.9h0M1284.1 546h0M1270 546.1h0M1273.7 546.3h0M1298.6 546.4h0M1278.1 546.4h0M1267.1 546.6h0M1266.7 546.8h0M1278 546.8h0M1269.8 546.9h0M1302 547.1h0M1295.3 547.2h0M1298.8 547.4h0M1287.3 547.7h0M1294.3 547.9h0M1272 548.6h0M1286.6 548.8h0M1285.7 549.1h0M1298.7 549.2h0M1266.2 549.5h0M1294.5 549.7h0M1272.8 549.7h0M1286 550.4h0M1267.5 550.7h0M1268.5 550.8h0M1278.9 551h0M1302 551.5h0M1267.5 551.5h0M1288.6 551.6h0M1302.4 552h0M1302 552.8h0M1272.1 553.3h0M1277.5 553.4h0M1286.2 553.5h0M1304.2 553.6h0M1286.9 553.8h0M1284.2 554h0M1298 554.3h0M1266 554.3h0M1274.5 554.8h0M1291.6 554.8h0M1282.2 555.7h0M1274.3 555.9h0M1299.6 556.7h0M1267.8 556.7h0M1304.3 558h0M1305.1 558.2h0M1282 558.4h0M1280.2 558.5h0M1274 558.9h0M1265.6 559.1h0M1293.8 559.2h0M1297 559.2h0M1281.7 559.3h0M1286.5 559.3h0M1275.5 559.4h0M1273 561h0M1303.4 561.2h0M1269 561.5h0M1267.8 561.6h0M1289 561.6h0M1307 562.1h0M1295 562.5h0M1296.2 563h0M1284.1 563.2h0M1307.5 563.2h0M1286.9 563.2h0M1278.9 563.4h0M1302.3 563.6h0M1269.6 563.6h0M1296.3 563.7h0M1287.8 563.8h0M1297.4 563.9h0M1273.7 564h0M1276.7 564.4h0M1273.3 565.2h0M1292.1 565.4h0M1305.7 566.2h0M1306.1 566.2h0M1282.1 566.3h0M1269.6 566.5h0M1308.1 566.8h0M1295.2 566.9h0M1281.1 567.2h0M1306.8 567.4h0M1302.6 567.4h0M1280.2 567.6h0M1295 568.2h0M1289.2 568.2h0M1269.2 568.4h0M1286 568.4h0M1300.9 568.4h0M1287 569h0M1273 569.7h0M1306.6 571.4h0M1301.1 571.6h0M1275 571.8h0M1297.9 572h0M1277.4 572.2h0M1309.6 572.2h0M1273.1 572.6h0M1307.8 572.7h0M1282.4 573.1h0M1274.7 573.1h0M1284.2 573.1h0M1293.6 573.2h0M1276.9 573.5h0M1293.9 573.5h0M1297.8 573.9h0M1290.4 574.2h0M1284.6 574.5h0M1305.5 575.9h0M1274.7 575.9h0M1310 576h0M1274 576.2h0M1308.8 576.3h0M1310.3 576.6h0M1286.8 576.9h0M1276 577.1h0M1278.6 578h0M1300.6 578h0M1302.6 578.7h0M1304.2 578.7h0M1282 578.8h0M1292.9 578.8h0M1306 579h0M1297.3 579.1h0M1285.4 579.4h0M1291.8 579.5h0M1308 580.3h0M1276.5 580.5h0M1313 580.6h0M1312.1 581.3h0M1289.2 581.5h0M1307.2 582.2h0M1287.7 582.7h0M1278.9 582.7h0M1286.7 582.7h0M1299.8 582.8h0M1283.4 583.3h0M1298.4 583.4h0M1284.8 583.6h0M1280.4 584.1h0M1292.2 584.2h0M1308.4 584.5h0M1302.1 584.7h0M1298.1 585.2h0M1314.5 586.4h0M1308.5 586.4h0M1286.6 586.9h0M1290 586.9h0M1312.5 587.1h0M1287.4 587.3h0M1313.3 587.5h0M1304.4 587.7h0M1294 587.8h0M1291.3 587.9h0M1296.3 588h0M1276.7 588.2h0M1300 588.3h0M1304.2 588.5h0M1301.8 588.5h0M1284.8 588.6h0M1276.6 588.9h0M1282.2 589.7h0M1314.4 590.1h0M1310.7 590.6h0M1288.6 590.9h0M1295 590.9h0M1304.4 591.5h0M1313.9 592.1h0M1315.3 592.4h0M1291.1 592.4h0M1279.2 592.8h0M1308 592.9h0M1295.1 593h0M1280.5 593.5h0M1296.8 593.8h0M1285.2 593.9h0M1316.7 594.5h0M1300.4 595.4h0M1281.9 595.6h0M1288.6 596h0M1315.4 596.2h0M1304.7 596.3h0M1318 596.4h0M1307.5 596.6h0M1293.6 596.6h0M1307.6 597.7h0M1279.3 597.9h0M1312.6 598.1h0M1313.3 598.1h0M1300.4 598.2h0M1317.2 599.6h0M1306.7 599.9h0M1318.7 600.3h0M1287.2 600.4h0M1289 600.7h0M1295.7 600.7h0M1283.4 600.9h0M1319.4 601.2h0M1317.5 601.3h0M1306.3 601.3h0M1297.9 601.5h0M1282.3 601.8h0M1283.2 602.1h0M1311.8 602.2h0M1303.4 602.7h0M1302.6 602.8h0M1315.9 603h0M1308 603.2h0M1309.4 603.3h0M1294.8 603.5h0M1283 603.8h0M1293.3 604h0M1294.1 604h0M1287.9 604h0M1320 604.8h0M1319.7 604.9h0M1316.3 605h0M1305.5 605.4h0M1322.2 606.4h0M1319.6 606.5h0M1299.3 606.8h0M1284.8 606.9h0M1281.5 607.1h0M1289.6 607.3h0M1299.3 607.8h0M1283.7 608h0M1312 608.3h0M1292.5 608.6h0M1296.2 608.8h0M1284.6 609h0M1293.6 609.1h0M1290.3 609.1h0M1311.6 609.3h0M1321.8 609.7h0M1314.1 609.7h0M1307.7 609.9h0M1319.5 610h0M1292.7 610.4h0M1303.3 610.5h0M1323.5 610.8h0M1284.2 610.9h0M1297.1 611h0M1311.2 611.1h0M1320.7 611.1h0M1306.7 611.3h0M1297 611.5h0M1298.9 611.5h0M1302.7 612.4h0M1284.6 612.4h0M1317.6 612.5h0M1300.1 612.6h0M1319.4 612.7h0M1297.2 613.1h0M1296 613.5h0M1283.1 613.8h0M1321.3 614h0M1324.5 614.2h0M1309 614.4h0M1310.9 614.8h0M1290 614.8h0M1317.9 615.9h0M1286.2 615.9h0M1323.6 616.2h0M1297.3 616.6h0M1311.9 616.9h0M1284.8 617.4h0M1287.6 617.5h0M1306.7 617.7h0M1311 617.8h0M1304.4 617.9h0M1302.6 618h0M1321.6 618.6h0M1306.2 618.7h0M1301.3 618.7h0M1293.4 619h0M1319.5 619.2h0M1314.2 619.3h0M1318 619.6h0M1288.7 620h0M1324.1 620.1h0M1290.8 620.2h0M1322.1 620.9h0M1286.8 621.2h0M1323.3 621.2h0M1324.6 621.4h0M1298.1 621.8h0M1303.1 622h0M1307.4 622.6h0M1284.1 622.7h0M1290.2 622.9h0M1310.1 622.9h0M1303.2 623.3h0M1326.1 623.4h0M1323.7 623.5h0M1311.7 623.6h0M1317.3 624.3h0M1284.7 624.8h0M1326.4 625.3h0M1294.2 625.4h0M1288.1 625.7h0M1288 625.9h0M1323.4 626h0M1325 626h0M1310.4 626.6h0M1292.5 626.6h0M1319.7 626.8h0M1316.8 627.1h0M1289 627.2h0M1300.6 627.3h0M1321.4 627.6h0M1312.5 627.8h0M1306.6 628h0M1301.6 628.1h0M1315.7 628.1h0M1323.6 628.4h0M1288 628.4h0M1323.3 629.4h0M1295.1 629.4h0M1289.5 629.9h0M1316.6 630.1h0M1306.8 630.1h0M1326.4 630.2h0M1305.5 630.3h0M1326.9 630.8h0M1323.1 630.9h0M1289.4 631h0M1305 631.1h0M1324.9 631.2h0M1303.7 631.6h0M1315.2 631.8h0M1292.9 631.9h0M1298.8 632.3h0M1298.5 632.6h0M1325.7 632.7h0M1318.5 632.8h0M1308 633h0M1287.8 633.1h0M1315.2 634.1h0M1305.2 634.1h0M1293.7 634.6h0M1323.2 635.2h0M1304.6 635.2h0M1325.1 635.5h0M1317.5 635.6h0M1326.4 635.6h0M1310.1 635.8h0M1303.3 635.9h0M1290.2 636h0M1300.5 636.2h0M1313.6 636.4h0M1293.1 636.8h0M1290.4 637h0M1299.9 637.5h0M1310.5 637.8h0M1314.5 637.8h0M1292.8 638.9h0M1308.9 639.1h0M1293.5 639.2h0M1300.3 640.1h0M1317.9 640.5h0M1326.6 640.7h0M1327.8 640.8h0M1296.9 640.9h0M1320.5 641h0M1308.7 641.3h0M1306.7 641.4h0M1315.1 641.6h0M1299.9 642.2h0M1313.3 642.2h0M1292.7 642.4h0M1291.2 642.6h0M1298.1 643.3h0M1327.3 643.6h0M1304.2 643.8h0M1315.4 644.2h0M1329.2 644.8h0M1321.8 645.2h0M1317.7 645.4h0M1297.9 645.6h0M1290.9 646.2h0M1321.1 646.2h0M1293.3 646.3h0M1304 646.5h0M1311.9 646.6h0M1293.2 646.8h0M1300.8 646.9h0M1310.4 647.6h0M1295.7 647.9h0M1324.6 648.4h0M1330.5 648.4h0M1308.4 648.5h0M1325.6 649.5h0M1298.2 650h0M1294 650.8h0M1319.1 650.9h0M1307.7 650.9h0M1314.5 651.1h0M1330.7 652h0M1294.6 652.1h0M1314.8 652.6h0M1318.9 652.7h0M1292.9 652.8h0M1294.1 653h0M1303.2 653.3h0M1327.3 653.4h0M1296.1 654.1h0M1309.4 654.1h0M1298.2 654.6h0M1331.5 654.8h0M1321.3 654.8h0M1328.6 655h0M1307.1 655h0M1325.8 655.4h0M1302.7 655.4h0M1329.7 655.5h0M1298.3 655.6h0M1310.4 656.5h0M1296.5 656.8h0M1316.8 657.1h0M1304.1 658h0M1306.7 658h0M1324.4 658.2h0M1314.3 658.4h0M1297.1 658.8h0M1302.1 658.8h0M1331.5 659.6h0M1323.7 660h0M1333.4 660.3h0M1297.2 660.5h0M1314.7 660.7h0M1310.5 661.2h0M1304.3 661.5h0M1304.8 661.6h0M1326 661.7h0M1319.9 661.8h0M1298 661.9h0M1294.7 661.9h0M1317.4 662.1h0M1308.7 662.5h0M1311.9 663.1h0M1296.6 663.1h0M1311.3 663.3h0M1320.1 663.3h0M1299.2 663.7h0M1331 663.7h0M1301.8 664h0M1332.5 664.6h0M1331.3 664.9h0M1313.7 665.1h0M1325.4 665.4h0M1296.6 665.7h0M1329.8 665.8h0M1313.6 666.3h0M1309.8 666.5h0M1297.2 666.8h0M1320.4 666.8h0M1306.6 667.7h0M1308.8 668.1h0M1322 668.2h0M1332.5 668.4h0M1298.6 668.5h0M1333 668.8h0M1330 670h0M1331.4 670.1h0M1315.2 670.2h0M1302 670.3h0M1312.7 670.4h0M1335.2 670.8h0M1300.6 670.9h0M1324.1 671.3h0M1320.4 671.3h0M1299.3 671.7h0M1332.7 671.9h0M1318.8 672.8h0M1305 672.9h0M1309.7 673h0M1300.4 673.1h0M1311.7 673.3h0M1313.7 673.4h0M1329.4 673.4h0M1316.6 673.5h0M1335.8 674.5h0M1336.4 674.6h0M1317.5 676h0M1300.6 676.8h0M1322.7 676.9h0M1328.5 677h0M1299.9 677.3h0M1308.8 677.6h0M1301.4 677.9h0M1302.4 678.3h0M1326.9 678.9h0M1310.8 679h0M1336.3 679h0M1333.3 679.1h0M1334.4 679.4h0M1336.5 679.7h0M1335.5 680.1h0M1311.6 680.2h0M1304.1 680.3h0M1316.5 680.3h0M1301.7 680.6h0M1321.9 680.7h0M1333.3 680.9h0M1337 681.7h0M1335.5 681.8h0M1301.9 682.2h0M1327.1 682.2h0M1308 682.7h0M1319.6 682.8h0M1337.2 683.1h0M1319.4 683.3h0M1332.3 683.7h0M1336.4 684.2h0M1318 685h0M1318.4 685.1h0M1325.1 685.2h0M1314.2 685.3h0M1305.7 685.5h0M1315.2 685.8h0M1307.4 686.1h0M1303.4 686.8h0M1332.4 687h0M1316.3 687h0M1327.2 687.8h0M1317.1 687.8h0M1312.8 687.9h0M1338.2 688.2h0M1305.7 688.3h0M1306.3 688.6h0M1339.2 688.8h0M1309.7 689.2h0M1305 689.4h0M1337.5 689.6h0M1318.6 689.8h0M1338.8 689.8h0M1324.2 690h0M1320.4 690.1h0M1304.4 690.1h0M1327.3 690.6h0M1314.2 691.1h0M1327.8 691.5h0M1334.6 691.7h0M1315.3 692.2h0M1321.1 692.5h0M1315.7 692.5h0M1309.7 693.7h0M1338.5 694h0M1334.5 694.3h0M1303.9 694.4h0M1306.4 694.7h0M1338.9 694.7h0M1337.6 694.9h0M1320.5 695.1h0M1329.8 695.8h0M1324.9 696.2h0M1325.7 696.6h0M1323.1 697.2h0M1310.6 697.4h0M1314.8 698h0M1319.4 698h0M1338.9 698h0M1305.8 698.3h0M1333.7 698.7h0M1339.4 699.2h0M1338.5 699.5h0M1308.5 699.5h0M1316.9 699.6h0M1332.1 700.4h0M1326 701.1h0M1328.9 701.6h0M1321.8 701.9h0M1333.6 702.1h0M1341.2 703h0M1313.9 703.1h0M1309.3 703.6h0M1305.2 703.6h0M1341.6 704.2h0M1338.9 704.5h0M1308.6 704.7h0M1306.4 704.7h0M1338.4 704.9h0M1315.8 705.5h0M1331.4 706.3h0M1319.7 706.5h0M1324.2 706.8h0M1326.4 707.6h0M1311.7 707.8h0M1316.3 707.9h0M1335.7 708.9h0M1342.6 709.2h0M1341.8 709.2h0M1327.3 709.6h0M1307.7 709.7h0M1323.1 709.9h0M1320.5 710h0M1308.3 710.1h0M1340.9 711.3h0M1311.4 711.4h0M1325.8 712.4h0M1335 712.9h0M1316.5 713h0M1328.8 713.1h0M1332.2 713.2h0M1309.6 713.6h0M1341.2 713.6h0M1339.2 713.7h0M1343.5 713.8h0M1311.4 713.9h0M1309.7 714.4h0M1313.2 714.5h0M1324.9 714.8h0M1321.2 715.1h0M1328.1 716h0M1312.4 716.7h0M1314.3 716.7h0M1316.3 716.9h0M1340.5 717.1h0M1344.2 717.3h0M1320.1 717.8h0M1342.7 718.2h0M1344.3 718.3h0M1341.3 718.6h0M1336.1 719h0M1333.8 719.1h0M1311.2 719.1h0M1325.6 719.1h0M1327 719.5h0M1317.2 719.6h0M1330.7 720.2h0M1318.8 720.5h0M1314.5 720.9h0M1312.6 721.7h0M1330.9 721.8h0M1323.9 722.1h0M1337.6 722.5h0M1346.2 722.6h0M1343.4 722.8h0M1313 723.6h0M1335.1 723.6h0M1330.5 723.8h0M1342.3 723.9h0M1315.7 724h0M1313.2 724.3h0M1328.6 724.7h0M1326.2 724.7h0M1317.1 724.9h0M1329.4 725h0M1321.6 725.2h0M1339 726.1h0M1314.9 726.3h0M1327.7 726.5h0M1331.1 726.6h0M1319.1 726.8h0M1346.4 727.6h0M1345.7 727.6h0M1327.2 728h0M1314.3 728.2h0M1339.9 728.4h0M1347 728.5h0M1316.6 728.5h0M1341 728.6h0M1334.1 729h0M1347.5 729.7h0M1322.3 730h0M1333.8 730.4h0M1328.7 730.5h0M1339.9 731.3h0M1322.8 731.3h0M1314.9 731.4h0M1314.2 731.5h0M1332.4 731.6h0M1342.5 732.4h0M1345.1 732.5h0M1336.9 732.9h0M1338.7 733.2h0M1347.2 733.2h0M1328.7 733.3h0M1344 733.5h0M1315.7 734.1h0M1316.7 734.3h0M1330.9 734.3h0M1329.7 734.6h0M1319.8 734.6h0M1321.2 734.8h0M1312.9 735.1h0M1346.3 736.5h0M1331.6 736.7h0M1322.9 736.8h0M1345.1 737.2h0M1337.3 737.7h0M1324.9 737.8h0M1350.4 738h0M1346.1 738h0M1344 738.1h0M1348.6 738.3h0M1316.2 738.7h0M1315.8 739.2h0M1315.2 739.2h0M1331.2 739.3h0M1332 739.3h0M1321.5 739.4h0M1325.2 739.5h0M1338.1 739.8h0M1317.4 739.9h0M1319.6 741h0M1336.8 741.1h0M1348 741.3h0M1342.1 741.9h0M1346.8 742.2h0M1349.3 742.3h0M1345.1 742.3h0M1347.3 742.5h0M1350.2 742.7h0M1331.7 742.9h0M1330.3 742.9h0M1319.9 743.4h0M1336.3 744.3h0M1327.2 744.8h0M1323.9 745.1h0M1316.1 745.2h0M1338.1 745.8h0M1344 746.3h0M1339.9 746.9h0M1327.8 747.1h0M1346.7 747.2h0M1349.5 747.5h0M1348.8 747.8h0M1346.9 748h0M1347.3 748.4h0M1317.4 748.6h0M1342.8 748.9h0M1318.6 748.9h0M1330.8 748.9h0M1336.9 749.2h0M1318.4 749.3h0M1332 749.3h0M1343.1 749.6h0M1350.3 749.8h0M1341.8 750.1h0M1317.9 750.6h0M1321.7 750.8h0M1324.1 751.1h0M1338.1 751.8h0M1352.1 752.4h0M1329.3 752.9h0M1347.3 753.1h0M1319.2 753.7h0M1324.8 753.8h0M1344.7 754h0M1351.8 754.2h0M1319.9 754.3h0M1351.2 754.3h0M1336.7 754.6h0M1331.2 754.6h0M1334.2 754.8h0M1319 755h0M1333.7 755.5h0M1322.1 755.8h0M1337.3 756.5h0M1320.2 756.8h0M1338.6 757h0M1350.5 757.1h0M1352.6 757.4h0M1329 757.8h0M1347.1 757.8h0M1333.8 758.5h0M1336 758.6h0M1328.8 758.9h0M1344.5 758.9h0M1320 759.1h0M1350.1 759.5h0M1344.6 759.8h0M1325.7 760.1h0M1343.5 760.4h0M1347.9 761.4h0M1321.5 762h0M1354.8 762.4h0M1332.3 762.8h0M1344.5 763h0M1348.9 763.2h0M1351.6 763.3h0M1339.9 763.6h0M1324.9 763.7h0M1340.6 763.9h0M1329.3 764.1h0M1323.2 764.4h0M1338.1 764.7h0M1322.3 764.8h0M1321.4 765.8h0M1344.4 766.2h0M1347.1 766.7h0M1349 767.3h0M1356.5 767.5h0M1351.9 767.5h0M1353.9 767.6h0M1334.7 768.4h0M1328.2 768.8h0M1330.3 769h0M1327.9 769.3h0M1322.5 769.4h0M1330.4 769.7h0M1342.2 769.7h0M1327.9 769.8h0M1339.5 770h0M1325.5 770h0M1344 770h0M1345.9 770.4h0M1353.8 771.5h0M1300.2 772.5h0M1355.6 772.7h0M1352.9 772.7h0M1344.6 772.8h0M1322.7 773h0M1332.2 773.3h0M1351.5 773.5h0M1328.2 774.3h0M1336.2 774.3h0M1325.4 774.5h0M1340.8 774.9h0M1342.5 775.1h0M1322.9 775.6h0M1348.7 776.2h0M1356.5 777.4h0M1341.3 777.5h0M1334.6 777.6h0M1355.2 777.7h0M1343.6 777.8h0M1325.5 778.2h0M1352.6 778.3h0M1334.5 778.5h0M1335.6 778.9h0M1338.9 779h0M1332.8 779h0M1323.5 779.2h0M1326.5 779.8h0M1328.3 780.6h0M1343 780.8h0M1340.1 780.8h0M1349.1 781.9h0M1355.8 782.4h0M1352.7 782.9h0M1340.4 783.1h0M1332.4 784h0M1324.3 784h0M1334.1 784.3h0M1341.8 785.2h0M1347 785.5h0M1328.3 785.8h0M1354.1 786.5h0M1351.5 786.7h0M1358.1 787h0M1325.6 787.2h0M1356.7 787.6h0M1335 787.8h0M1335.8 787.9h0M1331.1 787.9h0M1341.6 788h0M1329.6 788.5h0M1328.5 788.5h0M1335.3 789.3h0M1350.8 789.5h0M1344.9 789.5h0M1333.3 789.8h0M1329.5 789.9h0M1345.4 790.2h0M1325.1 790.4h0M1343.3 791.6h0M1333.7 792.6h0M1359.6 792.6h0M1358.4 792.8h0M1327.7 793.6h0M1328.2 793.8h0M1337.5 794h0M1354.6 794h0M1345.8 794.3h0M1336.3 794.3h0M1326.8 794.7h0M1326.5 795h0M1348.6 795.2h0M1343.4 796h0M1355.4 796.3h0M1359 796.4h0M1359.8 797.2h0M1358.7 797.4h0M1341.6 797.8h0M1353.9 798h0M1347.8 798.2h0M1344.7 798.4h0M1336.7 798.5h0M1331.4 798.8h0M1360.3 799h0M1333.6 799.3h0M1328.1 800h0M1347.3 800.1h0M1356.1 800.5h0M1328.4 800.8h0M1361.4 801.4h0M1339.4 801.5h0M1333.9 802h0M1357.1 802.3h0M1334.2 802.7h0M1343.8 803.1h0M1336.9 803.1h0M1351 803.5h0M1357.4 803.5h0M1332.7 804.4h0M1334.2 804.6h0M1329.7 804.7h0M1352.4 804.9h0M1330.4 805h0M1350 805.4h0M1354 805.6h0M1358.8 805.9h0M1346.6 806.2h0M1331.4 806.5h0M1359.8 806.7h0M1356.1 807.3h0M1341.2 807.4h0M1338.8 807.4h0M1353.5 807.5h0M1330.4 807.7h0M1351.3 808h0M1336.2 808.1h0M1341.1 808.3h0M1342.7 808.3h0M1360.5 808.3h0M1352.8 808.9h0M1349.5 809.3h0M1329.5 809.5h0M1340.4 809.9h0M1328.6 811.3h0M1356.9 811.9h0M1331.3 812.2h0M1358.8 812.3h0M1338.1 812.7h0M1336.4 812.8h0M1360.8 812.9h0M1348.6 813.2h0M1347.2 813.3h0M1332.8 813.5h0M1340.3 814.2h0M1362.4 815.3h0M1346.1 815.4h0M1352.1 816.1h0M1331.2 816.3h0M1337.8 816.9h0M1328.7 817.4h0M1358 817.5h0M1352.9 817.7h0M1348.6 818.3h0M1341.8 818.3h0M1343.4 818.7h0M1340.7 818.9h0M1332.9 819h0M1330.9 819h0M1331.4 819.1h0M1348.8 819.8h0M1337.8 820h0M1360.4 820h0M1330.4 820h0M1345.6 820.1h0M1355 820.2h0M1352 820.2h0M1349.9 820.3h0" stroke="#00ffff" stroke-width="7" stroke-linecap="round" fill="none"/>
<polyline points="1123.3,44 1125.8,92.9 1129,141.9 1146.4,190.8 1163.7,239.8 1183.7,288.7 1203.8,337.7 1223.8,386.6 1242.5,435.6 1262,484.5 1280.6,533.5 1295.6,582.4 1309.3,631.4 1320.5,680.3 1331.5,729.3 1342.6,778.2 1347.5,827.2" fill="none" stroke="#0000ff" stroke-width="3.0" stroke-linejoin="round"/>
<path d="M1123.3 44h0M1125.8 92.9h0M1129 141.9h0M1146.4 190.8h0M1163.7 239.8h0M1183.7 288.7h0M1203.8 337.7h0M1223.8 386.6h0M1242.5 435.6h0M1262 484.5h0M1280.6 533.5h0M1295.6 582.4h0M1309.3 631.4h0M1320.5 680.3h0M1331.5 729.3h0M1342.6 778.2h0M1347.5 827.2h0" stroke="#0000ff" stroke-width="11.6" stroke-linecap="round" fill="none"/>
<polyline points="1113,19.5 1113.1,29.3 1113.5,39.1 1114,48.9 1114.5,58.7 1115,68.4 1116.5,78.2 1118.5,92.9 1121.5,117.4 1127,141.9 1132.8,166.3 1139.2,190.8 1148.3,215.3 1158.3,239.8 1169.5,264.2 1184.7,313.2 1190.1,362.1 1193.3,411.1 1231,460 1263.8,509 1301,631.4 1330.5,753.7 1362.4,998.5" fill="none" stroke="#ff0000" stroke-width="8.5" stroke-linejoin="round"/>
<path d="M1113 19.5h0M1113.1 29.3h0M1113.5 39.1h0M1114 48.9h0M1114.5 58.7h0M1115 68.4h0M1116.5 78.2h0M1118.5 92.9h0M1121.5 117.4h0M1127 141.9h0M1132.8 166.3h0M1139.2 190.8h0M1148.3 215.3h0M1158.3 239.8h0M1169.5 264.2h0M1184.7 313.2h0M1190.1 362.1h0M1193.3 411.1h0M1231 460h0M1263.8 509h0M1301 631.4h0M1330.5 753.7h0M1362.4 998.5h0" stroke="#ff0000" stroke-width="11.6" stroke-linecap="round" fill="none"/>
<polyline points="1108,19.5 1110,29.3 1111,39.1 1111,48.9 1111,58.7 1111,68.4 1114,78.2 1120,92.9 1126.4,117.4 1137.3,141.9 1149.7,166.3 1159.2,190.8 1166.5,215.3 1170.5,239.8 1171.5,264.2 1183.7,313.2 1186.1,362.1 1186.5,411.1 1215.6,460 1241.4,509 1277.4,631.4 1314.7,753.7 1358.7,998.5" fill="none" stroke="#b87c12" stroke-width="3.2" stroke-linejoin="round"/>
<path d="M1108 19.5h0M1110 29.3h0M1111 39.1h0M1111 48.9h0M1111 58.7h0M1111 68.4h0M1114 78.2h0M1120 92.9h0M1126.4 117.4h0M1137.3 141.9h0M1149.7 166.3h0M1159.2 190.8h0M1166.5 215.3h0M1170.5 239.8h0M1171.5 264.2h0M1183.7 313.2h0M1186.1 362.1h0M1186.5 411.1h0M1215.6 460h0M1241.4 509h0M1277.4 631.4h0M1314.7 753.7h0M1358.7 998.5h0" stroke="#b87c12" stroke-width="12.8" stroke-linecap="round" fill="none"/>
<polyline points="1108,19.5 1110,29.3 1111,39.1 1111,48.9 1111,58.7 1111,68.4 1114,78.2 1120,92.9 1126.4,117.4 1137.3,141.9 1149.7,166.3 1159.2,190.8 1166.5,215.3 1170.5,239.8 1171.5,264.2 1183.7,313.2 1186.1,362.1 1186.5,411.1 1215.6,460 1241.4,509 1277.4,631.4 1314.7,753.7 1358.7,998.5" fill="none" stroke="#ffa500" stroke-width="2.2" stroke-linejoin="round"/>
<path d="M1108 19.5h0M1110 29.3h0M1111 39.1h0M1111 48.9h0M1111 58.7h0M1111 68.4h0M1114 78.2h0M1120 92.9h0M1126.4 117.4h0M1137.3 141.9h0M1149.7 166.3h0M1159.2 190.8h0M1166.5 215.3h0M1170.5 239.8h0M1171.5 264.2h0M1183.7 313.2h0M1186.1 362.1h0M1186.5 411.1h0M1215.6 460h0M1241.4 509h0M1277.4 631.4h0M1314.7 753.7h0M1358.7 998.5h0" stroke="#ffa500" stroke-width="11.6" stroke-linecap="round" fill="none"/>
<polyline points="1100.7,19.5 1101.4,29.3 1102.4,39.1 1102.6,48.9 1102.9,58.7 1103.9,68.4 1107.6,78.2 1112.6,92.9 1123.5,117.4 1131.9,141.9 1139.5,166.3 1148.6,190.8 1158.3,215.3 1167.4,239.8 1175.6,264.2 1189.6,313.2 1198.7,362.1 1210.1,411.1 1245.6,460 1267.5,509 1290.7,631.4 1318.4,753.7 1355.1,998.5" fill="none" stroke="#008000" stroke-width="3.0" stroke-linejoin="round"/>
<path d="M1100.7 19.5h0M1101.4 29.3h0M1102.4 39.1h0M1102.6 48.9h0M1102.9 58.7h0M1103.9 68.4h0M1107.6 78.2h0M1112.6 92.9h0M1123.5 117.4h0M1131.9 141.9h0M1139.5 166.3h0M1148.6 190.8h0M1158.3 215.3h0M1167.4 239.8h0M1175.6 264.2h0M1189.6 313.2h0M1198.7 362.1h0M1210.1 411.1h0M1245.6 460h0M1267.5 509h0M1290.7 631.4h0M1318.4 753.7h0M1355.1 998.5h0" stroke="#008000" stroke-width="11.6" stroke-linecap="round" fill="none"/>
<polyline points="1110.1,21.9 1110.2,27 1110.4,32.5 1110.8,38.2 1111.4,44.4 1112,51 1112.6,58.3 1113.2,66.3 1114.2,75.3 1115.1,85.4 1115.8,96.9 1116.4,110.1 1117.4,125.2 1118.2,142.9 1121.3,163.6 1129.5,188 1141.5,217 1156.2,251.4 1170.5,292.4 1189.6,341.6 1213.8,400.6 1239.8,471.3 1265.6,556.5 1288.7,659.3 1315.3,782.4 1341.6,930.5" fill="none" stroke="#ff00ff" stroke-width="3.0" stroke-linejoin="round"/>
<path d="M1110.1 21.9h0M1110.2 27h0M1110.4 32.5h0M1110.8 38.2h0M1111.4 44.4h0M1112 51h0M1112.6 58.3h0M1113.2 66.3h0M1114.2 75.3h0M1115.1 85.4h0M1115.8 96.9h0M1116.4 110.1h0M1117.4 125.2h0M1118.2 142.9h0M1121.3 163.6h0M1129.5 188h0M1141.5 217h0M1156.2 251.4h0M1170.5 292.4h0M1189.6 341.6h0M1213.8 400.6h0M1239.8 471.3h0M1265.6 556.5h0M1288.7 659.3h0M1315.3 782.4h0M1341.6 930.5h0" stroke="#ff00ff" stroke-width="11.6" stroke-linecap="round" fill="none"/>
</g>
<rect x="1072.5" y="19.5" width="402" height="795" fill="none" stroke="#000" stroke-width="1.33"/>
<path d="M1105.5 814.5v6.5M1209.5 814.5v6.5M1313.5 814.5v6.5M1417.5 814.5v6.5M1072.5 19.5h-6.5M1072.5 116.5h-6.5M1072.5 214.5h-6.5M1072.5 312.5h-6.5M1072.5 410.5h-6.5M1072.5 508.5h-6.5M1072.5 606.5h-6.5M1072.5 704.5h-6.5M1072.5 802.5h-6.5" stroke="#000" stroke-width="1.33" fill="none"/>
<text transform="translate(1104.5 850.6) rotate(-45)" font-size="17" text-anchor="middle" y="6.1">1022</text>
<text transform="translate(1208.5 850.6) rotate(-45)" font-size="17" text-anchor="middle" y="6.1">1024</text>
<text transform="translate(1312.5 850.6) rotate(-45)" font-size="17" text-anchor="middle" y="6.1">1026</text>
<text transform="translate(1416.5 850.6) rotate(-45)" font-size="17" text-anchor="middle" y="6.1">1028</text>
<text x="288.3" y="871.9" font-size="22.9" font-weight="bold" text-anchor="middle">Temperature (<tspan font-weight="normal" font-style="italic" font-size="15.9" dy="-8.3">o</tspan><tspan font-weight="normal" font-style="italic" dy="8.3">C</tspan>)</text>
<text x="780.9" y="870.7" font-size="22.4" font-weight="bold" text-anchor="middle">Salinity</text>
<text x="1272.9" y="895.7" font-size="22.7" font-weight="bold" text-anchor="middle">Density (kg m-3)</text>
<text transform="translate(30 418.3) rotate(-90)" font-size="22.5" font-weight="bold" text-anchor="middle">Depth (m)</text>
<text x="195.6" y="917.6" font-size="17.33" font-style="italic" xml:space="preserve">Ocean Heat Content (kJ/cm^2) - Glider: 108.2929,  RTOFS: 102.7519,  RTOFS (Parallel): 108.2496,  ESPC: 104.1744,  CMEMS: 111.5298,</text>
<text x="1524.6" y="36.6" font-size="22.57" font-weight="bold">Comparison Date: 2024-11-15</text>
<text x="1524.6" y="89.7" font-size="22.57" font-weight="bold">Glider: uvi_02</text>
<text x="1524.6" y="116.2" font-size="22.57" font-weight="bold">Profiles: 70</text>
<text x="1524.6" y="142.8" font-size="22.57" font-weight="bold">First: 2024-11-15 00:10:18</text>
<text x="1524.6" y="169.3" font-size="22.57" font-weight="bold">Last: 2024-11-15 22:31:27</text>
<text x="1524.6" y="195.9" font-size="22.57" font-weight="bold">Method: Nearest-Neighbor</text>
<rect x="1564.4" y="302.5" width="401.9" height="228.4" fill="#97b6e1"/>
<g clip-path="url(#cpm)">
<path d="M1617 333L1619.9 331.1L1622.3 330L1626.4 325.5L1628.9 323.3L1631 321.2L1632.6 320.4L1637.2 318.8L1638.7 315.9L1642.7 315.9L1647 315.3L1650.6 314L1653.9 315.1L1656.7 316.3L1661 316.3L1665.4 314.3L1669.4 315.2L1674 315.9L1677.1 316L1681 318.4L1686 320.5L1690.7 321.4L1694.4 325.5L1696.2 325.4L1700.7 326.1L1704.2 328.4L1705.8 330.9L1710.4 332.9L1714.1 334.2L1716.5 334.8L1720 337.3L1722.5 338.9L1725.2 340.2L1729.8 340L1730.9 342.3L1738.1 344.4L1738.8 343.8L1743.4 346.7L1745.4 349.5L1750.2 351.3L1752.9 353.9L1758.6 356.1L1755.6 357.8L1750.3 359.2L1748.2 359.5L1743.1 358.9L1742 358.3L1738.3 360.5L1734.5 360.6L1732.8 359L1729.6 359.3L1726.4 359.9L1722.8 359.2L1721 359.8L1716.5 360.7L1715 359.9L1709.8 360.4L1713 356.8L1716.7 353.9L1719.2 351.3L1715.8 349.2L1714.1 349.3L1710.6 348.7L1707.4 348.9L1704.2 346.8L1701.9 344.7L1700 339.5L1697.9 338.4L1693.2 337L1690.4 337L1687.2 335.9L1685.7 333.2L1680.6 334.5L1678.4 332.4L1674.6 330.6L1672 329.3L1670.5 329.4L1665.4 328.7L1661.4 328.3L1655.4 327.7L1654.8 324.4L1659.3 324.5L1656.7 323.6L1651.6 321.1L1648.7 321.8L1645.8 319.5L1642.6 323L1639 325.6L1634.8 328.5L1630.7 328.9L1628.7 330.9L1625.5 334L1622.1 332.5ZM1642.4 333.5L1644.4 331.6L1647.7 334.1L1648.4 337.5L1642.7 337.4L1641.6 337.1ZM1701.8 381L1708.2 379.8L1711.6 378.4L1713.8 378.1L1717.6 380.5L1719.6 381.1L1726.1 382.1L1728.6 386L1730.8 386.6L1727 388L1722.6 386.3L1719.1 390.5L1714.8 387.6L1708.1 386.4L1704.8 383ZM1767.3 359.9L1768.9 359.3L1773.4 359.7L1778.8 360L1782.5 362.4L1785.8 362.1L1789 361.2L1793.1 361.2L1794.6 360.3L1796.8 358.6L1800.6 361.1L1805 361.4L1811.6 362.8L1813.2 368.1L1818.8 367.7L1821.8 368L1820.6 369.1L1815.2 371.7L1817.7 371L1822.8 372.4L1825.3 372.9L1829.1 374L1831.6 376.8L1831.6 379.7L1828.6 382.4L1824.2 381.4L1820.6 380.2L1816.7 380.1L1814.9 378.3L1812.9 379.4L1806.9 382.1L1803.5 381.9L1798.6 382.8L1797.2 387.2L1793.6 391.5L1791.1 386.9L1789.6 386.6L1783.6 382.6L1782.1 381.8L1778.1 384.9L1774.1 383.8L1773 383.1L1769.1 383.7L1765 382.9L1760.7 385.8L1756.9 383.1L1752.6 380.9L1755.9 376.9L1757.7 376.8L1763.2 378.8L1764.8 376.8L1768.3 379.3L1772.5 379.7L1774.7 380.2L1776.3 379.7L1780.8 377.7L1779.6 376.1L1773.8 370.2L1776.2 366.1L1770.6 362.9L1768.4 363.9ZM1767.4 372.1L1772.4 374.5L1775.4 375.1L1773.9 376.1L1768 373.9ZM1846.4 381L1847.5 378.5L1851.6 379L1854.9 379L1857.5 379.6L1861.8 378.9L1865.3 380L1866.5 382.8L1864.2 386L1860.2 385.2L1856.7 387.1L1853.7 386.2L1850.7 385.7L1846 386.4ZM1557.5 341L1561.3 337.7L1565.2 339.8L1569.5 336.8L1573.2 337.4L1577.9 336.5L1582.5 337.5L1585.4 338.2L1591.1 337L1592.6 338.4L1593.7 342.4L1591.6 348.2L1589.7 351.1L1586.5 355.4L1586.6 356.5L1584.8 361.6L1583.2 363.1L1582.8 365.3L1583.9 368.1L1583.7 372.4L1582.7 375.3L1581.4 379.2L1577.1 378.9L1576.1 384.8L1574.6 387.9L1574.4 391.4L1573.9 394L1573.5 398.9L1574.3 401.5L1573.5 403.5L1572.8 407.8L1570.1 409.7L1567.1 412L1571 415.3L1572 415.6L1576.7 415.4L1578.3 414.7L1582.3 413.4L1586.7 415.1L1591 416L1594.6 416.3L1595.7 415L1598.9 414.5L1604.8 413.3L1609.1 412L1611.7 413L1616.4 412.6L1620.3 413.2L1624.8 414.9L1626.8 416.1L1629.3 416.7L1631.4 420.6L1633.9 421.8L1638 421.7L1640.3 426L1639.8 429.9L1638.5 432L1637.6 435.7L1637.3 439L1635.4 441L1635.5 444.9L1634.7 448.9L1635 452.6L1635.3 456.2L1636.3 460.2L1634.5 464.5L1633.5 466.7L1631.5 472.5L1631.8 477.9L1634.2 481.1L1636.5 483.9L1638.3 486.2L1640.2 488.6L1643.3 491.9L1645.2 497.4L1648.1 498.5L1652.3 501.1L1654.8 504.5L1661 507.5L1663.9 508.5L1669.5 507.6L1671.8 505.7L1675.9 503.9L1679.2 502.1L1682.2 500.9L1688.1 497.2L1690.3 498.1L1694.3 498L1698.4 499.4L1700 500.9L1703.4 500.6L1706.2 502.8L1708.7 506.9L1713.8 507.1L1714.7 509.1L1719.1 513.2L1720.9 516.5L1723.4 510.8L1725.8 507.6L1728 505.9L1731 502.6L1732.6 499.9L1738.1 498.3L1739.2 494L1738.5 490.6L1738.4 487.8L1741.5 485.4L1744 483.6L1745.4 480L1750.1 476.5L1751.3 478.4L1755.4 479.1L1757.1 474.9L1760.9 475.4L1763.2 474.4L1768.2 474.5L1770.8 473.5L1774.3 471.4L1777.9 469.6L1780.3 467.8L1781.5 466.3L1785.2 463.8L1787.2 462.5L1789 460.2L1793.9 461L1795.6 463L1794.6 467.9L1790.3 468.5L1785.7 470.3L1786.1 475.3L1789.6 477L1791.5 481.4L1794.2 480.1L1795.7 478L1801.3 475.8L1803 473.3L1806.3 472.5L1812.2 471L1807.6 469.2L1808.1 463.9L1812.1 463.5L1813.6 465.5L1813.2 471.1L1815.3 472.8L1819.3 473.4L1823.1 473.1L1826.4 474.1L1830.8 475.8L1833.7 478.3L1834.4 484.6L1840.6 485.4L1843 485.3L1845.5 484.6L1849.5 484.4L1852.6 482.6L1856.9 484.1L1860 484.5L1864 487.6L1868 487.9L1870.7 489.9L1875.2 490.8L1878.1 489.7L1881.3 490.5L1883.2 489L1885.8 485.4L1889.6 485.1L1891.9 482L1896.6 483.7L1900.1 484.7L1903.3 482.7L1907 482.8L1910.8 481.7L1912.6 480.1L1916.7 482.3L1913.5 485.3L1909.6 485L1906 485.3L1902.7 487.2L1907.1 490L1910.8 492.3L1915.2 493.2L1918.7 494.5L1920.9 496.9L1925.5 496.5L1928.5 499.4L1929.3 502.2L1930.2 504.8L1929.6 507.1L1928 510.9L1932.1 510L1935.4 510.3L1938.6 510L1940.7 510.7L1943 514.6L1948.2 515.5L1951 518.5L1954.1 520.8L1958.8 523.3L1960.4 525.3L1961.6 528.4L1964.2 531.8L1968.4 533.2L1967.9 536.6L1969.2 539.2L1972 541.2L1973.5 542.9L1970.7 542.9L1966.7 543.6L1963.9 544.6L1961.2 543.7L1958.5 545.1L1955.1 544.2L1953 544.2L1948.2 545.7L1947.6 542.6L1943 544.3L1940.7 544.5L1936.9 543.3L1934.1 544.7L1930.3 543.3L1928 542.6L1924.8 543.7L1922.3 543.5L1918.4 543.7L1915.9 543.5L1913 544.5L1910.8 545.2L1906.4 543.7L1902.2 545.3L1900.4 544L1898.3 543L1895.2 544L1890.6 544.2L1889.7 542.7L1886.4 544.1L1883.2 544.3L1880.8 543.8L1877.4 543.7L1874.3 543.4L1870.7 545.2L1868.1 543.9L1864 543.4L1861.9 544.6L1859.1 544.4L1855.7 544.9L1852.5 543.6L1850.4 544L1846.5 543.6L1843.5 544.4L1840.9 543.1L1838 544.1L1834 544.5L1831.5 543.8L1829.2 544.9L1825.2 544.3L1822 545.6L1819.3 544.8L1816.2 544.6L1815.2 542.2L1810.3 544.3L1807.5 543.5L1806.1 544L1800.4 544.6L1797.3 544.8L1795.1 544.1L1793.4 544.1L1788.5 542.8L1787.3 544.5L1782.9 544.6L1780.8 544.4L1775.9 543.8L1775.1 544.5L1772.1 542.3L1768.6 544.3L1767.2 543.3L1762.2 544L1760 543.7L1757.2 543.4L1753.6 543.6L1750.5 543.5L1746.2 544.8L1744.6 543.6L1741.5 544.7L1737.6 543.9L1735.7 544.4L1732.1 542.5L1730.2 544.2L1726.3 543.8L1723.5 543.7L1719.5 543.5L1718.1 540.1L1716 537.5L1714.2 534.1L1712.4 531.3L1712.1 528.6L1707.4 525.9L1704.8 522L1701.7 518.1L1705.7 513.5L1703.9 512.4L1701.4 510.6L1697 507.9L1693.5 505.4L1687.7 504.5L1684.4 510.2L1681.1 511.7L1679.3 513.1L1677.6 513L1675.4 516.1L1678.1 521.6L1677.7 522.2L1681.7 524.3L1679.1 524.6L1676.8 528L1672.9 527.7L1670.1 528.1L1667.9 522.9L1660.3 521.9L1659.4 517.3L1655.4 515.7L1653.2 514.9L1649.5 516.2L1643.7 513.4L1643.7 518.5L1641.1 516L1637.5 513L1634 511.5L1633.4 506.9L1633.8 505.7L1629 500.6L1625.7 498.6L1622.6 497.1L1619 495.8L1617.4 492.8L1615.2 497L1611.5 494.7L1606.1 491.7L1605.6 489.5L1605.5 486.8L1606.8 482.9L1606.9 478.4L1604 476.1L1603.9 474L1601.5 471.2L1600.3 469L1598.2 467.1L1595.9 465.3L1592.8 461.3L1590 458.1L1589.1 457L1585.1 454.9L1583 453.7L1586.2 447.7L1579.1 448.9L1576.3 449.3L1570.5 449.6L1567.4 447.9L1565.7 446.8L1560.7 448.1L1557.7 446.1L1551.2 446.2L1552.8 443.3L1552.5 439.9L1552 436.7L1551.9 434.8L1550.6 430.8L1551.8 427.4L1551.4 425.4L1553.1 422.2L1551.9 417.7L1553 415.8L1551.6 412L1551.6 409L1551.7 407.1L1551.7 403.9L1551.1 401.7L1551.2 396.4L1551.5 394.2L1550.9 391.4L1551.9 387.9L1551.6 386.7L1552.1 382.6L1551.7 379.6L1551.6 377.2L1551.6 371.9L1551.6 370L1552.1 367.2L1551.8 366.1L1550.9 360.8L1550.7 356.9L1550.3 355.8L1551.2 351.2L1550.6 350L1551.1 346.3L1551.9 344.5L1553 341.2L1555 340.6ZM1917.4 483.8L1919 482.7L1922.5 482L1925 480.7L1928.1 480.1L1929.1 486L1927.2 491L1925.7 489L1923.4 491.2L1920.5 490.1L1916.5 491.6L1921.4 488.8L1922.7 483ZM1882.8 478.5L1888.5 477.1L1891.7 479.3L1887.6 480.3Z" fill="#d2b48c" stroke="#000" stroke-width="2.5" stroke-linejoin="round"/>
<path d="M1790.8 481.9L1793.5 484.8L1795.4 488.6L1796.2 491.6L1797.9 494.5L1796.8 497.1L1795.9 500.5L1792.3 502.7L1789.9 504.9L1787.4 501.7L1785.2 499L1785.9 495.3L1786.7 492L1787.8 487.6L1789.5 485.4Z" fill="#97b6e1" stroke="#000" stroke-width="2.1" stroke-linejoin="round"/>
<path d="M1604.8 464.4L1608.7 465.7L1616.5 473.6L1619.1 477.5L1612.6 476.2L1606.8 469.7ZM1595.7 460.4L1600.9 461.1L1600.3 463.1L1597 462.4Z" fill="#a9b8c6" stroke="none"/>
<path d="M1747.3 478.2L1749 482.4L1748.9 486.4L1750 490.5L1750.7 492.6L1751.2 494.7L1752.6 498.6L1753.5 501.5L1754.8 503.3L1757.1 506.8L1759.4 510.5L1760.1 513.3L1760.2 516.7L1760.4 520.4L1760.9 522.9L1759.3 527L1759.7 529.8L1759.2 532.3M1928.9 510.1L1926.5 509.7L1923 511L1920.5 511.7L1916.1 512.1L1913.3 515.2L1909.7 516.1L1906.1 517.6L1902.1 517.4L1898.1 518.4L1893.8 517.5L1890.3 519.1L1886.3 519.8L1882.7 520.3L1879.6 521.6L1877.3 522.1L1874.3 524L1870.8 524.6L1868.5 525.2L1864.7 525.8L1862.1 528.1L1859.3 528.6L1855 530.5L1851.3 532.3M1910.2 493.8L1912.7 496.6L1914.4 500.7L1916.5 504.7L1916.7 507.6L1918.7 510.2M1925.6 497.5L1922.2 501L1920.3 505.2L1918.7 510.2M1640.3 425.2L1637.6 426.1L1635 426.8L1631.2 427.6L1628.3 429.3L1626 429.6L1622.7 429.4L1619.3 430.8L1616 432.2L1614.2 433.9L1612.1 435.6L1611 439.6L1608.8 440.8L1604.8 443L1603.5 444.6M1634 480L1629.9 480.4L1626.1 479.3L1622.9 478.9L1619.1 477.5" fill="none" stroke="#97b6e1" stroke-width="2" stroke-linejoin="round"/>
<path d="M1573.1 379L1567.9 385.6L1562.7 386.3M1562.9 385.9L1561.7 392.1L1562.6 397.4L1561.8 402.5L1563 408.1L1561.9 412.7L1567.2 413.3M1560 434.1L1563.1 430L1566.3 435L1570.9 439.8L1577.7 441.5L1580.8 447.2M1560.5 433.5L1562.2 428L1565.4 423.8L1569.6 420.5L1574.3 416.3M1586.9 452L1589.7 447.6L1594 443.6L1601.9 439.7L1607.7 439.9L1611.6 436L1616.3 431.2L1623.2 430.3L1628.4 428.4L1633.1 426.8L1640.5 426.2M1607.2 477.9L1613.2 478.7L1617.7 479.8L1623.5 481.1L1629 482L1634 480.2M1642.9 513.8L1645.1 506.6L1643.8 504L1647.6 497.8M1716.3 509.2L1714.9 517.3L1717.6 519.3L1714.1 524L1708.6 528.4M1793.4 467.8L1788.2 472.6L1782.6 477.6L1777.8 481.7L1774 485.7L1771.9 492.2L1769 496.5L1767.2 501.7L1774.9 503.6L1777.9 511.8L1779.9 517.9L1778.5 525.5L1786.4 531M1940.5 510.8L1937.5 515.6L1934.1 520L1930.8 524.6L1936.4 529.8L1933 533M1787.6 362.3L1790.4 369.4L1785.3 376.9L1788.6 380.9L1788.4 385" fill="none" stroke="#000" stroke-width="1.7" stroke-dasharray="5 2.4"/>
<path d="M1924.8 451.6L1923.8 454.4L1921.5 457.3L1920 461.8M1899.3 382.4L1901.8 385M1902.7 392L1904.7 396.7L1907.7 397.8M1689.9 323.8L1693.8 324.3L1696.8 324.2L1699.6 326.3L1703 326.4L1705.6 328.1L1709.6 331.1L1712.5 332.9M1669.1 315.1L1672.8 315.1L1675.8 315.7L1678 316.9L1680 317.5L1683.9 318.9L1687.2 322.1L1690.4 323.9M1691.5 343.9L1695 344.3L1700.3 346.9L1702.6 348L1704.7 350.2M1705.1 350.3L1708.6 350.9M1649.2 335L1653.4 335.1L1656.2 335.2L1661.2 336L1662.7 333.8L1665.8 332.2M1629.2 316.9L1633.2 316.9L1637.3 316.9M1736.2 297.4L1741.7 300.5L1740.7 304L1739.7 307M1730.8 301.7L1733 305.2L1735.8 308.5M1709 297.8L1710.2 302L1712.5 305.6M1583.9 411.7L1587.7 410.7L1591.9 409.2M1575.6 386.1L1577.2 390.6L1577.2 393.8L1577.5 396.5L1577.6 400.5" fill="none" stroke="#000" stroke-width="2.8" stroke-linecap="round" stroke-linejoin="round"/>
<path d="M1665.2 313.7L1669.1 314.6L1670.9 314.1L1677 315.4L1679.3 317L1682.8 317.9L1686.6 319.8L1690.6 321.1L1693.9 323.7L1696.8 324.6L1698.7 324.9L1701.6 325.2L1704.6 326.2L1708.9 328.9L1710.4 329L1713.8 332.2M1578.8 382.7L1577.5 385.3L1576 389.7L1576.9 394.2L1576.3 395.9L1576.7 399.7L1575 403.2M1583.5 359.5L1582.7 364.2L1582.8 366.6M1695 341.7L1697.3 342.9L1700.8 345.3" fill="none" stroke="#000" stroke-width="4.2" stroke-linecap="round" stroke-linejoin="round"/>
<ellipse cx="1811.4" cy="459.1" rx="1.6" ry="2.2" transform="rotate(-40 1811.4 459.1)" fill="#000"/>
<ellipse cx="1824.4" cy="463.1" rx="3.2" ry="1.5" transform="rotate(35 1824.4 463.1)" fill="#000"/>
<ellipse cx="1833.5" cy="463.7" rx="1.4" ry="2.4" transform="rotate(-20 1833.5 463.7)" fill="#000"/>
<ellipse cx="1842.2" cy="465.7" rx="1.2" ry="0.9" transform="rotate(0 1842.2 465.7)" fill="#000"/>
<ellipse cx="1853.2" cy="467.7" rx="2.6" ry="1.8" transform="rotate(0 1853.2 467.7)" fill="#000"/>
<ellipse cx="1861" cy="468.3" rx="1.3" ry="1" transform="rotate(0 1861 468.3)" fill="#000"/>
<ellipse cx="1881.1" cy="467.7" rx="1.6" ry="1.4" transform="rotate(0 1881.1 467.7)" fill="#000"/>
<ellipse cx="1899.2" cy="473.6" rx="1.2" ry="1" transform="rotate(0 1899.2 473.6)" fill="#000"/>
<ellipse cx="1872" cy="479.5" rx="2.2" ry="1.4" transform="rotate(0 1872 479.5)" fill="#000"/>
<ellipse cx="1901.8" cy="480.2" rx="2.4" ry="1" transform="rotate(10 1901.8 480.2)" fill="#000"/>
<ellipse cx="1665.1" cy="367.7" rx="3" ry="1.4" transform="rotate(-10 1665.1 367.7)" fill="#000"/>
<ellipse cx="1683.3" cy="362.5" rx="2.2" ry="1.2" transform="rotate(-15 1683.3 362.5)" fill="#000"/>
<ellipse cx="1879.1" cy="389.3" rx="2.6" ry="1.3" transform="rotate(0 1879.1 389.3)" fill="#000"/>
<ellipse cx="1880.4" cy="380" rx="1.6" ry="1" transform="rotate(0 1880.4 380)" fill="#000"/>
<ellipse cx="1862.9" cy="385.7" rx="1.2" ry="1" transform="rotate(0 1862.9 385.7)" fill="#000"/>
<ellipse cx="1838.3" cy="384.6" rx="1.3" ry="1.2" transform="rotate(0 1838.3 384.6)" fill="#000"/>
<ellipse cx="1901.2" cy="385" rx="1.6" ry="1.5" transform="rotate(0 1901.2 385)" fill="#000"/>
<ellipse cx="1905.1" cy="395.1" rx="1.8" ry="1.6" transform="rotate(-40 1905.1 395.1)" fill="#000"/>
<ellipse cx="1912.2" cy="399.2" rx="1.2" ry="1" transform="rotate(0 1912.2 399.2)" fill="#000"/>
<ellipse cx="1917.4" cy="398.1" rx="1.8" ry="1.8" transform="rotate(0 1917.4 398.1)" fill="#000"/>
<ellipse cx="1917.4" cy="391.1" rx="1.2" ry="1.2" transform="rotate(0 1917.4 391.1)" fill="#000"/>
<ellipse cx="1920.6" cy="409.2" rx="3.6" ry="3.2" transform="rotate(0 1920.6 409.2)" fill="#000"/>
<ellipse cx="1923.9" cy="420.4" rx="2.2" ry="3.2" transform="rotate(-15 1923.9 420.4)" fill="#000"/>
<ellipse cx="1927.8" cy="430.6" rx="2.4" ry="3.4" transform="rotate(-15 1927.8 430.6)" fill="#000"/>
<ellipse cx="1928" cy="440.6" rx="1.8" ry="2.9" transform="rotate(0 1928 440.6)" fill="#000"/>
<ellipse cx="1925.2" cy="449.2" rx="1.4" ry="2.2" transform="rotate(0 1925.2 449.2)" fill="#000"/>
<ellipse cx="1918.7" cy="464.1" rx="1.6" ry="2.2" transform="rotate(20 1918.7 464.1)" fill="#000"/>
<ellipse cx="1946.6" cy="450.1" rx="2.2" ry="2.4" transform="rotate(0 1946.6 450.1)" fill="#000"/>
<ellipse cx="1932.3" cy="475.6" rx="2.4" ry="1.3" transform="rotate(-30 1932.3 475.6)" fill="#000"/>
<ellipse cx="1663.6" cy="447.9" rx="1.3" ry="1.3" transform="rotate(0 1663.6 447.9)" fill="#000"/>
<ellipse cx="1659.3" cy="458.5" rx="1.3" ry="1.5" transform="rotate(0 1659.3 458.5)" fill="#000"/>
<ellipse cx="1642.1" cy="463.7" rx="1" ry="1" transform="rotate(0 1642.1 463.7)" fill="#000"/>
<ellipse cx="1715.7" cy="288" rx="2" ry="1" transform="rotate(0 1715.7 288)" fill="#000"/>
<ellipse cx="1764.4" cy="345.3" rx="3.5" ry="1.5" transform="rotate(30 1764.4 345.3)" fill="#000"/>
<ellipse cx="1770.8" cy="343.3" rx="2" ry="1" transform="rotate(-30 1770.8 343.3)" fill="#000"/>
<ellipse cx="1783.2" cy="333.6" rx="3.2" ry="1.2" transform="rotate(0 1783.2 333.6)" fill="#000"/>
<ellipse cx="1790.3" cy="334.3" rx="1.6" ry="1" transform="rotate(0 1790.3 334.3)" fill="#000"/>
<ellipse cx="1796.1" cy="338.4" rx="1" ry="1.6" transform="rotate(0 1796.1 338.4)" fill="#000"/>
<ellipse cx="1742.3" cy="308.5" rx="1" ry="4" transform="rotate(-35 1742.3 308.5)" fill="#000"/>
<ellipse cx="1747.5" cy="315.5" rx="1" ry="3" transform="rotate(-30 1747.5 315.5)" fill="#000"/>
<ellipse cx="1756.6" cy="320.4" rx="2" ry="1.5" transform="rotate(-30 1756.6 320.4)" fill="#000"/>
<ellipse cx="1759.2" cy="326.6" rx="1.2" ry="2.6" transform="rotate(30 1759.2 326.6)" fill="#000"/>
<ellipse cx="1772.1" cy="325.2" rx="2" ry="1.2" transform="rotate(0 1772.1 325.2)" fill="#000"/>
<ellipse cx="1752.7" cy="301.4" rx="2" ry="2" transform="rotate(0 1752.7 301.4)" fill="#000"/>
<ellipse cx="1733.2" cy="309.9" rx="4" ry="1" transform="rotate(35 1733.2 309.9)" fill="#000"/>
<ellipse cx="1709.9" cy="300" rx="3" ry="2" transform="rotate(0 1709.9 300)" fill="#000"/>
<ellipse cx="1578.2" cy="395.1" rx="0.9" ry="3" transform="rotate(10 1578.2 395.1)" fill="#000"/>
<ellipse cx="1591.9" cy="352.2" rx="1.3" ry="2.6" transform="rotate(-25 1591.9 352.2)" fill="#000"/>
<ellipse cx="1597" cy="407.9" rx="3.5" ry="1.2" transform="rotate(-20 1597 407.9)" fill="#000"/>
<ellipse cx="1604.8" cy="406.6" rx="2" ry="1" transform="rotate(0 1604.8 406.6)" fill="#000"/>
<ellipse cx="1691.7" cy="525.8" rx="1.5" ry="1.5" transform="rotate(0 1691.7 525.8)" fill="#000"/>
<ellipse cx="1658" cy="525.2" rx="2.4" ry="1.8" transform="rotate(0 1658 525.2)" fill="#000"/>
<ellipse cx="1695.6" cy="513.5" rx="2" ry="1.5" transform="rotate(0 1695.6 513.5)" fill="#000"/>
<ellipse cx="1652.8" cy="501.7" rx="1.6" ry="1.2" transform="rotate(0 1652.8 501.7)" fill="#000"/>
<path d="" fill="#d2b48c" stroke="#000" stroke-width="1.7"/>
<circle cx="1876.5" cy="383.3" r="4" fill="#ff0000" stroke="#000" stroke-width="0.8"/>
</g>
<rect x="1564.4" y="302.5" width="401.9" height="228.4" fill="none" stroke="#000" stroke-width="1.4"/>
<path d="M1616.5 302.5v-9.2M1616.5 530.9v9.2M1681.3 302.5v-9.2M1681.3 530.9v9.2M1746.2 302.5v-9.2M1746.2 530.9v9.2M1811 302.5v-9.2M1811 530.9v9.2M1875.9 302.5v-9.2M1875.9 530.9v9.2M1940.8 302.5v-9.2M1940.8 530.9v9.2M1564.4 491.9h-9.2M1966.3 491.9h9.2M1564.4 426h-9.2M1966.3 426h9.2M1564.4 358.4h-9.2M1966.3 358.4h9.2" stroke="#000" stroke-width="3.3" fill="none"/>
<path d="M1564.6 302.5v-3.3M1564.6 530.9v3.3M1577.6 302.5v-3.3M1577.6 530.9v3.3M1590.6 302.5v-3.3M1590.6 530.9v3.3M1603.5 302.5v-3.3M1603.5 530.9v3.3M1629.5 302.5v-3.3M1629.5 530.9v3.3M1642.4 302.5v-3.3M1642.4 530.9v3.3M1655.4 302.5v-3.3M1655.4 530.9v3.3M1668.4 302.5v-3.3M1668.4 530.9v3.3M1694.3 302.5v-3.3M1694.3 530.9v3.3M1707.3 302.5v-3.3M1707.3 530.9v3.3M1720.3 302.5v-3.3M1720.3 530.9v3.3M1733.2 302.5v-3.3M1733.2 530.9v3.3M1759.2 302.5v-3.3M1759.2 530.9v3.3M1772.1 302.5v-3.3M1772.1 530.9v3.3M1785.1 302.5v-3.3M1785.1 530.9v3.3M1798.1 302.5v-3.3M1798.1 530.9v3.3M1824 302.5v-3.3M1824 530.9v3.3M1837 302.5v-3.3M1837 530.9v3.3M1850 302.5v-3.3M1850 530.9v3.3M1862.9 302.5v-3.3M1862.9 530.9v3.3M1888.9 302.5v-3.3M1888.9 530.9v3.3M1901.8 302.5v-3.3M1901.8 530.9v3.3M1914.8 302.5v-3.3M1914.8 530.9v3.3M1927.8 302.5v-3.3M1927.8 530.9v3.3M1953.7 302.5v-3.3M1953.7 530.9v3.3M1966.7 302.5v-3.3M1966.7 530.9v3.3M1564.4 531h-3.3M1966.3 531h3.3M1564.4 518h-3.3M1966.3 518h3.3M1564.4 505h-3.3M1966.3 505h3.3M1564.4 478.8h-3.3M1966.3 478.8h3.3M1564.4 465.7h-3.3M1966.3 465.7h3.3M1564.4 452.5h-3.3M1966.3 452.5h3.3M1564.4 439.3h-3.3M1966.3 439.3h3.3M1564.4 412.6h-3.3M1966.3 412.6h3.3M1564.4 399.2h-3.3M1966.3 399.2h3.3M1564.4 385.7h-3.3M1966.3 385.7h3.3M1564.4 372.1h-3.3M1966.3 372.1h3.3M1564.4 344.7h-3.3M1966.3 344.7h3.3M1564.4 330.8h-3.3M1966.3 330.8h3.3M1564.4 316.9h-3.3M1966.3 316.9h3.3" stroke="#000" stroke-width="1.7" fill="none"/>
<text x="1548.3" y="367.4" font-size="22.7" text-anchor="end">20°N</text>
<text x="1548.3" y="435" font-size="22.7" text-anchor="end">15°N</text>
<text x="1548.3" y="500.9" font-size="22.7" text-anchor="end">10°N</text>
<text transform="translate(1615 577.5) rotate(-45)" font-size="22.7" text-anchor="middle" y="8.3">85°W</text>
<text transform="translate(1679.8 577.5) rotate(-45)" font-size="22.7" text-anchor="middle" y="8.3">80°W</text>
<text transform="translate(1744.7 577.5) rotate(-45)" font-size="22.7" text-anchor="middle" y="8.3">75°W</text>
<text transform="translate(1809.5 577.5) rotate(-45)" font-size="22.7" text-anchor="middle" y="8.3">70°W</text>
<text transform="translate(1874.4 577.5) rotate(-45)" font-size="22.7" text-anchor="middle" y="8.3">65°W</text>
<text transform="translate(1939.2 577.5) rotate(-45)" font-size="22.7" text-anchor="middle" y="8.3">60°W</text>
<rect x="1635.3" y="631.2" width="260.3" height="177.8" rx="4.5" fill="#fff" stroke="#cccccc" stroke-width="1.67"/>
<path d="M1643.2 650.4H1691" stroke="#0000ff" stroke-width="3.1" fill="none"/>
<circle cx="1667" cy="650.4" r="5.75" fill="#0000ff"/>
<text x="1706.6" y="658.5" font-size="22.7">uvi_02</text>
<path d="M1643.2 684.6H1691" stroke="#ff0000" stroke-width="3.1" fill="none"/>
<circle cx="1667" cy="684.6" r="5.75" fill="#ff0000"/>
<text x="1706.6" y="692.7" font-size="22.7">RTOFS</text>
<path d="M1643.2 718.8H1691" stroke="#ffa500" stroke-width="3.1" fill="none"/>
<circle cx="1667" cy="718.8" r="5.75" fill="#ffa500"/>
<text x="1706.6" y="726.9" font-size="22.7">RTOFS (Parallel)</text>
<path d="M1643.2 753.1H1691" stroke="#008000" stroke-width="3.1" fill="none"/>
<circle cx="1667" cy="753.1" r="5.75" fill="#008000"/>
<text x="1706.6" y="761.2" font-size="22.7">ESPC</text>
<path d="M1643.2 787.3H1691" stroke="#ff00ff" stroke-width="3.1" fill="none"/>
<circle cx="1667" cy="787.3" r="5.75" fill="#ff00ff"/>
<text x="1706.6" y="795.4" font-size="22.7">CMEMS</text>
</svg></body></html>
